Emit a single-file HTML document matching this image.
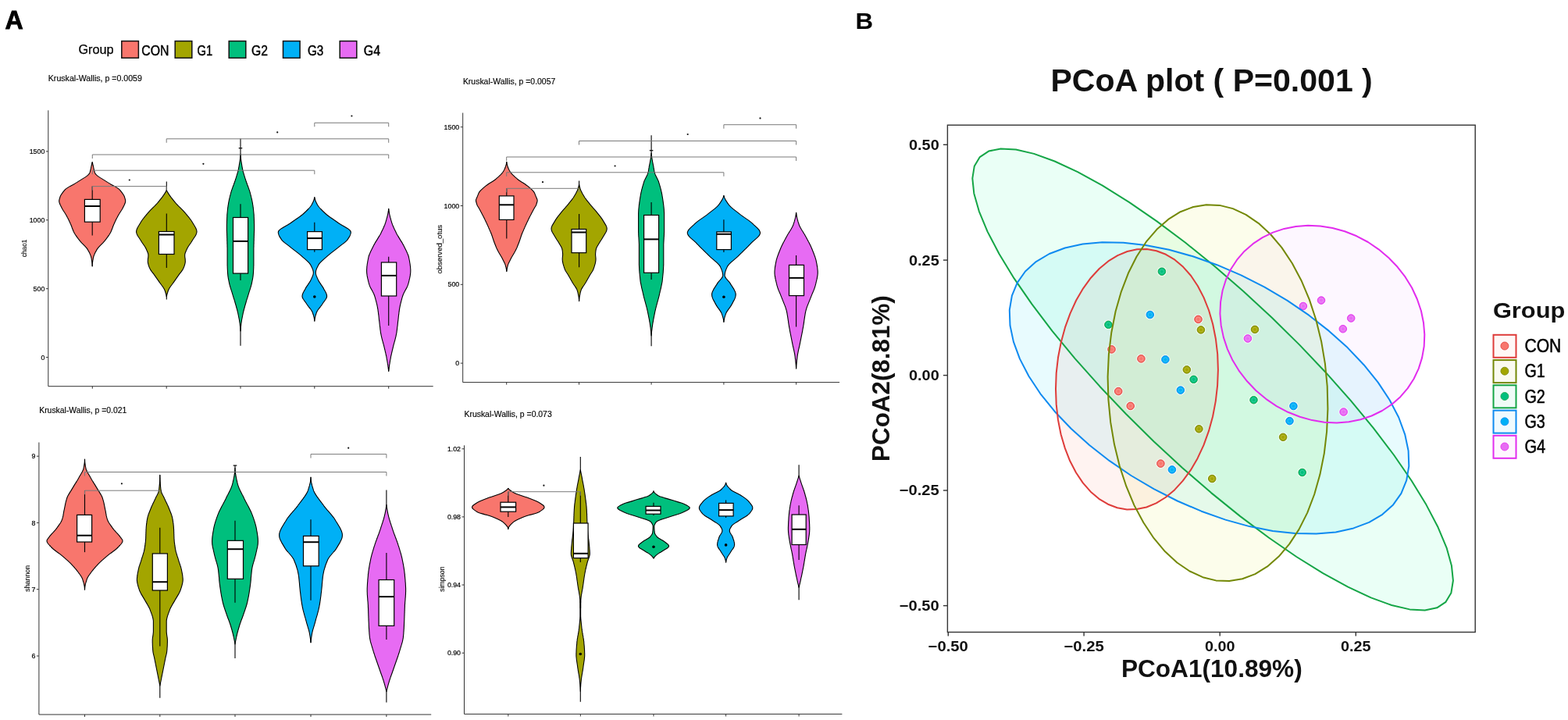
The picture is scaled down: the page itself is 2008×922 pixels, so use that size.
<!DOCTYPE html><html><head><meta charset="utf-8"><title>Alpha diversity and PCoA</title><style>
html,body{margin:0;padding:0;background:#fff;}
body{width:2008px;height:922px;overflow:hidden;}
svg{display:block;}
text{font-family:"Liberation Sans",Arial,sans-serif;fill:#000;}
.vl{stroke:#000;stroke-width:1.1;}
.vo{stroke:#000;stroke-width:1.1;stroke-linejoin:round;}
.wk{stroke:#000;stroke-width:1.1;}
.bx{fill:#fff;stroke:#000;stroke-width:1.2;}
.md{stroke:#000;stroke-width:2;}
.br{fill:none;stroke:#7a7a7a;stroke-width:1;}
.ax{stroke:#333;stroke-width:1;}
.tk{font-size:8.8px;fill:#000;stroke:#000;stroke-width:0.2;}
.yl{font-size:8.6px;fill:#111;stroke:#111;stroke-width:0.15;}
.kw{font-size:10.2px;fill:#000;stroke:#000;stroke-width:0.15;}
.pt{font-size:18.5px;font-weight:bold;fill:#111;}
.at{font-size:31px;font-weight:bold;fill:#111;}
.tt{font-size:41px;font-weight:bold;fill:#111;}
.lg{font-size:28.5px;font-weight:bold;fill:#111;}
.ll{font-size:24.5px;fill:#000;stroke:#000;stroke-width:0.5;}
.gA{font-size:16px;fill:#000;stroke:#000;stroke-width:0.25;}
.lA{font-size:18.7px;fill:#000;stroke:#000;stroke-width:0.45;}
.lab{font-weight:bold;fill:#000;}
</style></head><body>
<svg width="2008" height="922" viewBox="0 0 2008 922">
<rect width="2008" height="922" fill="#fff"/>
<text x="6.6" y="36.9" class="lab" font-size="34" textLength="23.2" lengthAdjust="spacingAndGlyphs" stroke="#000" stroke-width="0.9">A</text>
<text x="1095.6" y="36.7" class="lab" font-size="29.5" textLength="22.6" lengthAdjust="spacingAndGlyphs">B</text>
<text x="100.4" y="69.1" class="gA" textLength="45" lengthAdjust="spacingAndGlyphs">Group</text><rect x="155.8" y="52.6" width="21.6" height="21.6" fill="#F8766D" stroke="#111" stroke-width="1.5"/><text x="181.2" y="70.6" class="lA" textLength="35.2" lengthAdjust="spacingAndGlyphs">CON</text><rect x="224.2" y="52.6" width="21.6" height="21.6" fill="#A3A500" stroke="#111" stroke-width="1.5"/><text x="252.4" y="70.6" class="lA" textLength="19.7" lengthAdjust="spacingAndGlyphs">G1</text><rect x="293.2" y="52.6" width="21.6" height="21.6" fill="#00BF7D" stroke="#111" stroke-width="1.5"/><text x="322.1" y="70.6" class="lA" textLength="21" lengthAdjust="spacingAndGlyphs">G2</text><rect x="362.5" y="52.6" width="21.6" height="21.6" fill="#00B0F6" stroke="#111" stroke-width="1.5"/><text x="393.9" y="70.6" class="lA" textLength="20.3" lengthAdjust="spacingAndGlyphs">G3</text><rect x="435.2" y="52.6" width="21.6" height="21.6" fill="#E76BF3" stroke="#111" stroke-width="1.5"/><text x="465.8" y="70.6" class="lA" textLength="21.3" lengthAdjust="spacingAndGlyphs">G4</text>
<g><line x1="61.8" y1="141.3" x2="61.8" y2="494.7" class="ax"/><line x1="61.8" y1="494.7" x2="554.7" y2="494.7" class="ax"/><line x1="58.8" y1="193.9" x2="61.8" y2="193.9" class="ax"/><text x="57.3" y="197" class="tk" text-anchor="end">1500</text><line x1="58.8" y1="281.8" x2="61.8" y2="281.8" class="ax"/><text x="57.3" y="284.9" class="tk" text-anchor="end">1000</text><line x1="58.8" y1="369.7" x2="61.8" y2="369.7" class="ax"/><text x="57.3" y="372.8" class="tk" text-anchor="end">500</text><line x1="58.8" y1="457.6" x2="61.8" y2="457.6" class="ax"/><text x="57.3" y="460.7" class="tk" text-anchor="end">0</text><line x1="118.3" y1="494.7" x2="118.3" y2="497.7" class="ax"/><line x1="213.2" y1="494.7" x2="213.2" y2="497.7" class="ax"/><line x1="308" y1="494.7" x2="308" y2="497.7" class="ax"/><line x1="402.8" y1="494.7" x2="402.8" y2="497.7" class="ax"/><line x1="497.7" y1="494.7" x2="497.7" y2="497.7" class="ax"/><text transform="translate(33.8,317.9) rotate(-90)" class="yl" text-anchor="middle" textLength="22.6" lengthAdjust="spacingAndGlyphs">chao1</text><text x="61.8" y="104.3" class="kw" textLength="120.1" lengthAdjust="spacingAndGlyphs">Kruskal-Wallis, p =0.0059</text><line x1="118.2" y1="207.5" x2="118.2" y2="341" class="vl"/><path d="M118.2,207.5 L118.4,208.5 L118.7,209.5 L118.9,210.5 L119.1,211.5 L119.4,212.5 L119.6,213.5 L119.8,214.5 L120,215.5 L120.2,216.5 L120.4,217.5 L120.7,218.5 L120.9,219.5 L121.2,220.5 L121.6,221.4 L122.1,222.4 L122.9,223.4 L123.9,224.4 L125.1,225.4 L126.5,226.4 L128,227.4 L129.7,228.4 L131.3,229.4 L132.9,230.4 L134.5,231.4 L136.1,232.4 L137.6,233.4 L139.3,234.4 L141,235.4 L142.8,236.4 L144.7,237.4 L146.5,238.4 L148.2,239.4 L149.8,240.4 L151.3,241.4 L152.6,242.4 L153.6,243.4 L154.4,244.4 L155.2,245.4 L156,246.4 L156.7,247.4 L157.4,248.3 L158,249.3 L158.6,250.3 L159.1,251.3 L159.5,252.3 L159.8,253.3 L160.1,254.3 L160.4,255.3 L160.6,256.3 L160.7,257.3 L160.6,258.3 L160.4,259.3 L160.1,260.3 L159.7,261.3 L159.3,262.3 L158.8,263.3 L158.3,264.3 L157.8,265.3 L157.3,266.3 L156.8,267.3 L156.2,268.3 L155.6,269.3 L154.9,270.3 L154.3,271.3 L153.6,272.3 L153,273.3 L152.4,274.2 L151.8,275.2 L151.2,276.2 L150.7,277.2 L150.2,278.2 L149.6,279.2 L149.1,280.2 L148.6,281.2 L148.1,282.2 L147.7,283.2 L147.2,284.2 L146.7,285.2 L146.3,286.2 L145.8,287.2 L145.4,288.2 L145,289.2 L144.6,290.2 L144.3,291.2 L143.9,292.2 L143.5,293.2 L143.1,294.2 L142.7,295.2 L142.3,296.2 L141.8,297.2 L141.3,298.2 L140.7,299.2 L140.1,300.2 L139.5,301.1 L138.8,302.1 L138.1,303.1 L137.4,304.1 L136.6,305.1 L135.9,306.1 L135.1,307.1 L134.3,308.1 L133.5,309.1 L132.6,310.1 L131.7,311.1 L130.7,312.1 L129.7,313.1 L128.7,314.1 L127.7,315.1 L126.8,316.1 L125.9,317.1 L125.1,318.1 L124.4,319.1 L123.8,320.1 L123.3,321.1 L122.7,322.1 L122.2,323.1 L121.7,324.1 L121.2,325.1 L120.8,326.1 L120.4,327.1 L120,328 L119.8,329 L119.5,330 L119.3,331 L119.2,332 L119,333 L118.8,334 L118.7,335 L118.5,336 L118.4,337 L118.3,338 L118.3,339 L118.2,340 L118.2,341 L118.2,341 L118.2,340 L118.1,339 L118.1,338 L118,337 L117.9,336 L117.7,335 L117.6,334 L117.4,333 L117.2,332 L117.1,331 L116.9,330 L116.6,329 L116.4,328 L116,327.1 L115.6,326.1 L115.2,325.1 L114.7,324.1 L114.2,323.1 L113.7,322.1 L113.1,321.1 L112.6,320.1 L112,319.1 L111.3,318.1 L110.5,317.1 L109.6,316.1 L108.7,315.1 L107.7,314.1 L106.7,313.1 L105.7,312.1 L104.7,311.1 L103.8,310.1 L102.9,309.1 L102.1,308.1 L101.3,307.1 L100.5,306.1 L99.8,305.1 L99,304.1 L98.3,303.1 L97.6,302.1 L96.9,301.1 L96.3,300.2 L95.7,299.2 L95.1,298.2 L94.6,297.2 L94.1,296.2 L93.7,295.2 L93.3,294.2 L92.9,293.2 L92.5,292.2 L92.1,291.2 L91.8,290.2 L91.4,289.2 L91,288.2 L90.6,287.2 L90.1,286.2 L89.7,285.2 L89.2,284.2 L88.7,283.2 L88.3,282.2 L87.8,281.2 L87.3,280.2 L86.8,279.2 L86.2,278.2 L85.7,277.2 L85.2,276.2 L84.6,275.2 L84,274.2 L83.4,273.3 L82.8,272.3 L82.1,271.3 L81.5,270.3 L80.8,269.3 L80.2,268.3 L79.6,267.3 L79.1,266.3 L78.6,265.3 L78.1,264.3 L77.6,263.3 L77.1,262.3 L76.7,261.3 L76.3,260.3 L76,259.3 L75.8,258.3 L75.7,257.3 L75.8,256.3 L76,255.3 L76.3,254.3 L76.6,253.3 L76.9,252.3 L77.3,251.3 L77.8,250.3 L78.4,249.3 L79,248.3 L79.7,247.4 L80.4,246.4 L81.2,245.4 L82,244.4 L82.8,243.4 L83.8,242.4 L85.1,241.4 L86.6,240.4 L88.2,239.4 L89.9,238.4 L91.7,237.4 L93.6,236.4 L95.4,235.4 L97.1,234.4 L98.8,233.4 L100.3,232.4 L101.9,231.4 L103.5,230.4 L105.1,229.4 L106.7,228.4 L108.4,227.4 L109.9,226.4 L111.3,225.4 L112.5,224.4 L113.5,223.4 L114.3,222.4 L114.8,221.4 L115.2,220.5 L115.5,219.5 L115.7,218.5 L116,217.5 L116.2,216.5 L116.4,215.5 L116.6,214.5 L116.8,213.5 L117,212.5 L117.3,211.5 L117.5,210.5 L117.7,209.5 L118,208.5 L118.2,207.5Z" fill="#F8766D" class="vo"/><line x1="118.2" y1="238.6" x2="118.2" y2="255.4" class="wk"/><line x1="118.2" y1="284.2" x2="118.2" y2="301.5" class="wk"/><rect x="108.4" y="255.4" width="19.8" height="28.8" class="bx"/><line x1="108.4" y1="264" x2="128.2" y2="264" class="md"/><line x1="213.3" y1="232.5" x2="213.3" y2="383.5" class="vl"/><path d="M213.3,243.4 L213.8,244.4 L214.3,245.4 L214.8,246.4 L215.4,247.4 L216.1,248.4 L216.7,249.4 L217.4,250.4 L218.1,251.4 L218.8,252.4 L219.6,253.4 L220.4,254.4 L221.2,255.4 L222,256.4 L222.8,257.4 L223.6,258.4 L224.4,259.4 L225.3,260.4 L226.2,261.3 L227.2,262.3 L228.1,263.3 L229.1,264.3 L230.2,265.3 L231.2,266.3 L232.2,267.3 L233.2,268.3 L234.2,269.3 L235.1,270.3 L236,271.3 L236.9,272.3 L237.7,273.3 L238.6,274.3 L239.4,275.3 L240.2,276.3 L241.1,277.3 L241.9,278.3 L242.6,279.3 L243.4,280.3 L244.1,281.3 L244.8,282.3 L245.5,283.3 L246.1,284.3 L246.7,285.3 L247.3,286.3 L247.9,287.3 L248.5,288.3 L249.2,289.3 L249.7,290.3 L250.3,291.3 L250.8,292.3 L251.2,293.3 L251.6,294.3 L251.8,295.2 L252,296.2 L252,297.2 L251.8,298.2 L251.5,299.2 L251.1,300.2 L250.6,301.2 L250.1,302.2 L249.4,303.2 L248.7,304.2 L248,305.2 L247.4,306.2 L246.7,307.2 L246.1,308.2 L245.5,309.2 L244.9,310.2 L244.2,311.2 L243.5,312.2 L242.8,313.2 L242.1,314.2 L241.4,315.2 L240.8,316.2 L240.2,317.2 L239.7,318.2 L239.2,319.2 L238.8,320.2 L238.3,321.2 L237.9,322.2 L237.5,323.2 L237.1,324.2 L236.9,325.2 L236.7,326.2 L236.7,327.2 L236.7,328.2 L236.8,329.1 L236.9,330.1 L237.1,331.1 L237.2,332.1 L237.2,333.1 L237.3,334.1 L237.3,335.1 L237.2,336.1 L237,337.1 L236.8,338.1 L236.5,339.1 L236.2,340.1 L235.9,341.1 L235.5,342.1 L235.1,343.1 L234.6,344.1 L234.1,345.1 L233.4,346.1 L232.7,347.1 L232,348.1 L231.2,349.1 L230.4,350.1 L229.6,351.1 L228.9,352.1 L228.2,353.1 L227.5,354.1 L226.8,355.1 L226.1,356.1 L225.4,357.1 L224.7,358.1 L224,359.1 L223.3,360.1 L222.6,361.1 L221.9,362.1 L221.2,363 L220.5,364 L219.8,365 L219,366 L218.3,367 L217.6,368 L217,369 L216.4,370 L215.9,371 L215.5,372 L215.1,373 L214.8,374 L214.5,375 L214.2,376 L213.9,377 L213.7,378 L213.5,379 L213.3,380 L213.3,380 L213.1,379 L212.9,378 L212.7,377 L212.4,376 L212.1,375 L211.8,374 L211.5,373 L211.1,372 L210.7,371 L210.2,370 L209.6,369 L209,368 L208.3,367 L207.6,366 L206.8,365 L206.1,364 L205.4,363 L204.7,362.1 L204,361.1 L203.3,360.1 L202.6,359.1 L201.9,358.1 L201.2,357.1 L200.5,356.1 L199.8,355.1 L199.1,354.1 L198.4,353.1 L197.7,352.1 L197,351.1 L196.2,350.1 L195.4,349.1 L194.6,348.1 L193.9,347.1 L193.2,346.1 L192.5,345.1 L192,344.1 L191.5,343.1 L191.1,342.1 L190.7,341.1 L190.4,340.1 L190.1,339.1 L189.8,338.1 L189.6,337.1 L189.4,336.1 L189.3,335.1 L189.3,334.1 L189.4,333.1 L189.4,332.1 L189.5,331.1 L189.7,330.1 L189.8,329.1 L189.9,328.2 L189.9,327.2 L189.9,326.2 L189.7,325.2 L189.5,324.2 L189.1,323.2 L188.7,322.2 L188.3,321.2 L187.8,320.2 L187.4,319.2 L186.9,318.2 L186.4,317.2 L185.8,316.2 L185.2,315.2 L184.5,314.2 L183.8,313.2 L183.1,312.2 L182.4,311.2 L181.7,310.2 L181.1,309.2 L180.5,308.2 L179.9,307.2 L179.2,306.2 L178.6,305.2 L177.9,304.2 L177.2,303.2 L176.5,302.2 L176,301.2 L175.5,300.2 L175.1,299.2 L174.8,298.2 L174.6,297.2 L174.6,296.2 L174.8,295.2 L175,294.3 L175.4,293.3 L175.8,292.3 L176.3,291.3 L176.9,290.3 L177.4,289.3 L178.1,288.3 L178.7,287.3 L179.3,286.3 L179.9,285.3 L180.5,284.3 L181.1,283.3 L181.8,282.3 L182.5,281.3 L183.2,280.3 L184,279.3 L184.7,278.3 L185.5,277.3 L186.4,276.3 L187.2,275.3 L188,274.3 L188.9,273.3 L189.7,272.3 L190.6,271.3 L191.5,270.3 L192.4,269.3 L193.4,268.3 L194.4,267.3 L195.4,266.3 L196.4,265.3 L197.5,264.3 L198.5,263.3 L199.4,262.3 L200.4,261.3 L201.3,260.4 L202.2,259.4 L203,258.4 L203.8,257.4 L204.6,256.4 L205.4,255.4 L206.2,254.4 L207,253.4 L207.8,252.4 L208.5,251.4 L209.2,250.4 L209.9,249.4 L210.5,248.4 L211.2,247.4 L211.8,246.4 L212.3,245.4 L212.8,244.4 L213.3,243.4Z" fill="#A3A500" class="vo"/><line x1="213.3" y1="273.6" x2="213.3" y2="296.5" class="wk"/><line x1="213.3" y1="325.5" x2="213.3" y2="343" class="wk"/><rect x="203.4" y="296.5" width="19.6" height="29" class="bx"/><line x1="203.4" y1="300.5" x2="223" y2="300.5" class="md"/><line x1="308" y1="177.6" x2="308" y2="442.7" class="vl"/><path d="M308,197.3 L308.1,198.3 L308.1,199.3 L308.2,200.3 L308.3,201.3 L308.4,202.3 L308.5,203.3 L308.6,204.3 L308.7,205.3 L308.9,206.3 L309,207.3 L309.2,208.3 L309.3,209.3 L309.5,210.3 L309.7,211.3 L309.8,212.3 L310,213.3 L310.2,214.3 L310.4,215.3 L310.5,216.3 L310.8,217.3 L311,218.3 L311.2,219.3 L311.5,220.3 L311.8,221.3 L312.1,222.3 L312.4,223.3 L312.7,224.3 L313,225.3 L313.3,226.3 L313.6,227.3 L313.9,228.3 L314.2,229.3 L314.6,230.3 L314.9,231.3 L315.2,232.3 L315.6,233.3 L315.9,234.3 L316.3,235.2 L316.6,236.2 L317,237.2 L317.4,238.2 L317.8,239.2 L318.1,240.2 L318.5,241.2 L318.8,242.2 L319.2,243.2 L319.5,244.2 L319.8,245.2 L320.1,246.2 L320.4,247.2 L320.6,248.2 L320.9,249.2 L321.2,250.2 L321.4,251.2 L321.7,252.2 L321.9,253.2 L322.2,254.2 L322.4,255.2 L322.6,256.2 L322.8,257.2 L323,258.2 L323.2,259.2 L323.4,260.2 L323.5,261.2 L323.7,262.2 L323.8,263.2 L324,264.2 L324.1,265.2 L324.3,266.2 L324.4,267.2 L324.5,268.2 L324.6,269.2 L324.7,270.2 L324.8,271.2 L324.9,272.2 L325,273.2 L325.1,274.2 L325.2,275.2 L325.2,276.2 L325.2,277.2 L325.3,278.2 L325.3,279.2 L325.4,280.2 L325.4,281.2 L325.4,282.2 L325.5,283.2 L325.5,284.2 L325.5,285.2 L325.5,286.2 L325.6,287.2 L325.6,288.2 L325.6,289.2 L325.6,290.2 L325.6,291.2 L325.6,292.2 L325.6,293.2 L325.6,294.2 L325.6,295.2 L325.5,296.2 L325.5,297.2 L325.5,298.2 L325.4,299.2 L325.4,300.2 L325.4,301.2 L325.3,302.2 L325.3,303.2 L325.3,304.2 L325.2,305.2 L325.2,306.2 L325.2,307.2 L325.2,308.2 L325.1,309.2 L325.1,310.2 L325.1,311.1 L325.1,312.1 L325,313.1 L325,314.1 L325,315.1 L325,316.1 L324.9,317.1 L324.9,318.1 L324.9,319.1 L324.9,320.1 L324.9,321.1 L324.9,322.1 L324.9,323.1 L324.9,324.1 L324.9,325.1 L324.9,326.1 L324.9,327.1 L324.9,328.1 L324.9,329.1 L324.9,330.1 L324.9,331.1 L324.9,332.1 L324.9,333.1 L324.9,334.1 L324.9,335.1 L324.9,336.1 L324.9,337.1 L324.9,338.1 L324.9,339.1 L324.9,340.1 L324.8,341.1 L324.8,342.1 L324.8,343.1 L324.7,344.1 L324.7,345.1 L324.6,346.1 L324.6,347.1 L324.5,348.1 L324.5,349.1 L324.4,350.1 L324.3,351.1 L324.2,352.1 L324.1,353.1 L324,354.1 L323.8,355.1 L323.7,356.1 L323.5,357.1 L323.3,358.1 L323.1,359.1 L322.9,360.1 L322.7,361.1 L322.5,362.1 L322.3,363.1 L322.1,364.1 L321.8,365.1 L321.5,366.1 L321.3,367.1 L320.9,368.1 L320.6,369.1 L320.3,370.1 L320,371.1 L319.7,372.1 L319.3,373.1 L319,374.1 L318.7,375.1 L318.4,376.1 L318.1,377.1 L317.8,378.1 L317.5,379.1 L317.2,380.1 L316.9,381.1 L316.6,382.1 L316.2,383.1 L315.9,384.1 L315.6,385.1 L315.3,386.1 L315.1,387 L314.8,388 L314.5,389 L314.2,390 L313.9,391 L313.6,392 L313.4,393 L313.1,394 L312.8,395 L312.5,396 L312.3,397 L312,398 L311.8,399 L311.5,400 L311.3,401 L311.1,402 L310.9,403 L310.7,404 L310.5,405 L310.3,406 L310.1,407 L309.9,408 L309.7,409 L309.5,410 L309.4,411 L309.2,412 L309.1,413 L308.9,414 L308.8,415 L308.7,416 L308.6,417 L308.5,418 L308.4,419 L308.3,420 L308.2,421 L308.1,422 L308.1,423 L308,424 L308,424 L307.9,423 L307.9,422 L307.8,421 L307.7,420 L307.6,419 L307.5,418 L307.4,417 L307.3,416 L307.2,415 L307.1,414 L306.9,413 L306.8,412 L306.6,411 L306.5,410 L306.3,409 L306.1,408 L305.9,407 L305.7,406 L305.5,405 L305.3,404 L305.1,403 L304.9,402 L304.7,401 L304.5,400 L304.2,399 L304,398 L303.7,397 L303.5,396 L303.2,395 L302.9,394 L302.6,393 L302.4,392 L302.1,391 L301.8,390 L301.5,389 L301.2,388 L300.9,387 L300.7,386.1 L300.4,385.1 L300.1,384.1 L299.8,383.1 L299.4,382.1 L299.1,381.1 L298.8,380.1 L298.5,379.1 L298.2,378.1 L297.9,377.1 L297.6,376.1 L297.3,375.1 L297,374.1 L296.7,373.1 L296.3,372.1 L296,371.1 L295.7,370.1 L295.4,369.1 L295.1,368.1 L294.7,367.1 L294.5,366.1 L294.2,365.1 L293.9,364.1 L293.7,363.1 L293.5,362.1 L293.3,361.1 L293.1,360.1 L292.9,359.1 L292.7,358.1 L292.5,357.1 L292.3,356.1 L292.2,355.1 L292,354.1 L291.9,353.1 L291.8,352.1 L291.7,351.1 L291.6,350.1 L291.5,349.1 L291.5,348.1 L291.4,347.1 L291.4,346.1 L291.3,345.1 L291.3,344.1 L291.2,343.1 L291.2,342.1 L291.2,341.1 L291.1,340.1 L291.1,339.1 L291.1,338.1 L291.1,337.1 L291.1,336.1 L291.1,335.1 L291.1,334.1 L291.1,333.1 L291.1,332.1 L291.1,331.1 L291.1,330.1 L291.1,329.1 L291.1,328.1 L291.1,327.1 L291.1,326.1 L291.1,325.1 L291.1,324.1 L291.1,323.1 L291.1,322.1 L291.1,321.1 L291.1,320.1 L291.1,319.1 L291.1,318.1 L291.1,317.1 L291,316.1 L291,315.1 L291,314.1 L291,313.1 L290.9,312.1 L290.9,311.1 L290.9,310.2 L290.9,309.2 L290.8,308.2 L290.8,307.2 L290.8,306.2 L290.8,305.2 L290.7,304.2 L290.7,303.2 L290.7,302.2 L290.6,301.2 L290.6,300.2 L290.6,299.2 L290.5,298.2 L290.5,297.2 L290.5,296.2 L290.4,295.2 L290.4,294.2 L290.4,293.2 L290.4,292.2 L290.4,291.2 L290.4,290.2 L290.4,289.2 L290.4,288.2 L290.4,287.2 L290.5,286.2 L290.5,285.2 L290.5,284.2 L290.5,283.2 L290.6,282.2 L290.6,281.2 L290.6,280.2 L290.7,279.2 L290.7,278.2 L290.8,277.2 L290.8,276.2 L290.8,275.2 L290.9,274.2 L291,273.2 L291.1,272.2 L291.2,271.2 L291.3,270.2 L291.4,269.2 L291.5,268.2 L291.6,267.2 L291.7,266.2 L291.9,265.2 L292,264.2 L292.2,263.2 L292.3,262.2 L292.5,261.2 L292.6,260.2 L292.8,259.2 L293,258.2 L293.2,257.2 L293.4,256.2 L293.6,255.2 L293.8,254.2 L294.1,253.2 L294.3,252.2 L294.6,251.2 L294.8,250.2 L295.1,249.2 L295.4,248.2 L295.6,247.2 L295.9,246.2 L296.2,245.2 L296.5,244.2 L296.8,243.2 L297.2,242.2 L297.5,241.2 L297.9,240.2 L298.2,239.2 L298.6,238.2 L299,237.2 L299.4,236.2 L299.7,235.2 L300.1,234.3 L300.4,233.3 L300.8,232.3 L301.1,231.3 L301.4,230.3 L301.8,229.3 L302.1,228.3 L302.4,227.3 L302.7,226.3 L303,225.3 L303.3,224.3 L303.6,223.3 L303.9,222.3 L304.2,221.3 L304.5,220.3 L304.8,219.3 L305,218.3 L305.2,217.3 L305.5,216.3 L305.6,215.3 L305.8,214.3 L306,213.3 L306.2,212.3 L306.3,211.3 L306.5,210.3 L306.7,209.3 L306.8,208.3 L307,207.3 L307.1,206.3 L307.3,205.3 L307.4,204.3 L307.5,203.3 L307.6,202.3 L307.7,201.3 L307.8,200.3 L307.9,199.3 L307.9,198.3 L308,197.3Z" fill="#00BF7D" class="vo"/><line x1="308" y1="261.3" x2="308" y2="278.5" class="wk"/><line x1="308" y1="350.1" x2="308" y2="359" class="wk"/><rect x="298.5" y="278.5" width="19.1" height="71.6" class="bx"/><line x1="298.5" y1="308.9" x2="317.6" y2="308.9" class="md"/><line x1="402.8" y1="252.5" x2="402.8" y2="411.3" class="vl"/><path d="M402.8,252.5 L403,253.5 L403.2,254.5 L403.5,255.5 L403.8,256.5 L404.2,257.5 L404.6,258.5 L405.1,259.5 L405.6,260.5 L406.1,261.5 L406.6,262.5 L407.3,263.5 L408,264.5 L408.8,265.5 L409.7,266.5 L410.6,267.5 L411.6,268.5 L412.6,269.5 L413.6,270.5 L414.7,271.5 L415.7,272.5 L416.8,273.5 L417.9,274.5 L419.2,275.5 L420.5,276.5 L421.8,277.5 L423.2,278.5 L424.7,279.5 L426.2,280.5 L427.6,281.5 L429.1,282.5 L430.5,283.5 L431.9,284.5 L433.3,285.5 L434.8,286.5 L436.4,287.5 L438.1,288.5 L439.9,289.5 L441.6,290.5 L443.3,291.5 L444.9,292.4 L446.3,293.4 L447.5,294.4 L448.5,295.4 L449.1,296.4 L449.3,297.4 L449.2,298.4 L449,299.4 L448.7,300.4 L448.3,301.4 L447.8,302.4 L447.3,303.4 L446.7,304.4 L446,305.4 L445.4,306.4 L444.7,307.4 L443.8,308.4 L442.7,309.4 L441.6,310.4 L440.3,311.4 L439,312.4 L437.6,313.4 L436.3,314.4 L435,315.4 L433.8,316.4 L432.6,317.4 L431.3,318.4 L430,319.4 L428.7,320.4 L427.4,321.4 L426.1,322.4 L424.8,323.4 L423.5,324.4 L422.3,325.4 L421.1,326.4 L419.9,327.4 L418.8,328.4 L417.7,329.4 L416.5,330.4 L415.3,331.4 L414.2,332.4 L413.1,333.4 L412,334.4 L411,335.4 L410,336.4 L409.1,337.4 L408.4,338.4 L407.7,339.4 L407.2,340.4 L406.7,341.4 L406.2,342.4 L405.8,343.4 L405.4,344.4 L405,345.4 L404.7,346.4 L404.5,347.4 L404.3,348.4 L404.3,349.4 L404.4,350.4 L404.6,351.4 L404.9,352.4 L405.2,353.4 L405.7,354.4 L406.1,355.4 L406.6,356.4 L407,357.4 L407.5,358.4 L408,359.4 L408.5,360.4 L409.1,361.4 L409.8,362.4 L410.5,363.4 L411.1,364.4 L411.8,365.4 L412.5,366.4 L413.2,367.4 L413.8,368.4 L414.4,369.4 L414.9,370.4 L415.4,371.4 L416,372.3 L416.5,373.3 L417.1,374.3 L417.5,375.3 L418,376.3 L418.3,377.3 L418.5,378.3 L418.6,379.3 L418.5,380.3 L418.2,381.3 L417.7,382.3 L417.1,383.3 L416.4,384.3 L415.7,385.3 L414.9,386.3 L414.2,387.3 L413.5,388.3 L412.9,389.3 L412.2,390.3 L411.4,391.3 L410.7,392.3 L409.9,393.3 L409.1,394.3 L408.3,395.3 L407.6,396.3 L406.9,397.3 L406.3,398.3 L405.8,399.3 L405.3,400.3 L405,401.3 L404.7,402.3 L404.3,403.3 L404,404.3 L403.8,405.3 L403.5,406.3 L403.3,407.3 L403.1,408.3 L402.9,409.3 L402.8,410.3 L402.8,411.3 L402.8,411.3 L402.8,410.3 L402.7,409.3 L402.5,408.3 L402.3,407.3 L402.1,406.3 L401.8,405.3 L401.6,404.3 L401.3,403.3 L400.9,402.3 L400.6,401.3 L400.3,400.3 L399.8,399.3 L399.3,398.3 L398.7,397.3 L398,396.3 L397.3,395.3 L396.5,394.3 L395.7,393.3 L394.9,392.3 L394.2,391.3 L393.4,390.3 L392.7,389.3 L392.1,388.3 L391.4,387.3 L390.7,386.3 L389.9,385.3 L389.2,384.3 L388.5,383.3 L387.9,382.3 L387.4,381.3 L387.1,380.3 L387,379.3 L387.1,378.3 L387.3,377.3 L387.6,376.3 L388.1,375.3 L388.5,374.3 L389.1,373.3 L389.6,372.3 L390.2,371.4 L390.7,370.4 L391.2,369.4 L391.8,368.4 L392.4,367.4 L393.1,366.4 L393.8,365.4 L394.5,364.4 L395.1,363.4 L395.8,362.4 L396.5,361.4 L397.1,360.4 L397.6,359.4 L398.1,358.4 L398.6,357.4 L399,356.4 L399.5,355.4 L399.9,354.4 L400.4,353.4 L400.7,352.4 L401,351.4 L401.2,350.4 L401.3,349.4 L401.3,348.4 L401.1,347.4 L400.9,346.4 L400.6,345.4 L400.2,344.4 L399.8,343.4 L399.4,342.4 L398.9,341.4 L398.4,340.4 L397.9,339.4 L397.2,338.4 L396.5,337.4 L395.6,336.4 L394.6,335.4 L393.6,334.4 L392.5,333.4 L391.4,332.4 L390.3,331.4 L389.1,330.4 L387.9,329.4 L386.8,328.4 L385.7,327.4 L384.5,326.4 L383.3,325.4 L382.1,324.4 L380.8,323.4 L379.5,322.4 L378.2,321.4 L376.9,320.4 L375.6,319.4 L374.3,318.4 L373,317.4 L371.8,316.4 L370.6,315.4 L369.3,314.4 L368,313.4 L366.6,312.4 L365.3,311.4 L364,310.4 L362.9,309.4 L361.8,308.4 L360.9,307.4 L360.2,306.4 L359.6,305.4 L358.9,304.4 L358.3,303.4 L357.8,302.4 L357.3,301.4 L356.9,300.4 L356.6,299.4 L356.4,298.4 L356.3,297.4 L356.5,296.4 L357.1,295.4 L358.1,294.4 L359.3,293.4 L360.7,292.4 L362.3,291.5 L364,290.5 L365.7,289.5 L367.5,288.5 L369.2,287.5 L370.8,286.5 L372.3,285.5 L373.7,284.5 L375.1,283.5 L376.5,282.5 L378,281.5 L379.4,280.5 L380.9,279.5 L382.4,278.5 L383.8,277.5 L385.1,276.5 L386.4,275.5 L387.7,274.5 L388.8,273.5 L389.9,272.5 L390.9,271.5 L392,270.5 L393,269.5 L394,268.5 L395,267.5 L395.9,266.5 L396.8,265.5 L397.6,264.5 L398.3,263.5 L399,262.5 L399.5,261.5 L400,260.5 L400.5,259.5 L401,258.5 L401.4,257.5 L401.8,256.5 L402.1,255.5 L402.4,254.5 L402.6,253.5 L402.8,252.5Z" fill="#00B0F6" class="vo"/><line x1="402.8" y1="284.7" x2="402.8" y2="296.6" class="wk"/><line x1="402.8" y1="319.6" x2="402.8" y2="322.7" class="wk"/><rect x="393.6" y="296.6" width="18.8" height="23" class="bx"/><line x1="393.6" y1="305.1" x2="412.4" y2="305.1" class="md"/><circle cx="402.8" cy="380" r="1.8" fill="#000"/><line x1="497.7" y1="267.3" x2="497.7" y2="475.4" class="vl"/><path d="M497.7,267.3 L497.8,268.3 L497.9,269.3 L498.1,270.3 L498.3,271.3 L498.4,272.3 L498.6,273.3 L498.8,274.3 L499,275.3 L499.3,276.3 L499.5,277.3 L499.7,278.3 L500,279.2 L500.3,280.2 L500.5,281.2 L500.8,282.2 L501.1,283.2 L501.4,284.2 L501.7,285.2 L502.1,286.2 L502.4,287.2 L502.8,288.2 L503.3,289.2 L503.7,290.2 L504.1,291.2 L504.6,292.2 L505,293.2 L505.5,294.2 L506,295.2 L506.5,296.2 L507,297.2 L507.4,298.2 L507.9,299.2 L508.4,300.2 L509,301.2 L509.6,302.1 L510.2,303.1 L510.8,304.1 L511.4,305.1 L512,306.1 L512.6,307.1 L513.2,308.1 L513.9,309.1 L514.5,310.1 L515.1,311.1 L515.6,312.1 L516.2,313.1 L516.7,314.1 L517.2,315.1 L517.7,316.1 L518.2,317.1 L518.7,318.1 L519.2,319.1 L519.7,320.1 L520.2,321.1 L520.7,322.1 L521.1,323.1 L521.6,324.1 L522,325.1 L522.4,326 L522.8,327 L523.1,328 L523.4,329 L523.6,330 L523.8,331 L524,332 L524.2,333 L524.4,334 L524.6,335 L524.7,336 L524.9,337 L525.1,338 L525.2,339 L525.3,340 L525.5,341 L525.6,342 L525.6,343 L525.7,344 L525.8,345 L525.8,346 L525.8,347 L525.8,348 L525.7,348.9 L525.7,349.9 L525.5,350.9 L525.4,351.9 L525.3,352.9 L525.1,353.9 L524.9,354.9 L524.7,355.9 L524.5,356.9 L524.2,357.9 L524,358.9 L523.8,359.9 L523.5,360.9 L523.3,361.9 L523,362.9 L522.7,363.9 L522.4,364.9 L522,365.9 L521.6,366.9 L521.1,367.9 L520.6,368.9 L520.1,369.9 L519.5,370.9 L519,371.8 L518.5,372.8 L518,373.8 L517.4,374.8 L517,375.8 L516.5,376.8 L516.1,377.8 L515.8,378.8 L515.4,379.8 L515.1,380.8 L514.8,381.8 L514.5,382.8 L514.3,383.8 L514,384.8 L513.7,385.8 L513.5,386.8 L513.2,387.8 L513,388.8 L512.7,389.8 L512.5,390.8 L512.3,391.8 L512.1,392.8 L511.9,393.8 L511.8,394.7 L511.6,395.7 L511.4,396.7 L511.3,397.7 L511.2,398.7 L511,399.7 L510.9,400.7 L510.8,401.7 L510.7,402.7 L510.5,403.7 L510.4,404.7 L510.3,405.7 L510.2,406.7 L510.1,407.7 L510,408.7 L509.9,409.7 L509.8,410.7 L509.6,411.7 L509.5,412.7 L509.4,413.7 L509.3,414.7 L509.2,415.7 L509.1,416.7 L509,417.6 L508.8,418.6 L508.7,419.6 L508.6,420.6 L508.5,421.6 L508.4,422.6 L508.2,423.6 L508.1,424.6 L508,425.6 L507.8,426.6 L507.6,427.6 L507.4,428.6 L507.2,429.6 L507,430.6 L506.8,431.6 L506.5,432.6 L506.3,433.6 L506,434.6 L505.8,435.6 L505.5,436.6 L505.2,437.6 L504.9,438.6 L504.7,439.6 L504.4,440.6 L504.1,441.5 L503.9,442.5 L503.6,443.5 L503.4,444.5 L503.2,445.5 L502.9,446.5 L502.7,447.5 L502.4,448.5 L502.2,449.5 L502,450.5 L501.7,451.5 L501.5,452.5 L501.3,453.5 L501.1,454.5 L500.8,455.5 L500.6,456.5 L500.4,457.5 L500.3,458.5 L500.1,459.5 L499.9,460.5 L499.7,461.5 L499.5,462.5 L499.4,463.5 L499.2,464.4 L499.1,465.4 L498.9,466.4 L498.7,467.4 L498.6,468.4 L498.5,469.4 L498.3,470.4 L498.2,471.4 L498.1,472.4 L497.9,473.4 L497.8,474.4 L497.7,475.4 L497.7,475.4 L497.6,474.4 L497.5,473.4 L497.3,472.4 L497.2,471.4 L497.1,470.4 L496.9,469.4 L496.8,468.4 L496.7,467.4 L496.5,466.4 L496.3,465.4 L496.2,464.4 L496,463.5 L495.9,462.5 L495.7,461.5 L495.5,460.5 L495.3,459.5 L495.1,458.5 L495,457.5 L494.8,456.5 L494.6,455.5 L494.3,454.5 L494.1,453.5 L493.9,452.5 L493.7,451.5 L493.4,450.5 L493.2,449.5 L493,448.5 L492.7,447.5 L492.5,446.5 L492.2,445.5 L492,444.5 L491.8,443.5 L491.5,442.5 L491.3,441.5 L491,440.6 L490.7,439.6 L490.5,438.6 L490.2,437.6 L489.9,436.6 L489.6,435.6 L489.4,434.6 L489.1,433.6 L488.9,432.6 L488.6,431.6 L488.4,430.6 L488.2,429.6 L488,428.6 L487.8,427.6 L487.6,426.6 L487.4,425.6 L487.3,424.6 L487.2,423.6 L487,422.6 L486.9,421.6 L486.8,420.6 L486.7,419.6 L486.6,418.6 L486.4,417.6 L486.3,416.7 L486.2,415.7 L486.1,414.7 L486,413.7 L485.9,412.7 L485.8,411.7 L485.6,410.7 L485.5,409.7 L485.4,408.7 L485.3,407.7 L485.2,406.7 L485.1,405.7 L485,404.7 L484.9,403.7 L484.7,402.7 L484.6,401.7 L484.5,400.7 L484.4,399.7 L484.2,398.7 L484.1,397.7 L484,396.7 L483.8,395.7 L483.6,394.7 L483.5,393.8 L483.3,392.8 L483.1,391.8 L482.9,390.8 L482.7,389.8 L482.4,388.8 L482.2,387.8 L481.9,386.8 L481.7,385.8 L481.4,384.8 L481.1,383.8 L480.9,382.8 L480.6,381.8 L480.3,380.8 L480,379.8 L479.6,378.8 L479.3,377.8 L478.9,376.8 L478.4,375.8 L478,374.8 L477.4,373.8 L476.9,372.8 L476.4,371.8 L475.9,370.9 L475.3,369.9 L474.8,368.9 L474.3,367.9 L473.8,366.9 L473.4,365.9 L473,364.9 L472.7,363.9 L472.4,362.9 L472.1,361.9 L471.9,360.9 L471.6,359.9 L471.4,358.9 L471.2,357.9 L470.9,356.9 L470.7,355.9 L470.5,354.9 L470.3,353.9 L470.1,352.9 L470,351.9 L469.9,350.9 L469.7,349.9 L469.7,348.9 L469.6,348 L469.6,347 L469.6,346 L469.6,345 L469.7,344 L469.8,343 L469.8,342 L469.9,341 L470.1,340 L470.2,339 L470.3,338 L470.5,337 L470.7,336 L470.8,335 L471,334 L471.2,333 L471.4,332 L471.6,331 L471.8,330 L472,329 L472.3,328 L472.6,327 L473,326 L473.4,325.1 L473.8,324.1 L474.3,323.1 L474.7,322.1 L475.2,321.1 L475.7,320.1 L476.2,319.1 L476.7,318.1 L477.2,317.1 L477.7,316.1 L478.2,315.1 L478.7,314.1 L479.2,313.1 L479.8,312.1 L480.3,311.1 L480.9,310.1 L481.5,309.1 L482.2,308.1 L482.8,307.1 L483.4,306.1 L484,305.1 L484.6,304.1 L485.2,303.1 L485.8,302.1 L486.4,301.2 L487,300.2 L487.5,299.2 L488,298.2 L488.4,297.2 L488.9,296.2 L489.4,295.2 L489.9,294.2 L490.4,293.2 L490.8,292.2 L491.3,291.2 L491.7,290.2 L492.1,289.2 L492.6,288.2 L493,287.2 L493.3,286.2 L493.7,285.2 L494,284.2 L494.3,283.2 L494.6,282.2 L494.9,281.2 L495.1,280.2 L495.4,279.2 L495.7,278.3 L495.9,277.3 L496.1,276.3 L496.4,275.3 L496.6,274.3 L496.8,273.3 L497,272.3 L497.1,271.3 L497.3,270.3 L497.5,269.3 L497.6,268.3 L497.7,267.3Z" fill="#E76BF3" class="vo"/><line x1="497.7" y1="328.8" x2="497.7" y2="336" class="wk"/><line x1="497.7" y1="379" x2="497.7" y2="417.1" class="wk"/><rect x="488.4" y="336" width="19.3" height="43" class="bx"/><line x1="488.4" y1="352.9" x2="507.7" y2="352.9" class="md"/><path d="M118.3,243.6 V238.6 H213.2 V243.6" class="br"/><path d="M118.3,223.2 V218.2 H402.8 V223.2" class="br"/><path d="M118.3,203 V198 H497.7 V203" class="br"/><path d="M213.2,182.8 V177.8 H497.7 V182.8" class="br"/><path d="M402.8,162.3 V157.3 H497.7 V162.3" class="br"/><circle cx="165.8" cy="230.5" r="1.1" fill="#111"/><circle cx="260.4" cy="209.8" r="1.1" fill="#111"/><line x1="305.7" y1="189.7" x2="310.3" y2="189.7" stroke="#111" stroke-width="1.3"/><circle cx="355.2" cy="169.4" r="1.1" fill="#111"/><circle cx="450.4" cy="148.5" r="1.1" fill="#111"/></g>
<g><line x1="592.7" y1="144.5" x2="592.7" y2="489.6" class="ax"/><line x1="592.7" y1="489.6" x2="1075.1" y2="489.6" class="ax"/><line x1="589.7" y1="162.7" x2="592.7" y2="162.7" class="ax"/><text x="588.2" y="165.8" class="tk" text-anchor="end">1500</text><line x1="589.7" y1="263.5" x2="592.7" y2="263.5" class="ax"/><text x="588.2" y="266.6" class="tk" text-anchor="end">1000</text><line x1="589.7" y1="364.3" x2="592.7" y2="364.3" class="ax"/><text x="588.2" y="367.4" class="tk" text-anchor="end">500</text><line x1="589.7" y1="465.1" x2="592.7" y2="465.1" class="ax"/><text x="588.2" y="468.2" class="tk" text-anchor="end">0</text><line x1="648.7" y1="489.6" x2="648.7" y2="492.6" class="ax"/><line x1="741.5" y1="489.6" x2="741.5" y2="492.6" class="ax"/><line x1="834.1" y1="489.6" x2="834.1" y2="492.6" class="ax"/><line x1="926.9" y1="489.6" x2="926.9" y2="492.6" class="ax"/><line x1="1019.6" y1="489.6" x2="1019.6" y2="492.6" class="ax"/><text transform="translate(566.3,319.2) rotate(-90)" class="yl" text-anchor="middle" textLength="62.7" lengthAdjust="spacingAndGlyphs">observed_otus</text><text x="592.9" y="108.1" class="kw" textLength="118.4" lengthAdjust="spacingAndGlyphs">Kruskal-Wallis, p =0.0057</text><line x1="648.8" y1="207.3" x2="648.8" y2="347.6" class="vl"/><path d="M648.8,207.3 L648.9,208.3 L649.1,209.3 L649.3,210.3 L649.6,211.3 L649.9,212.3 L650.2,213.3 L650.5,214.3 L650.9,215.3 L651.3,216.3 L651.8,217.3 L652.3,218.2 L652.9,219.2 L653.5,220.2 L654.2,221.2 L655,222.2 L655.9,223.2 L656.9,224.2 L658,225.2 L659,226.2 L660.1,227.2 L661.3,228.2 L662.5,229.2 L663.8,230.2 L665.2,231.2 L666.7,232.2 L668.3,233.2 L670,234.2 L671.6,235.2 L673,236.2 L674.3,237.2 L675.6,238.1 L676.8,239.1 L678,240.1 L679.1,241.1 L680.2,242.1 L681.3,243.1 L682.3,244.1 L683.2,245.1 L683.9,246.1 L684.4,247.1 L684.9,248.1 L685.3,249.1 L685.7,250.1 L686.1,251.1 L686.5,252.1 L686.9,253.1 L687.4,254.1 L687.8,255.1 L688.1,256.1 L688.1,257.1 L688,258 L687.7,259 L687.4,260 L687.1,261 L686.8,262 L686.4,263 L685.9,264 L685.2,265 L684.6,266 L684,267 L683.5,268 L682.9,269 L682.4,270 L681.9,271 L681.3,272 L680.8,273 L680.3,274 L679.8,275 L679.2,276 L678.7,277 L678.2,277.9 L677.7,278.9 L677.2,279.9 L676.7,280.9 L676.3,281.9 L675.8,282.9 L675.3,283.9 L674.8,284.9 L674.4,285.9 L673.9,286.9 L673.4,287.9 L673,288.9 L672.5,289.9 L672.1,290.9 L671.7,291.9 L671.2,292.9 L670.8,293.9 L670.4,294.9 L669.9,295.9 L669.5,296.9 L669.1,297.8 L668.7,298.8 L668.3,299.8 L667.9,300.8 L667.6,301.8 L667.2,302.8 L666.9,303.8 L666.6,304.8 L666.2,305.8 L665.9,306.8 L665.6,307.8 L665.2,308.8 L664.9,309.8 L664.5,310.8 L664.1,311.8 L663.7,312.8 L663.3,313.8 L662.9,314.8 L662.5,315.8 L662.1,316.8 L661.7,317.7 L661.2,318.7 L660.7,319.7 L660.2,320.7 L659.7,321.7 L659.1,322.7 L658.6,323.7 L658,324.7 L657.4,325.7 L656.8,326.7 L656.2,327.7 L655.6,328.7 L655,329.7 L654.5,330.7 L654,331.7 L653.5,332.7 L653,333.7 L652.5,334.7 L652,335.7 L651.5,336.7 L651.1,337.6 L650.7,338.6 L650.4,339.6 L650.1,340.6 L649.9,341.6 L649.6,342.6 L649.4,343.6 L649.2,344.6 L649,345.6 L648.9,346.6 L648.8,347.6 L648.8,347.6 L648.7,346.6 L648.6,345.6 L648.4,344.6 L648.2,343.6 L648,342.6 L647.7,341.6 L647.5,340.6 L647.2,339.6 L646.9,338.6 L646.5,337.6 L646.1,336.7 L645.6,335.7 L645.1,334.7 L644.6,333.7 L644.1,332.7 L643.6,331.7 L643.1,330.7 L642.6,329.7 L642,328.7 L641.4,327.7 L640.8,326.7 L640.2,325.7 L639.6,324.7 L639,323.7 L638.5,322.7 L637.9,321.7 L637.4,320.7 L636.9,319.7 L636.4,318.7 L635.9,317.7 L635.5,316.8 L635.1,315.8 L634.7,314.8 L634.3,313.8 L633.9,312.8 L633.5,311.8 L633.1,310.8 L632.7,309.8 L632.4,308.8 L632,307.8 L631.7,306.8 L631.4,305.8 L631,304.8 L630.7,303.8 L630.4,302.8 L630,301.8 L629.7,300.8 L629.3,299.8 L628.9,298.8 L628.5,297.8 L628.1,296.9 L627.7,295.9 L627.2,294.9 L626.8,293.9 L626.4,292.9 L625.9,291.9 L625.5,290.9 L625.1,289.9 L624.6,288.9 L624.2,287.9 L623.7,286.9 L623.2,285.9 L622.8,284.9 L622.3,283.9 L621.8,282.9 L621.3,281.9 L620.9,280.9 L620.4,279.9 L619.9,278.9 L619.4,277.9 L618.9,277 L618.4,276 L617.8,275 L617.3,274 L616.8,273 L616.3,272 L615.7,271 L615.2,270 L614.7,269 L614.1,268 L613.6,267 L613,266 L612.4,265 L611.7,264 L611.2,263 L610.8,262 L610.5,261 L610.2,260 L609.9,259 L609.6,258 L609.5,257.1 L609.5,256.1 L609.8,255.1 L610.2,254.1 L610.7,253.1 L611.1,252.1 L611.5,251.1 L611.9,250.1 L612.3,249.1 L612.7,248.1 L613.2,247.1 L613.7,246.1 L614.4,245.1 L615.3,244.1 L616.3,243.1 L617.4,242.1 L618.5,241.1 L619.6,240.1 L620.8,239.1 L622,238.1 L623.3,237.2 L624.6,236.2 L626,235.2 L627.6,234.2 L629.3,233.2 L630.9,232.2 L632.4,231.2 L633.8,230.2 L635.1,229.2 L636.3,228.2 L637.5,227.2 L638.6,226.2 L639.6,225.2 L640.7,224.2 L641.7,223.2 L642.6,222.2 L643.4,221.2 L644.1,220.2 L644.7,219.2 L645.3,218.2 L645.8,217.3 L646.3,216.3 L646.7,215.3 L647.1,214.3 L647.4,213.3 L647.7,212.3 L648,211.3 L648.3,210.3 L648.5,209.3 L648.7,208.3 L648.8,207.3Z" fill="#F8766D" class="vo"/><line x1="648.8" y1="241.3" x2="648.8" y2="250.9" class="wk"/><line x1="648.8" y1="281.4" x2="648.8" y2="305.4" class="wk"/><rect x="639.3" y="250.9" width="18.7" height="30.5" class="bx"/><line x1="639.3" y1="262.3" x2="658" y2="262.3" class="md"/><line x1="741.6" y1="231.5" x2="741.6" y2="385.6" class="vl"/><path d="M741.6,236 L741.8,237 L742,238 L742.2,239 L742.5,240 L742.8,241 L743.1,242 L743.5,243 L743.9,244 L744.4,245 L744.9,246 L745.4,247 L745.9,248 L746.5,249 L747.1,250 L747.7,251 L748.3,252 L748.9,253 L749.6,254 L750.3,254.9 L751,255.9 L751.8,256.9 L752.6,257.9 L753.4,258.9 L754.2,259.9 L755,260.9 L755.8,261.9 L756.7,262.9 L757.5,263.9 L758.4,264.9 L759.2,265.9 L760.1,266.9 L761,267.9 L761.9,268.9 L762.8,269.9 L763.6,270.9 L764.4,271.9 L765.2,272.9 L766,273.9 L766.8,274.9 L767.6,275.9 L768.4,276.9 L769.2,277.9 L769.9,278.9 L770.6,279.9 L771.3,280.9 L771.9,281.9 L772.5,282.9 L773.1,283.9 L773.7,284.9 L774.3,285.9 L774.9,286.9 L775.5,287.9 L776.1,288.9 L776.5,289.9 L776.9,290.9 L777.1,291.9 L777.2,292.8 L777.1,293.8 L776.9,294.8 L776.6,295.8 L776.2,296.8 L775.7,297.8 L775.1,298.8 L774.5,299.8 L773.9,300.8 L773.3,301.8 L772.7,302.8 L772.1,303.8 L771.5,304.8 L770.9,305.8 L770.3,306.8 L769.6,307.8 L768.9,308.8 L768.3,309.8 L767.7,310.8 L767.1,311.8 L766.5,312.8 L765.9,313.8 L765.3,314.8 L764.7,315.8 L764.2,316.8 L763.7,317.8 L763.4,318.8 L763.2,319.8 L763,320.8 L762.9,321.8 L762.8,322.8 L762.7,323.8 L762.6,324.8 L762.6,325.8 L762.6,326.8 L762.7,327.8 L762.8,328.8 L762.9,329.7 L763,330.7 L763,331.7 L763,332.7 L762.9,333.7 L762.8,334.7 L762.6,335.7 L762.4,336.7 L762.2,337.7 L761.9,338.7 L761.6,339.7 L761.3,340.7 L761,341.7 L760.6,342.7 L760.3,343.7 L759.9,344.7 L759.5,345.7 L759,346.7 L758.4,347.7 L757.7,348.7 L757.1,349.7 L756.4,350.7 L755.8,351.7 L755.2,352.7 L754.6,353.7 L754.1,354.7 L753.5,355.7 L752.9,356.7 L752.4,357.7 L751.8,358.7 L751.2,359.7 L750.7,360.7 L750.1,361.7 L749.5,362.7 L748.8,363.7 L748.2,364.7 L747.5,365.7 L746.8,366.7 L746.2,367.6 L745.6,368.6 L745,369.6 L744.5,370.6 L744.1,371.6 L743.8,372.6 L743.5,373.6 L743.2,374.6 L743,375.6 L742.8,376.6 L742.6,377.6 L742.4,378.6 L742.2,379.6 L742,380.6 L741.9,381.6 L741.8,382.6 L741.7,383.6 L741.6,384.6 L741.6,385.6 L741.6,385.6 L741.6,384.6 L741.5,383.6 L741.4,382.6 L741.3,381.6 L741.2,380.6 L741,379.6 L740.8,378.6 L740.6,377.6 L740.4,376.6 L740.2,375.6 L740,374.6 L739.7,373.6 L739.4,372.6 L739.1,371.6 L738.7,370.6 L738.2,369.6 L737.6,368.6 L737,367.6 L736.4,366.7 L735.7,365.7 L735,364.7 L734.4,363.7 L733.7,362.7 L733.1,361.7 L732.5,360.7 L732,359.7 L731.4,358.7 L730.8,357.7 L730.3,356.7 L729.7,355.7 L729.1,354.7 L728.6,353.7 L728,352.7 L727.4,351.7 L726.8,350.7 L726.1,349.7 L725.5,348.7 L724.8,347.7 L724.2,346.7 L723.7,345.7 L723.3,344.7 L722.9,343.7 L722.6,342.7 L722.2,341.7 L721.9,340.7 L721.6,339.7 L721.3,338.7 L721,337.7 L720.8,336.7 L720.6,335.7 L720.4,334.7 L720.3,333.7 L720.2,332.7 L720.2,331.7 L720.2,330.7 L720.3,329.7 L720.4,328.8 L720.5,327.8 L720.6,326.8 L720.6,325.8 L720.6,324.8 L720.5,323.8 L720.4,322.8 L720.3,321.8 L720.2,320.8 L720,319.8 L719.8,318.8 L719.5,317.8 L719,316.8 L718.5,315.8 L717.9,314.8 L717.3,313.8 L716.7,312.8 L716.1,311.8 L715.5,310.8 L714.9,309.8 L714.3,308.8 L713.6,307.8 L712.9,306.8 L712.3,305.8 L711.7,304.8 L711.1,303.8 L710.5,302.8 L709.9,301.8 L709.3,300.8 L708.7,299.8 L708.1,298.8 L707.5,297.8 L707,296.8 L706.6,295.8 L706.3,294.8 L706.1,293.8 L706,292.8 L706.1,291.9 L706.3,290.9 L706.7,289.9 L707.1,288.9 L707.7,287.9 L708.3,286.9 L708.9,285.9 L709.5,284.9 L710.1,283.9 L710.7,282.9 L711.3,281.9 L711.9,280.9 L712.6,279.9 L713.3,278.9 L714,277.9 L714.8,276.9 L715.6,275.9 L716.4,274.9 L717.2,273.9 L718,272.9 L718.8,271.9 L719.6,270.9 L720.4,269.9 L721.3,268.9 L722.2,267.9 L723.1,266.9 L724,265.9 L724.8,264.9 L725.7,263.9 L726.5,262.9 L727.4,261.9 L728.2,260.9 L729,259.9 L729.8,258.9 L730.6,257.9 L731.4,256.9 L732.2,255.9 L732.9,254.9 L733.6,254 L734.3,253 L734.9,252 L735.5,251 L736.1,250 L736.7,249 L737.3,248 L737.8,247 L738.3,246 L738.8,245 L739.3,244 L739.7,243 L740.1,242 L740.4,241 L740.7,240 L741,239 L741.2,238 L741.4,237 L741.6,236Z" fill="#A3A500" class="vo"/><line x1="741.6" y1="274" x2="741.6" y2="293.5" class="wk"/><line x1="741.6" y1="323.7" x2="741.6" y2="342.3" class="wk"/><rect x="732" y="293.5" width="18.7" height="30.2" class="bx"/><line x1="732" y1="297.5" x2="750.7" y2="297.5" class="md"/><line x1="834.1" y1="173.3" x2="834.1" y2="443.3" class="vl"/><path d="M834.1,196 L834.2,197 L834.3,198 L834.4,199 L834.6,200 L834.7,201 L834.8,202 L835,203 L835.1,204 L835.3,205 L835.5,206 L835.6,207 L835.8,207.9 L836,208.9 L836.2,209.9 L836.4,210.9 L836.6,211.9 L836.8,212.9 L837,213.9 L837.1,214.9 L837.3,215.9 L837.5,216.9 L837.6,217.9 L837.8,218.9 L838,219.9 L838.3,220.9 L838.6,221.9 L838.9,222.9 L839.3,223.9 L839.8,224.9 L840.3,225.9 L840.8,226.9 L841.3,227.9 L841.8,228.9 L842.3,229.9 L842.7,230.9 L843.2,231.8 L843.5,232.8 L843.8,233.8 L844.1,234.8 L844.4,235.8 L844.7,236.8 L845,237.8 L845.3,238.8 L845.6,239.8 L845.8,240.8 L846.1,241.8 L846.4,242.8 L846.6,243.8 L846.8,244.8 L847.1,245.8 L847.3,246.8 L847.5,247.8 L847.7,248.8 L847.9,249.8 L848,250.8 L848.2,251.8 L848.4,252.8 L848.5,253.8 L848.7,254.7 L848.8,255.7 L848.9,256.7 L849.1,257.7 L849.2,258.7 L849.4,259.7 L849.5,260.7 L849.6,261.7 L849.8,262.7 L849.9,263.7 L850,264.7 L850.1,265.7 L850.2,266.7 L850.3,267.7 L850.4,268.7 L850.4,269.7 L850.5,270.7 L850.5,271.7 L850.6,272.7 L850.6,273.7 L850.6,274.7 L850.6,275.7 L850.6,276.7 L850.6,277.7 L850.6,278.6 L850.6,279.6 L850.6,280.6 L850.6,281.6 L850.6,282.6 L850.6,283.6 L850.6,284.6 L850.6,285.6 L850.6,286.6 L850.6,287.6 L850.6,288.6 L850.6,289.6 L850.6,290.6 L850.6,291.6 L850.6,292.6 L850.6,293.6 L850.6,294.6 L850.6,295.6 L850.6,296.6 L850.6,297.6 L850.5,298.6 L850.5,299.6 L850.5,300.6 L850.4,301.5 L850.4,302.5 L850.3,303.5 L850.2,304.5 L850.2,305.5 L850.1,306.5 L850.1,307.5 L850,308.5 L850,309.5 L849.9,310.5 L849.9,311.5 L849.8,312.5 L849.8,313.5 L849.8,314.5 L849.8,315.5 L849.8,316.5 L849.8,317.5 L849.8,318.5 L849.8,319.5 L849.8,320.5 L849.8,321.5 L849.8,322.5 L849.8,323.5 L849.8,324.5 L849.8,325.4 L849.8,326.4 L849.8,327.4 L849.8,328.4 L849.8,329.4 L849.8,330.4 L849.8,331.4 L849.8,332.4 L849.8,333.4 L849.8,334.4 L849.8,335.4 L849.8,336.4 L849.8,337.4 L849.8,338.4 L849.8,339.4 L849.7,340.4 L849.7,341.4 L849.6,342.4 L849.6,343.4 L849.5,344.4 L849.5,345.4 L849.4,346.4 L849.3,347.4 L849.3,348.3 L849.2,349.3 L849.1,350.3 L849,351.3 L848.9,352.3 L848.8,353.3 L848.7,354.3 L848.6,355.3 L848.5,356.3 L848.4,357.3 L848.3,358.3 L848.2,359.3 L848.1,360.3 L847.9,361.3 L847.7,362.3 L847.5,363.3 L847.3,364.3 L847.1,365.3 L846.9,366.3 L846.7,367.3 L846.5,368.3 L846.3,369.3 L846,370.3 L845.8,371.3 L845.6,372.2 L845.3,373.2 L845.1,374.2 L844.9,375.2 L844.6,376.2 L844.4,377.2 L844.2,378.2 L844,379.2 L843.7,380.2 L843.5,381.2 L843.2,382.2 L842.9,383.2 L842.7,384.2 L842.4,385.2 L842.1,386.2 L841.8,387.2 L841.6,388.2 L841.3,389.2 L841,390.2 L840.8,391.2 L840.5,392.2 L840.2,393.2 L840,394.2 L839.7,395.1 L839.5,396.1 L839.3,397.1 L839,398.1 L838.8,399.1 L838.6,400.1 L838.4,401.1 L838.2,402.1 L838,403.1 L837.8,404.1 L837.6,405.1 L837.4,406.1 L837.2,407.1 L837,408.1 L836.8,409.1 L836.6,410.1 L836.5,411.1 L836.3,412.1 L836.1,413.1 L835.9,414.1 L835.8,415.1 L835.6,416.1 L835.5,417.1 L835.4,418.1 L835.2,419 L835.1,420 L835,421 L834.9,422 L834.8,423 L834.6,424 L834.5,425 L834.4,426 L834.4,427 L834.3,428 L834.2,429 L834.1,430 L834.1,430 L834,429 L833.9,428 L833.8,427 L833.8,426 L833.7,425 L833.6,424 L833.4,423 L833.3,422 L833.2,421 L833.1,420 L833,419 L832.8,418.1 L832.7,417.1 L832.6,416.1 L832.4,415.1 L832.3,414.1 L832.1,413.1 L831.9,412.1 L831.7,411.1 L831.6,410.1 L831.4,409.1 L831.2,408.1 L831,407.1 L830.8,406.1 L830.6,405.1 L830.4,404.1 L830.2,403.1 L830,402.1 L829.8,401.1 L829.6,400.1 L829.4,399.1 L829.2,398.1 L828.9,397.1 L828.7,396.1 L828.5,395.1 L828.2,394.2 L828,393.2 L827.7,392.2 L827.4,391.2 L827.2,390.2 L826.9,389.2 L826.6,388.2 L826.4,387.2 L826.1,386.2 L825.8,385.2 L825.5,384.2 L825.3,383.2 L825,382.2 L824.7,381.2 L824.5,380.2 L824.2,379.2 L824,378.2 L823.8,377.2 L823.6,376.2 L823.3,375.2 L823.1,374.2 L822.9,373.2 L822.6,372.2 L822.4,371.3 L822.2,370.3 L821.9,369.3 L821.7,368.3 L821.5,367.3 L821.3,366.3 L821.1,365.3 L820.9,364.3 L820.7,363.3 L820.5,362.3 L820.3,361.3 L820.1,360.3 L820,359.3 L819.9,358.3 L819.8,357.3 L819.7,356.3 L819.6,355.3 L819.5,354.3 L819.4,353.3 L819.3,352.3 L819.2,351.3 L819.1,350.3 L819,349.3 L818.9,348.3 L818.9,347.4 L818.8,346.4 L818.7,345.4 L818.7,344.4 L818.6,343.4 L818.6,342.4 L818.5,341.4 L818.5,340.4 L818.4,339.4 L818.4,338.4 L818.4,337.4 L818.4,336.4 L818.4,335.4 L818.4,334.4 L818.4,333.4 L818.4,332.4 L818.4,331.4 L818.4,330.4 L818.4,329.4 L818.4,328.4 L818.4,327.4 L818.4,326.4 L818.4,325.4 L818.4,324.5 L818.4,323.5 L818.4,322.5 L818.4,321.5 L818.4,320.5 L818.4,319.5 L818.4,318.5 L818.4,317.5 L818.4,316.5 L818.4,315.5 L818.4,314.5 L818.4,313.5 L818.4,312.5 L818.3,311.5 L818.3,310.5 L818.2,309.5 L818.2,308.5 L818.1,307.5 L818.1,306.5 L818,305.5 L818,304.5 L817.9,303.5 L817.8,302.5 L817.8,301.5 L817.7,300.6 L817.7,299.6 L817.7,298.6 L817.6,297.6 L817.6,296.6 L817.6,295.6 L817.6,294.6 L817.6,293.6 L817.6,292.6 L817.6,291.6 L817.6,290.6 L817.6,289.6 L817.6,288.6 L817.6,287.6 L817.6,286.6 L817.6,285.6 L817.6,284.6 L817.6,283.6 L817.6,282.6 L817.6,281.6 L817.6,280.6 L817.6,279.6 L817.6,278.6 L817.6,277.7 L817.6,276.7 L817.6,275.7 L817.6,274.7 L817.6,273.7 L817.6,272.7 L817.7,271.7 L817.7,270.7 L817.8,269.7 L817.8,268.7 L817.9,267.7 L818,266.7 L818.1,265.7 L818.2,264.7 L818.3,263.7 L818.4,262.7 L818.6,261.7 L818.7,260.7 L818.8,259.7 L819,258.7 L819.1,257.7 L819.3,256.7 L819.4,255.7 L819.5,254.7 L819.7,253.8 L819.8,252.8 L820,251.8 L820.2,250.8 L820.3,249.8 L820.5,248.8 L820.7,247.8 L820.9,246.8 L821.1,245.8 L821.4,244.8 L821.6,243.8 L821.8,242.8 L822.1,241.8 L822.4,240.8 L822.6,239.8 L822.9,238.8 L823.2,237.8 L823.5,236.8 L823.8,235.8 L824.1,234.8 L824.4,233.8 L824.7,232.8 L825,231.8 L825.5,230.9 L825.9,229.9 L826.4,228.9 L826.9,227.9 L827.4,226.9 L827.9,225.9 L828.4,224.9 L828.9,223.9 L829.3,222.9 L829.6,221.9 L829.9,220.9 L830.2,219.9 L830.4,218.9 L830.6,217.9 L830.7,216.9 L830.9,215.9 L831.1,214.9 L831.2,213.9 L831.4,212.9 L831.6,211.9 L831.8,210.9 L832,209.9 L832.2,208.9 L832.4,207.9 L832.6,207 L832.7,206 L832.9,205 L833.1,204 L833.2,203 L833.4,202 L833.5,201 L833.6,200 L833.8,199 L833.9,198 L834,197 L834.1,196Z" fill="#00BF7D" class="vo"/><line x1="834.1" y1="259" x2="834.1" y2="275.5" class="wk"/><line x1="834.1" y1="349.3" x2="834.1" y2="358" class="wk"/><rect x="824.6" y="275.5" width="19" height="73.8" class="bx"/><line x1="824.6" y1="306.4" x2="843.6" y2="306.4" class="md"/><line x1="926.9" y1="250.4" x2="926.9" y2="412.4" class="vl"/><path d="M926.9,250.4 L927.2,251.4 L927.5,252.4 L927.9,253.4 L928.4,254.4 L928.9,255.4 L929.4,256.4 L930,257.4 L930.7,258.4 L931.3,259.4 L932,260.4 L932.7,261.4 L933.5,262.4 L934.3,263.4 L935.3,264.4 L936.3,265.4 L937.5,266.4 L938.6,267.4 L939.9,268.4 L941.2,269.4 L942.5,270.4 L943.8,271.4 L945.1,272.4 L946.4,273.4 L947.6,274.4 L948.9,275.4 L950.3,276.4 L951.7,277.4 L953.1,278.4 L954.6,279.4 L956,280.4 L957.5,281.4 L958.9,282.4 L960.2,283.4 L961.5,284.4 L962.7,285.4 L963.8,286.4 L964.8,287.4 L965.9,288.4 L967,289.4 L968.1,290.4 L969.2,291.4 L970.2,292.4 L971.1,293.4 L972,294.4 L972.6,295.4 L973.1,296.4 L973.4,297.4 L973.5,298.4 L973.3,299.4 L972.9,300.4 L972.3,301.4 L971.6,302.4 L970.7,303.4 L969.7,304.4 L968.6,305.4 L967.4,306.4 L966.3,307.4 L965.1,308.4 L964,309.4 L962.9,310.4 L961.9,311.4 L961,312.4 L960,313.4 L959,314.4 L958.1,315.4 L957.1,316.4 L956.1,317.4 L955.1,318.4 L954,319.4 L953,320.4 L952,321.4 L951,322.4 L950,323.4 L948.9,324.4 L947.9,325.4 L946.9,326.4 L945.9,327.4 L944.9,328.4 L943.8,329.4 L942.7,330.4 L941.5,331.4 L940.3,332.4 L939.2,333.4 L938,334.4 L936.8,335.4 L935.7,336.4 L934.7,337.4 L933.7,338.4 L932.8,339.4 L932.1,340.4 L931.4,341.4 L931,342.4 L930.5,343.4 L930.1,344.4 L929.7,345.4 L929.4,346.4 L929,347.4 L928.7,348.4 L928.5,349.4 L928.3,350.4 L928.2,351.4 L928.1,352.4 L928.2,353.4 L928.5,354.4 L929.1,355.4 L929.7,356.4 L930.6,357.4 L931.4,358.4 L932.3,359.4 L933.2,360.4 L934.1,361.4 L934.8,362.4 L935.4,363.4 L936,364.4 L936.7,365.4 L937.3,366.4 L938,367.4 L938.6,368.4 L939.3,369.4 L939.9,370.4 L940.4,371.4 L940.9,372.4 L941.4,373.4 L941.7,374.4 L942,375.4 L942.2,376.4 L942.2,377.4 L942.1,378.4 L942,379.4 L941.7,380.4 L941.4,381.4 L941,382.4 L940.5,383.4 L940,384.4 L939.5,385.4 L938.9,386.4 L938.4,387.4 L937.9,388.4 L937.3,389.4 L936.8,390.4 L936.2,391.4 L935.6,392.4 L934.9,393.4 L934.2,394.4 L933.4,395.4 L932.7,396.4 L932,397.4 L931.3,398.4 L930.7,399.4 L930.1,400.4 L929.7,401.4 L929.3,402.4 L929,403.4 L928.6,404.4 L928.3,405.4 L928,406.4 L927.8,407.4 L927.5,408.4 L927.3,409.4 L927.1,410.4 L927,411.4 L926.9,412.4 L926.9,412.4 L926.8,411.4 L926.7,410.4 L926.5,409.4 L926.3,408.4 L926,407.4 L925.8,406.4 L925.5,405.4 L925.2,404.4 L924.8,403.4 L924.5,402.4 L924.1,401.4 L923.7,400.4 L923.1,399.4 L922.5,398.4 L921.8,397.4 L921.1,396.4 L920.4,395.4 L919.6,394.4 L918.9,393.4 L918.2,392.4 L917.6,391.4 L917,390.4 L916.5,389.4 L915.9,388.4 L915.4,387.4 L914.9,386.4 L914.3,385.4 L913.8,384.4 L913.3,383.4 L912.8,382.4 L912.4,381.4 L912.1,380.4 L911.8,379.4 L911.7,378.4 L911.6,377.4 L911.6,376.4 L911.8,375.4 L912.1,374.4 L912.4,373.4 L912.9,372.4 L913.4,371.4 L913.9,370.4 L914.5,369.4 L915.2,368.4 L915.8,367.4 L916.5,366.4 L917.1,365.4 L917.8,364.4 L918.4,363.4 L919,362.4 L919.7,361.4 L920.6,360.4 L921.5,359.4 L922.4,358.4 L923.2,357.4 L924.1,356.4 L924.7,355.4 L925.3,354.4 L925.6,353.4 L925.7,352.4 L925.6,351.4 L925.5,350.4 L925.3,349.4 L925.1,348.4 L924.8,347.4 L924.4,346.4 L924.1,345.4 L923.7,344.4 L923.3,343.4 L922.8,342.4 L922.4,341.4 L921.7,340.4 L921,339.4 L920.1,338.4 L919.1,337.4 L918.1,336.4 L917,335.4 L915.8,334.4 L914.6,333.4 L913.5,332.4 L912.3,331.4 L911.1,330.4 L910,329.4 L908.9,328.4 L907.9,327.4 L906.9,326.4 L905.9,325.4 L904.9,324.4 L903.8,323.4 L902.8,322.4 L901.8,321.4 L900.8,320.4 L899.8,319.4 L898.7,318.4 L897.7,317.4 L896.7,316.4 L895.7,315.4 L894.8,314.4 L893.8,313.4 L892.8,312.4 L891.9,311.4 L890.9,310.4 L889.8,309.4 L888.7,308.4 L887.5,307.4 L886.4,306.4 L885.2,305.4 L884.1,304.4 L883.1,303.4 L882.2,302.4 L881.5,301.4 L880.9,300.4 L880.5,299.4 L880.3,298.4 L880.4,297.4 L880.7,296.4 L881.2,295.4 L881.8,294.4 L882.7,293.4 L883.6,292.4 L884.6,291.4 L885.7,290.4 L886.8,289.4 L887.9,288.4 L889,287.4 L890,286.4 L891.1,285.4 L892.3,284.4 L893.6,283.4 L894.9,282.4 L896.3,281.4 L897.8,280.4 L899.2,279.4 L900.7,278.4 L902.1,277.4 L903.5,276.4 L904.9,275.4 L906.2,274.4 L907.4,273.4 L908.7,272.4 L910,271.4 L911.3,270.4 L912.6,269.4 L913.9,268.4 L915.2,267.4 L916.3,266.4 L917.5,265.4 L918.5,264.4 L919.5,263.4 L920.3,262.4 L921.1,261.4 L921.8,260.4 L922.5,259.4 L923.1,258.4 L923.8,257.4 L924.4,256.4 L924.9,255.4 L925.4,254.4 L925.9,253.4 L926.3,252.4 L926.6,251.4 L926.9,250.4Z" fill="#00B0F6" class="vo"/><line x1="926.9" y1="281.3" x2="926.9" y2="296.9" class="wk"/><line x1="926.9" y1="319.6" x2="926.9" y2="322.9" class="wk"/><rect x="917.8" y="296.9" width="18.6" height="22.7" class="bx"/><line x1="917.8" y1="299.8" x2="936.4" y2="299.8" class="md"/><circle cx="926.9" cy="380.2" r="1.8" fill="#000"/><line x1="1019.6" y1="272.2" x2="1019.6" y2="472.1" class="vl"/><path d="M1019.6,272.2 L1019.7,273.2 L1019.8,274.2 L1020,275.2 L1020.1,276.2 L1020.3,277.2 L1020.5,278.2 L1020.8,279.2 L1021,280.2 L1021.3,281.2 L1021.6,282.2 L1021.8,283.2 L1022.1,284.2 L1022.5,285.2 L1022.8,286.2 L1023.1,287.2 L1023.5,288.2 L1023.9,289.2 L1024.4,290.2 L1024.9,291.2 L1025.5,292.2 L1026,293.2 L1026.6,294.2 L1027.2,295.2 L1027.9,296.2 L1028.5,297.2 L1029.1,298.2 L1029.7,299.2 L1030.4,300.2 L1030.9,301.2 L1031.5,302.2 L1032,303.2 L1032.6,304.2 L1033.1,305.2 L1033.6,306.2 L1034.2,307.2 L1034.7,308.2 L1035.2,309.2 L1035.8,310.2 L1036.3,311.2 L1036.8,312.2 L1037.3,313.2 L1037.8,314.2 L1038.3,315.2 L1038.7,316.2 L1039.2,317.2 L1039.6,318.2 L1040,319.2 L1040.4,320.2 L1040.8,321.2 L1041.2,322.2 L1041.6,323.2 L1042,324.2 L1042.4,325.2 L1042.7,326.2 L1043.1,327.2 L1043.5,328.2 L1043.8,329.2 L1044.1,330.2 L1044.4,331.2 L1044.7,332.2 L1045,333.2 L1045.2,334.2 L1045.4,335.2 L1045.6,336.2 L1045.8,337.2 L1046,338.2 L1046.2,339.2 L1046.3,340.2 L1046.5,341.2 L1046.7,342.2 L1046.8,343.2 L1046.9,344.2 L1047,345.2 L1047.1,346.2 L1047.2,347.2 L1047.2,348.2 L1047.2,349.2 L1047.2,350.2 L1047.1,351.2 L1047,352.2 L1046.9,353.2 L1046.7,354.2 L1046.5,355.2 L1046.4,356.2 L1046.2,357.2 L1045.9,358.2 L1045.7,359.2 L1045.5,360.2 L1045.2,361.2 L1045,362.2 L1044.8,363.2 L1044.5,364.2 L1044.3,365.2 L1044,366.2 L1043.7,367.2 L1043.4,368.2 L1043,369.2 L1042.7,370.2 L1042.3,371.2 L1041.9,372.1 L1041.5,373.1 L1041.1,374.1 L1040.7,375.1 L1040.2,376.1 L1039.8,377.1 L1039.4,378.1 L1039,379.1 L1038.6,380.1 L1038.2,381.1 L1037.8,382.1 L1037.4,383.1 L1037,384.1 L1036.6,385.1 L1036.2,386.1 L1035.8,387.1 L1035.4,388.1 L1035,389.1 L1034.6,390.1 L1034.2,391.1 L1033.8,392.1 L1033.4,393.1 L1033.1,394.1 L1032.8,395.1 L1032.5,396.1 L1032.2,397.1 L1031.9,398.1 L1031.7,399.1 L1031.5,400.1 L1031.3,401.1 L1031.1,402.1 L1031,403.1 L1030.8,404.1 L1030.6,405.1 L1030.5,406.1 L1030.3,407.1 L1030.2,408.1 L1030,409.1 L1029.9,410.1 L1029.7,411.1 L1029.6,412.1 L1029.5,413.1 L1029.3,414.1 L1029.2,415.1 L1029,416.1 L1028.8,417.1 L1028.7,418.1 L1028.5,419.1 L1028.3,420.1 L1028.1,421.1 L1027.9,422.1 L1027.8,423.1 L1027.6,424.1 L1027.4,425.1 L1027.2,426.1 L1027,427.1 L1026.8,428.1 L1026.6,429.1 L1026.4,430.1 L1026.2,431.1 L1026,432.1 L1025.8,433.1 L1025.6,434.1 L1025.4,435.1 L1025.2,436.1 L1025,437.1 L1024.8,438.1 L1024.6,439.1 L1024.4,440.1 L1024.2,441.1 L1024,442.1 L1023.8,443.1 L1023.5,444.1 L1023.3,445.1 L1023.1,446.1 L1022.8,447.1 L1022.6,448.1 L1022.4,449.1 L1022.2,450.1 L1022,451.1 L1021.8,452.1 L1021.6,453.1 L1021.4,454.1 L1021.3,455.1 L1021.1,456.1 L1021,457.1 L1020.9,458.1 L1020.8,459.1 L1020.6,460.1 L1020.5,461.1 L1020.4,462.1 L1020.3,463.1 L1020.2,464.1 L1020.1,465.1 L1020,466.1 L1019.9,467.1 L1019.8,468.1 L1019.8,469.1 L1019.7,470.1 L1019.6,471.1 L1019.6,472.1 L1019.6,472.1 L1019.6,471.1 L1019.5,470.1 L1019.4,469.1 L1019.4,468.1 L1019.3,467.1 L1019.2,466.1 L1019.1,465.1 L1019,464.1 L1018.9,463.1 L1018.8,462.1 L1018.7,461.1 L1018.6,460.1 L1018.4,459.1 L1018.3,458.1 L1018.2,457.1 L1018.1,456.1 L1017.9,455.1 L1017.8,454.1 L1017.6,453.1 L1017.4,452.1 L1017.2,451.1 L1017,450.1 L1016.8,449.1 L1016.6,448.1 L1016.4,447.1 L1016.1,446.1 L1015.9,445.1 L1015.7,444.1 L1015.4,443.1 L1015.2,442.1 L1015,441.1 L1014.8,440.1 L1014.6,439.1 L1014.4,438.1 L1014.2,437.1 L1014,436.1 L1013.8,435.1 L1013.6,434.1 L1013.4,433.1 L1013.2,432.1 L1013,431.1 L1012.8,430.1 L1012.6,429.1 L1012.4,428.1 L1012.2,427.1 L1012,426.1 L1011.8,425.1 L1011.6,424.1 L1011.4,423.1 L1011.3,422.1 L1011.1,421.1 L1010.9,420.1 L1010.7,419.1 L1010.5,418.1 L1010.4,417.1 L1010.2,416.1 L1010,415.1 L1009.9,414.1 L1009.7,413.1 L1009.6,412.1 L1009.5,411.1 L1009.3,410.1 L1009.2,409.1 L1009,408.1 L1008.9,407.1 L1008.7,406.1 L1008.6,405.1 L1008.4,404.1 L1008.2,403.1 L1008.1,402.1 L1007.9,401.1 L1007.7,400.1 L1007.5,399.1 L1007.3,398.1 L1007,397.1 L1006.7,396.1 L1006.4,395.1 L1006.1,394.1 L1005.8,393.1 L1005.4,392.1 L1005,391.1 L1004.6,390.1 L1004.2,389.1 L1003.8,388.1 L1003.4,387.1 L1003,386.1 L1002.6,385.1 L1002.2,384.1 L1001.8,383.1 L1001.4,382.1 L1001,381.1 L1000.6,380.1 L1000.2,379.1 L999.8,378.1 L999.4,377.1 L999,376.1 L998.5,375.1 L998.1,374.1 L997.7,373.1 L997.3,372.1 L996.9,371.2 L996.5,370.2 L996.2,369.2 L995.8,368.2 L995.5,367.2 L995.2,366.2 L994.9,365.2 L994.7,364.2 L994.4,363.2 L994.2,362.2 L994,361.2 L993.7,360.2 L993.5,359.2 L993.3,358.2 L993,357.2 L992.8,356.2 L992.7,355.2 L992.5,354.2 L992.3,353.2 L992.2,352.2 L992.1,351.2 L992,350.2 L992,349.2 L992,348.2 L992,347.2 L992.1,346.2 L992.2,345.2 L992.3,344.2 L992.4,343.2 L992.5,342.2 L992.7,341.2 L992.9,340.2 L993,339.2 L993.2,338.2 L993.4,337.2 L993.6,336.2 L993.8,335.2 L994,334.2 L994.2,333.2 L994.5,332.2 L994.8,331.2 L995.1,330.2 L995.4,329.2 L995.7,328.2 L996.1,327.2 L996.5,326.2 L996.8,325.2 L997.2,324.2 L997.6,323.2 L998,322.2 L998.4,321.2 L998.8,320.2 L999.2,319.2 L999.6,318.2 L1000,317.2 L1000.5,316.2 L1000.9,315.2 L1001.4,314.2 L1001.9,313.2 L1002.4,312.2 L1002.9,311.2 L1003.4,310.2 L1004,309.2 L1004.5,308.2 L1005,307.2 L1005.6,306.2 L1006.1,305.2 L1006.6,304.2 L1007.2,303.2 L1007.7,302.2 L1008.3,301.2 L1008.8,300.2 L1009.5,299.2 L1010.1,298.2 L1010.7,297.2 L1011.3,296.2 L1012,295.2 L1012.6,294.2 L1013.2,293.2 L1013.7,292.2 L1014.3,291.2 L1014.8,290.2 L1015.3,289.2 L1015.7,288.2 L1016.1,287.2 L1016.4,286.2 L1016.7,285.2 L1017.1,284.2 L1017.4,283.2 L1017.6,282.2 L1017.9,281.2 L1018.2,280.2 L1018.4,279.2 L1018.7,278.2 L1018.9,277.2 L1019.1,276.2 L1019.2,275.2 L1019.4,274.2 L1019.5,273.2 L1019.6,272.2Z" fill="#E76BF3" class="vo"/><line x1="1019.6" y1="327" x2="1019.6" y2="339.4" class="wk"/><line x1="1019.6" y1="378.6" x2="1019.6" y2="418.5" class="wk"/><rect x="1010.5" y="339.4" width="19" height="39.2" class="bx"/><line x1="1010.5" y1="355.9" x2="1029.5" y2="355.9" class="md"/><path d="M648.7,246.3 V241.3 H741.5 V246.3" class="br"/><path d="M648.7,225.8 V220.8 H926.9 V225.8" class="br"/><path d="M648.7,206 V201 H1019.6 V206" class="br"/><path d="M741.5,185.5 V180.5 H1019.6 V185.5" class="br"/><path d="M926.9,164.7 V159.7 H1019.6 V164.7" class="br"/><circle cx="695" cy="233.2" r="1.1" fill="#111"/><circle cx="787.6" cy="212.5" r="1.1" fill="#111"/><line x1="831.8" y1="192.7" x2="836.4" y2="192.7" stroke="#111" stroke-width="1.3"/><circle cx="880.7" cy="172" r="1.1" fill="#111"/><circle cx="973.5" cy="151.4" r="1.1" fill="#111"/></g>
<g><line x1="49.9" y1="566.5" x2="49.9" y2="915" class="ax"/><line x1="49.9" y1="915" x2="552.2" y2="915" class="ax"/><line x1="46.9" y1="584.2" x2="49.9" y2="584.2" class="ax"/><text x="45.4" y="587.3" class="tk" text-anchor="end">9</text><line x1="46.9" y1="669.4" x2="49.9" y2="669.4" class="ax"/><text x="45.4" y="672.5" class="tk" text-anchor="end">8</text><line x1="46.9" y1="754.7" x2="49.9" y2="754.7" class="ax"/><text x="45.4" y="757.8" class="tk" text-anchor="end">7</text><line x1="46.9" y1="840" x2="49.9" y2="840" class="ax"/><text x="45.4" y="843.1" class="tk" text-anchor="end">6</text><line x1="108.5" y1="915" x2="108.5" y2="918" class="ax"/><line x1="204.8" y1="915" x2="204.8" y2="918" class="ax"/><line x1="301" y1="915" x2="301" y2="918" class="ax"/><line x1="398" y1="915" x2="398" y2="918" class="ax"/><line x1="494.9" y1="915" x2="494.9" y2="918" class="ax"/><text transform="translate(37.8,740.8) rotate(-90)" class="yl" text-anchor="middle" textLength="33.8" lengthAdjust="spacingAndGlyphs">shannon</text><text x="50.2" y="529.1" class="kw" textLength="112.1" lengthAdjust="spacingAndGlyphs">Kruskal-Wallis, p =0.021</text><line x1="108.5" y1="588.1" x2="108.5" y2="755.2" class="vl"/><path d="M108.5,588.1 L108.5,589.1 L108.6,590.1 L108.6,591.1 L108.7,592.1 L108.8,593.1 L109,594.1 L109.1,595.1 L109.3,596.1 L109.4,597.1 L109.6,598 L109.8,599 L110,600 L110.3,601 L110.7,602 L111.2,603 L111.6,604 L112.2,605 L112.7,606 L113.3,607 L113.9,608 L114.5,609 L115.1,610 L115.7,611 L116.2,612 L116.8,613 L117.3,614 L117.9,615 L118.5,616 L119.1,616.9 L119.7,617.9 L120.3,618.9 L121,619.9 L121.6,620.9 L122.2,621.9 L122.8,622.9 L123.4,623.9 L124,624.9 L124.6,625.9 L125.2,626.9 L125.8,627.9 L126.4,628.9 L127.1,629.9 L127.7,630.9 L128.3,631.9 L128.9,632.9 L129.5,633.9 L130,634.8 L130.5,635.8 L130.9,636.8 L131.3,637.8 L131.6,638.8 L131.9,639.8 L132.2,640.8 L132.5,641.8 L132.7,642.8 L133,643.8 L133.2,644.8 L133.4,645.8 L133.6,646.8 L133.8,647.8 L134,648.8 L134.2,649.8 L134.4,650.8 L134.6,651.8 L134.8,652.8 L135,653.7 L135.2,654.7 L135.4,655.7 L135.5,656.7 L135.7,657.7 L135.9,658.7 L136,659.7 L136.2,660.7 L136.5,661.7 L136.7,662.7 L137,663.7 L137.3,664.7 L137.7,665.7 L138.1,666.7 L138.6,667.7 L139.1,668.7 L139.7,669.7 L140.4,670.7 L141,671.7 L141.7,672.6 L142.4,673.6 L143.1,674.6 L143.8,675.6 L144.6,676.6 L145.3,677.6 L146.1,678.6 L147,679.6 L147.9,680.6 L148.8,681.6 L149.8,682.6 L150.7,683.6 L151.6,684.6 L152.5,685.6 L153.3,686.6 L154,687.6 L154.8,688.6 L155.5,689.6 L156.2,690.5 L156.8,691.5 L157,692.5 L156.9,693.5 L156.5,694.5 L155.9,695.5 L155.2,696.5 L154.3,697.5 L153.4,698.5 L152.4,699.5 L151.5,700.5 L150.5,701.5 L149.5,702.5 L148.3,703.5 L147,704.5 L145.7,705.5 L144.4,706.5 L143,707.5 L141.7,708.5 L140.3,709.4 L139.1,710.4 L137.9,711.4 L136.7,712.4 L135.5,713.4 L134.4,714.4 L133.2,715.4 L132.1,716.4 L130.9,717.4 L129.8,718.4 L128.8,719.4 L127.7,720.4 L126.7,721.4 L125.7,722.4 L124.8,723.4 L123.9,724.4 L122.9,725.4 L122,726.4 L121.2,727.4 L120.3,728.3 L119.5,729.3 L118.7,730.3 L117.9,731.3 L117.2,732.3 L116.5,733.3 L115.7,734.3 L115,735.3 L114.3,736.3 L113.6,737.3 L113,738.3 L112.4,739.3 L111.9,740.3 L111.4,741.3 L111.1,742.3 L110.8,743.3 L110.5,744.3 L110.2,745.3 L109.9,746.2 L109.6,747.2 L109.4,748.2 L109.2,749.2 L109,750.2 L108.8,751.2 L108.7,752.2 L108.6,753.2 L108.5,754.2 L108.5,755.2 L108.5,755.2 L108.5,754.2 L108.4,753.2 L108.3,752.2 L108.2,751.2 L108,750.2 L107.8,749.2 L107.6,748.2 L107.4,747.2 L107.1,746.2 L106.8,745.3 L106.5,744.3 L106.2,743.3 L105.9,742.3 L105.6,741.3 L105.1,740.3 L104.6,739.3 L104,738.3 L103.4,737.3 L102.7,736.3 L102,735.3 L101.3,734.3 L100.5,733.3 L99.8,732.3 L99.1,731.3 L98.3,730.3 L97.5,729.3 L96.7,728.3 L95.8,727.4 L95,726.4 L94.1,725.4 L93.1,724.4 L92.2,723.4 L91.3,722.4 L90.3,721.4 L89.3,720.4 L88.2,719.4 L87.2,718.4 L86.1,717.4 L84.9,716.4 L83.8,715.4 L82.6,714.4 L81.5,713.4 L80.3,712.4 L79.1,711.4 L77.9,710.4 L76.7,709.4 L75.3,708.5 L74,707.5 L72.6,706.5 L71.3,705.5 L70,704.5 L68.7,703.5 L67.5,702.5 L66.5,701.5 L65.5,700.5 L64.6,699.5 L63.6,698.5 L62.7,697.5 L61.8,696.5 L61.1,695.5 L60.5,694.5 L60.1,693.5 L60,692.5 L60.2,691.5 L60.8,690.5 L61.5,689.6 L62.2,688.6 L63,687.6 L63.7,686.6 L64.5,685.6 L65.4,684.6 L66.3,683.6 L67.2,682.6 L68.2,681.6 L69.1,680.6 L70,679.6 L70.9,678.6 L71.7,677.6 L72.4,676.6 L73.2,675.6 L73.9,674.6 L74.6,673.6 L75.3,672.6 L76,671.7 L76.6,670.7 L77.3,669.7 L77.9,668.7 L78.4,667.7 L78.9,666.7 L79.3,665.7 L79.7,664.7 L80,663.7 L80.3,662.7 L80.5,661.7 L80.8,660.7 L81,659.7 L81.1,658.7 L81.3,657.7 L81.5,656.7 L81.6,655.7 L81.8,654.7 L82,653.7 L82.2,652.8 L82.4,651.8 L82.6,650.8 L82.8,649.8 L83,648.8 L83.2,647.8 L83.4,646.8 L83.6,645.8 L83.8,644.8 L84,643.8 L84.3,642.8 L84.5,641.8 L84.8,640.8 L85.1,639.8 L85.4,638.8 L85.7,637.8 L86.1,636.8 L86.5,635.8 L87,634.8 L87.5,633.9 L88.1,632.9 L88.7,631.9 L89.3,630.9 L89.9,629.9 L90.6,628.9 L91.2,627.9 L91.8,626.9 L92.4,625.9 L93,624.9 L93.6,623.9 L94.2,622.9 L94.8,621.9 L95.4,620.9 L96,619.9 L96.7,618.9 L97.3,617.9 L97.9,616.9 L98.5,616 L99.1,615 L99.7,614 L100.2,613 L100.8,612 L101.3,611 L101.9,610 L102.5,609 L103.1,608 L103.7,607 L104.3,606 L104.8,605 L105.4,604 L105.8,603 L106.3,602 L106.7,601 L107,600 L107.2,599 L107.4,598 L107.6,597.1 L107.7,596.1 L107.9,595.1 L108,594.1 L108.2,593.1 L108.3,592.1 L108.4,591.1 L108.4,590.1 L108.5,589.1 L108.5,588.1Z" fill="#F8766D" class="vo"/><line x1="108.5" y1="628.2" x2="108.5" y2="659.4" class="wk"/><line x1="108.5" y1="694" x2="108.5" y2="707.1" class="wk"/><rect x="98.6" y="659.4" width="19" height="34.6" class="bx"/><line x1="98.6" y1="685.7" x2="117.6" y2="685.7" class="md"/><line x1="204.8" y1="608.2" x2="204.8" y2="893.7" class="vl"/><path d="M204.8,608.2 L204.8,609.2 L204.8,610.2 L204.8,611.2 L204.9,612.2 L204.9,613.2 L204.9,614.2 L205,615.2 L205,616.2 L205.1,617.2 L205.2,618.2 L205.2,619.2 L205.3,620.2 L205.4,621.2 L205.5,622.2 L205.6,623.2 L205.7,624.2 L205.8,625.2 L205.9,626.2 L206,627.2 L206.2,628.2 L206.4,629.2 L206.7,630.2 L207.1,631.2 L207.5,632.2 L208,633.2 L208.5,634.2 L209.1,635.2 L209.6,636.2 L210.1,637.2 L210.5,638.2 L211,639.2 L211.5,640.2 L211.9,641.2 L212.4,642.2 L212.9,643.2 L213.4,644.2 L213.9,645.2 L214.3,646.2 L214.8,647.2 L215.3,648.2 L215.7,649.2 L216.1,650.2 L216.5,651.2 L216.9,652.2 L217.3,653.2 L217.7,654.2 L218.1,655.2 L218.5,656.2 L218.9,657.2 L219.3,658.2 L219.6,659.2 L219.9,660.2 L220.2,661.2 L220.5,662.2 L220.7,663.2 L220.9,664.2 L221.1,665.2 L221.3,666.2 L221.4,667.2 L221.6,668.2 L221.7,669.2 L221.8,670.2 L222,671.2 L222.1,672.2 L222.2,673.2 L222.3,674.2 L222.4,675.2 L222.4,676.2 L222.5,677.2 L222.6,678.2 L222.6,679.2 L222.6,680.2 L222.7,681.2 L222.7,682.2 L222.7,683.2 L222.8,684.2 L222.8,685.2 L222.8,686.2 L222.9,687.2 L222.9,688.2 L222.9,689.2 L223,690.2 L223.1,691.2 L223.1,692.2 L223.2,693.2 L223.3,694.2 L223.4,695.2 L223.6,696.2 L223.7,697.2 L223.8,698.2 L224,699.2 L224.1,700.2 L224.3,701.2 L224.4,702.2 L224.6,703.2 L224.8,704.2 L225,705.2 L225.2,706.2 L225.5,707.2 L225.8,708.2 L226.1,709.2 L226.4,710.2 L226.7,711.2 L227,712.2 L227.4,713.2 L227.7,714.2 L228,715.2 L228.3,716.2 L228.6,717.2 L228.9,718.2 L229.2,719.2 L229.6,720.2 L229.9,721.2 L230.3,722.2 L230.6,723.2 L230.9,724.2 L231.3,725.2 L231.6,726.2 L231.8,727.2 L232.1,728.2 L232.3,729.2 L232.5,730.2 L232.7,731.2 L232.9,732.2 L233.1,733.2 L233.3,734.2 L233.5,735.2 L233.6,736.2 L233.8,737.2 L233.9,738.2 L234,739.2 L234.1,740.2 L234.2,741.2 L234.2,742.2 L234.2,743.2 L234.1,744.1 L234,745.1 L233.8,746.1 L233.6,747.1 L233.4,748.1 L233.1,749.1 L232.9,750.1 L232.6,751.1 L232.3,752.1 L232,753.1 L231.6,754.1 L231.3,755.1 L231,756.1 L230.6,757.1 L230.1,758.1 L229.6,759.1 L229.1,760.1 L228.5,761.1 L227.9,762.1 L227.3,763.1 L226.7,764.1 L226.1,765.1 L225.5,766.1 L224.9,767.1 L224.3,768.1 L223.8,769.1 L223.2,770.1 L222.6,771.1 L222,772.1 L221.4,773.1 L220.8,774.1 L220.3,775.1 L219.7,776.1 L219.2,777.1 L218.6,778.1 L218.2,779.1 L217.7,780.1 L217.3,781.1 L217,782.1 L216.6,783.1 L216.2,784.1 L215.8,785.1 L215.5,786.1 L215.1,787.1 L214.8,788.1 L214.4,789.1 L214.2,790.1 L213.9,791.1 L213.7,792.1 L213.5,793.1 L213.3,794.1 L213.2,795.1 L213.2,796.1 L213.2,797.1 L213.2,798.1 L213.2,799.1 L213.2,800.1 L213.2,801.1 L213.2,802.1 L213.2,803.1 L213.2,804.1 L213.2,805.1 L213.2,806.1 L213.2,807.1 L213.2,808.1 L213.2,809.1 L213.3,810.1 L213.4,811.1 L213.5,812.1 L213.6,813.1 L213.8,814.1 L213.9,815.1 L214.1,816.1 L214.2,817.1 L214.3,818.1 L214.4,819.1 L214.4,820.1 L214.4,821.1 L214.4,822.1 L214.4,823.1 L214.3,824.1 L214.3,825.1 L214.3,826.1 L214.2,827.1 L214.2,828.1 L214.1,829.1 L214,830.1 L214,831.1 L213.9,832.1 L213.8,833.1 L213.7,834.1 L213.6,835.1 L213.4,836.1 L213.2,837.1 L213,838.1 L212.7,839.1 L212.5,840.1 L212.2,841.1 L212,842.1 L211.8,843.1 L211.6,844.1 L211.4,845.1 L211.2,846.1 L211,847.1 L210.8,848.1 L210.6,849.1 L210.4,850.1 L210.2,851.1 L210,852.1 L209.8,853.1 L209.6,854.1 L209.4,855.1 L209.2,856.1 L209,857.1 L208.8,858.1 L208.6,859.1 L208.4,860.1 L208.2,861.1 L208,862.1 L207.8,863.1 L207.6,864.1 L207.4,865.1 L207.2,866.1 L207,867.1 L206.8,868.1 L206.6,869.1 L206.4,870.1 L206.2,871.1 L206,872.1 L205.8,873.1 L205.6,874.1 L205.4,875.1 L205.2,876.1 L205,877.1 L204.8,878.1 L204.8,878.1 L204.6,877.1 L204.4,876.1 L204.2,875.1 L204,874.1 L203.8,873.1 L203.6,872.1 L203.4,871.1 L203.2,870.1 L203,869.1 L202.8,868.1 L202.6,867.1 L202.4,866.1 L202.2,865.1 L202,864.1 L201.8,863.1 L201.6,862.1 L201.4,861.1 L201.2,860.1 L201,859.1 L200.8,858.1 L200.6,857.1 L200.4,856.1 L200.2,855.1 L200,854.1 L199.8,853.1 L199.6,852.1 L199.4,851.1 L199.2,850.1 L199,849.1 L198.8,848.1 L198.6,847.1 L198.4,846.1 L198.2,845.1 L198,844.1 L197.8,843.1 L197.6,842.1 L197.4,841.1 L197.1,840.1 L196.9,839.1 L196.6,838.1 L196.4,837.1 L196.2,836.1 L196,835.1 L195.9,834.1 L195.8,833.1 L195.7,832.1 L195.6,831.1 L195.6,830.1 L195.5,829.1 L195.4,828.1 L195.4,827.1 L195.3,826.1 L195.3,825.1 L195.3,824.1 L195.2,823.1 L195.2,822.1 L195.2,821.1 L195.2,820.1 L195.2,819.1 L195.3,818.1 L195.4,817.1 L195.5,816.1 L195.7,815.1 L195.8,814.1 L196,813.1 L196.1,812.1 L196.2,811.1 L196.3,810.1 L196.4,809.1 L196.4,808.1 L196.4,807.1 L196.4,806.1 L196.4,805.1 L196.4,804.1 L196.4,803.1 L196.4,802.1 L196.4,801.1 L196.4,800.1 L196.4,799.1 L196.4,798.1 L196.4,797.1 L196.4,796.1 L196.4,795.1 L196.3,794.1 L196.1,793.1 L195.9,792.1 L195.7,791.1 L195.4,790.1 L195.2,789.1 L194.8,788.1 L194.5,787.1 L194.1,786.1 L193.8,785.1 L193.4,784.1 L193,783.1 L192.6,782.1 L192.3,781.1 L191.9,780.1 L191.4,779.1 L191,778.1 L190.4,777.1 L189.9,776.1 L189.3,775.1 L188.8,774.1 L188.2,773.1 L187.6,772.1 L187,771.1 L186.4,770.1 L185.8,769.1 L185.3,768.1 L184.7,767.1 L184.1,766.1 L183.5,765.1 L182.9,764.1 L182.3,763.1 L181.7,762.1 L181.1,761.1 L180.5,760.1 L180,759.1 L179.5,758.1 L179,757.1 L178.6,756.1 L178.3,755.1 L178,754.1 L177.6,753.1 L177.3,752.1 L177,751.1 L176.7,750.1 L176.5,749.1 L176.2,748.1 L176,747.1 L175.8,746.1 L175.6,745.1 L175.5,744.1 L175.4,743.2 L175.4,742.2 L175.4,741.2 L175.5,740.2 L175.6,739.2 L175.7,738.2 L175.8,737.2 L176,736.2 L176.1,735.2 L176.3,734.2 L176.5,733.2 L176.7,732.2 L176.9,731.2 L177.1,730.2 L177.3,729.2 L177.5,728.2 L177.8,727.2 L178,726.2 L178.3,725.2 L178.7,724.2 L179,723.2 L179.3,722.2 L179.7,721.2 L180,720.2 L180.4,719.2 L180.7,718.2 L181,717.2 L181.3,716.2 L181.6,715.2 L181.9,714.2 L182.2,713.2 L182.6,712.2 L182.9,711.2 L183.2,710.2 L183.5,709.2 L183.8,708.2 L184.1,707.2 L184.4,706.2 L184.6,705.2 L184.8,704.2 L185,703.2 L185.2,702.2 L185.3,701.2 L185.5,700.2 L185.6,699.2 L185.8,698.2 L185.9,697.2 L186,696.2 L186.2,695.2 L186.3,694.2 L186.4,693.2 L186.5,692.2 L186.5,691.2 L186.6,690.2 L186.7,689.2 L186.7,688.2 L186.7,687.2 L186.8,686.2 L186.8,685.2 L186.8,684.2 L186.9,683.2 L186.9,682.2 L186.9,681.2 L187,680.2 L187,679.2 L187,678.2 L187.1,677.2 L187.2,676.2 L187.2,675.2 L187.3,674.2 L187.4,673.2 L187.5,672.2 L187.6,671.2 L187.8,670.2 L187.9,669.2 L188,668.2 L188.2,667.2 L188.3,666.2 L188.5,665.2 L188.7,664.2 L188.9,663.2 L189.1,662.2 L189.4,661.2 L189.7,660.2 L190,659.2 L190.3,658.2 L190.7,657.2 L191.1,656.2 L191.5,655.2 L191.9,654.2 L192.3,653.2 L192.7,652.2 L193.1,651.2 L193.5,650.2 L193.9,649.2 L194.3,648.2 L194.8,647.2 L195.3,646.2 L195.7,645.2 L196.2,644.2 L196.7,643.2 L197.2,642.2 L197.7,641.2 L198.1,640.2 L198.6,639.2 L199.1,638.2 L199.5,637.2 L200,636.2 L200.5,635.2 L201.1,634.2 L201.6,633.2 L202.1,632.2 L202.5,631.2 L202.9,630.2 L203.2,629.2 L203.4,628.2 L203.6,627.2 L203.7,626.2 L203.8,625.2 L203.9,624.2 L204,623.2 L204.1,622.2 L204.2,621.2 L204.3,620.2 L204.4,619.2 L204.4,618.2 L204.5,617.2 L204.6,616.2 L204.6,615.2 L204.7,614.2 L204.7,613.2 L204.7,612.2 L204.8,611.2 L204.8,610.2 L204.8,609.2 L204.8,608.2Z" fill="#A3A500" class="vo"/><line x1="204.8" y1="675.8" x2="204.8" y2="708.9" class="wk"/><line x1="204.8" y1="756" x2="204.8" y2="827.6" class="wk"/><rect x="195.3" y="708.9" width="19.1" height="47.1" class="bx"/><line x1="195.3" y1="745.2" x2="214.4" y2="745.2" class="md"/><line x1="301" y1="596.1" x2="301" y2="843" class="vl"/><path d="M301,599.2 L301,600.2 L301.1,601.2 L301.1,602.2 L301.2,603.2 L301.3,604.2 L301.4,605.2 L301.6,606.2 L301.7,607.2 L301.9,608.2 L302,609.2 L302.2,610.2 L302.4,611.2 L302.6,612.2 L302.8,613.2 L303,614.2 L303.3,615.2 L303.5,616.2 L303.7,617.2 L303.9,618.2 L304.2,619.2 L304.4,620.2 L304.7,621.2 L305.1,622.2 L305.4,623.2 L305.8,624.2 L306.2,625.2 L306.7,626.2 L307.1,627.2 L307.6,628.2 L308.1,629.2 L308.6,630.2 L309.1,631.2 L309.6,632.2 L310.1,633.2 L310.7,634.2 L311.2,635.2 L311.7,636.2 L312.2,637.2 L312.6,638.2 L313.1,639.2 L313.6,640.2 L314.1,641.2 L314.6,642.2 L315.2,643.2 L315.7,644.2 L316.2,645.2 L316.8,646.2 L317.3,647.2 L317.9,648.2 L318.4,649.2 L318.9,650.2 L319.4,651.2 L319.9,652.2 L320.4,653.2 L320.9,654.2 L321.4,655.2 L321.8,656.1 L322.2,657.1 L322.6,658.1 L323,659.1 L323.4,660.1 L323.7,661.1 L324.1,662.1 L324.5,663.1 L324.8,664.1 L325.1,665.1 L325.5,666.1 L325.8,667.1 L326.1,668.1 L326.4,669.1 L326.7,670.1 L327,671.1 L327.3,672.1 L327.5,673.1 L327.8,674.1 L328,675.1 L328.2,676.1 L328.4,677.1 L328.6,678.1 L328.7,679.1 L328.9,680.1 L329.1,681.1 L329.3,682.1 L329.4,683.1 L329.6,684.1 L329.7,685.1 L329.9,686.1 L330,687.1 L330.1,688.1 L330.2,689.1 L330.3,690.1 L330.3,691.1 L330.4,692.1 L330.4,693.1 L330.4,694.1 L330.3,695.1 L330.3,696.1 L330.2,697.1 L330,698.1 L329.9,699.1 L329.7,700.1 L329.5,701.1 L329.3,702.1 L329,703.1 L328.8,704.1 L328.6,705.1 L328.4,706.1 L328.1,707.1 L327.9,708.1 L327.7,709.1 L327.5,710.1 L327.2,711.1 L327,712.1 L326.7,713.1 L326.4,714.1 L326.2,715.1 L325.9,716.1 L325.6,717.1 L325.3,718.1 L325,719.1 L324.7,720.1 L324.4,721.1 L324.1,722.1 L323.8,723.1 L323.6,724.1 L323.3,725.1 L323.1,726.1 L322.9,727.1 L322.7,728.1 L322.6,729.1 L322.4,730.1 L322.3,731.1 L322.2,732.1 L322.1,733.1 L322,734.1 L321.9,735.1 L321.8,736.1 L321.7,737.1 L321.6,738.1 L321.5,739.1 L321.4,740.1 L321.3,741.1 L321.3,742.1 L321.2,743.1 L321.1,744.1 L321,745.1 L320.9,746.1 L320.8,747.1 L320.6,748.1 L320.5,749.1 L320.4,750.1 L320.3,751.1 L320.1,752.1 L320,753.1 L319.8,754.1 L319.7,755.1 L319.5,756.1 L319.4,757.1 L319.2,758.1 L319.1,759.1 L318.9,760.1 L318.7,761.1 L318.6,762.1 L318.4,763.1 L318.2,764.1 L318,765.1 L317.8,766.1 L317.6,767.1 L317.4,768.1 L317.2,769 L317,770 L316.8,771 L316.5,772 L316.3,773 L316,774 L315.7,775 L315.4,776 L315.1,777 L314.8,778 L314.4,779 L314.1,780 L313.8,781 L313.4,782 L313.1,783 L312.7,784 L312.4,785 L312,786 L311.7,787 L311.4,788 L311,789 L310.6,790 L310.3,791 L309.9,792 L309.5,793 L309.1,794 L308.7,795 L308.4,796 L308,797 L307.7,798 L307.3,799 L307,800 L306.7,801 L306.4,802 L306.1,803 L305.8,804 L305.5,805 L305.2,806 L304.9,807 L304.7,808 L304.4,809 L304.1,810 L303.9,811 L303.6,812 L303.4,813 L303.2,814 L302.9,815 L302.7,816 L302.5,817 L302.3,818 L302.1,819 L301.9,820 L301.7,821 L301.5,822 L301.3,823 L301.2,824 L301,825 L301,825 L300.8,824 L300.7,823 L300.5,822 L300.3,821 L300.1,820 L299.9,819 L299.7,818 L299.5,817 L299.3,816 L299.1,815 L298.8,814 L298.6,813 L298.4,812 L298.1,811 L297.9,810 L297.6,809 L297.3,808 L297.1,807 L296.8,806 L296.5,805 L296.2,804 L295.9,803 L295.6,802 L295.3,801 L295,800 L294.7,799 L294.3,798 L294,797 L293.6,796 L293.3,795 L292.9,794 L292.5,793 L292.1,792 L291.7,791 L291.4,790 L291,789 L290.6,788 L290.3,787 L290,786 L289.6,785 L289.3,784 L288.9,783 L288.6,782 L288.2,781 L287.9,780 L287.6,779 L287.2,778 L286.9,777 L286.6,776 L286.3,775 L286,774 L285.7,773 L285.5,772 L285.2,771 L285,770 L284.8,769 L284.6,768.1 L284.4,767.1 L284.2,766.1 L284,765.1 L283.8,764.1 L283.6,763.1 L283.4,762.1 L283.3,761.1 L283.1,760.1 L282.9,759.1 L282.8,758.1 L282.6,757.1 L282.5,756.1 L282.3,755.1 L282.2,754.1 L282,753.1 L281.9,752.1 L281.7,751.1 L281.6,750.1 L281.5,749.1 L281.4,748.1 L281.2,747.1 L281.1,746.1 L281,745.1 L280.9,744.1 L280.8,743.1 L280.7,742.1 L280.7,741.1 L280.6,740.1 L280.5,739.1 L280.4,738.1 L280.3,737.1 L280.2,736.1 L280.1,735.1 L280,734.1 L279.9,733.1 L279.8,732.1 L279.7,731.1 L279.6,730.1 L279.4,729.1 L279.3,728.1 L279.1,727.1 L278.9,726.1 L278.7,725.1 L278.4,724.1 L278.2,723.1 L277.9,722.1 L277.6,721.1 L277.3,720.1 L277,719.1 L276.7,718.1 L276.4,717.1 L276.1,716.1 L275.8,715.1 L275.6,714.1 L275.3,713.1 L275,712.1 L274.8,711.1 L274.5,710.1 L274.3,709.1 L274.1,708.1 L273.9,707.1 L273.6,706.1 L273.4,705.1 L273.2,704.1 L273,703.1 L272.7,702.1 L272.5,701.1 L272.3,700.1 L272.1,699.1 L272,698.1 L271.8,697.1 L271.7,696.1 L271.7,695.1 L271.6,694.1 L271.6,693.1 L271.6,692.1 L271.7,691.1 L271.7,690.1 L271.8,689.1 L271.9,688.1 L272,687.1 L272.1,686.1 L272.3,685.1 L272.4,684.1 L272.6,683.1 L272.7,682.1 L272.9,681.1 L273.1,680.1 L273.3,679.1 L273.4,678.1 L273.6,677.1 L273.8,676.1 L274,675.1 L274.2,674.1 L274.5,673.1 L274.7,672.1 L275,671.1 L275.3,670.1 L275.6,669.1 L275.9,668.1 L276.2,667.1 L276.5,666.1 L276.9,665.1 L277.2,664.1 L277.5,663.1 L277.9,662.1 L278.3,661.1 L278.6,660.1 L279,659.1 L279.4,658.1 L279.8,657.1 L280.2,656.1 L280.6,655.2 L281.1,654.2 L281.6,653.2 L282.1,652.2 L282.6,651.2 L283.1,650.2 L283.6,649.2 L284.1,648.2 L284.7,647.2 L285.2,646.2 L285.8,645.2 L286.3,644.2 L286.8,643.2 L287.4,642.2 L287.9,641.2 L288.4,640.2 L288.9,639.2 L289.4,638.2 L289.8,637.2 L290.3,636.2 L290.8,635.2 L291.3,634.2 L291.9,633.2 L292.4,632.2 L292.9,631.2 L293.4,630.2 L293.9,629.2 L294.4,628.2 L294.9,627.2 L295.3,626.2 L295.8,625.2 L296.2,624.2 L296.6,623.2 L296.9,622.2 L297.3,621.2 L297.6,620.2 L297.8,619.2 L298.1,618.2 L298.3,617.2 L298.5,616.2 L298.7,615.2 L299,614.2 L299.2,613.2 L299.4,612.2 L299.6,611.2 L299.8,610.2 L300,609.2 L300.1,608.2 L300.3,607.2 L300.4,606.2 L300.6,605.2 L300.7,604.2 L300.8,603.2 L300.9,602.2 L300.9,601.2 L301,600.2 L301,599.2Z" fill="#00BF7D" class="vo"/><line x1="301" y1="666.8" x2="301" y2="692.3" class="wk"/><line x1="301" y1="741.3" x2="301" y2="771.7" class="wk"/><rect x="291.3" y="692.3" width="20.2" height="49" class="bx"/><line x1="291.3" y1="703.2" x2="311.5" y2="703.2" class="md"/><line x1="398" y1="611" x2="398" y2="823" class="vl"/><path d="M398,611 L398,612 L398.1,613 L398.2,614 L398.3,615 L398.4,616 L398.6,617 L398.8,618 L399,619 L399.2,620 L399.5,621 L399.7,621.9 L400,622.9 L400.3,623.9 L400.6,624.9 L400.9,625.9 L401.2,626.9 L401.5,627.9 L401.9,628.9 L402.4,629.9 L402.9,630.9 L403.4,631.9 L404,632.9 L404.6,633.9 L405.3,634.9 L405.9,635.9 L406.7,636.9 L407.4,637.9 L408.1,638.9 L408.9,639.9 L409.6,640.9 L410.4,641.9 L411.1,642.8 L411.9,643.8 L412.6,644.8 L413.4,645.8 L414.1,646.8 L414.8,647.8 L415.6,648.8 L416.4,649.8 L417.2,650.8 L418.1,651.8 L418.9,652.8 L419.8,653.8 L420.7,654.8 L421.6,655.8 L422.4,656.8 L423.3,657.8 L424.1,658.8 L424.9,659.8 L425.7,660.8 L426.5,661.8 L427.3,662.8 L428,663.8 L428.6,664.7 L429.2,665.7 L429.8,666.7 L430.4,667.7 L431.1,668.7 L431.7,669.7 L432.3,670.7 L432.9,671.7 L433.5,672.7 L434.1,673.7 L434.7,674.7 L435.3,675.7 L435.8,676.7 L436.3,677.7 L436.7,678.7 L437.2,679.7 L437.5,680.7 L437.8,681.7 L438.1,682.7 L438.3,683.7 L438.4,684.7 L438.4,685.6 L438.3,686.6 L438.2,687.6 L438,688.6 L437.7,689.6 L437.3,690.6 L436.9,691.6 L436.4,692.6 L435.9,693.6 L435.4,694.6 L434.8,695.6 L434.2,696.6 L433.6,697.6 L433,698.6 L432.4,699.6 L431.8,700.6 L431.2,701.6 L430.6,702.6 L429.9,703.6 L429.2,704.6 L428.4,705.6 L427.5,706.5 L426.7,707.5 L425.8,708.5 L424.9,709.5 L424.1,710.5 L423.2,711.5 L422.4,712.5 L421.7,713.5 L421,714.5 L420.4,715.5 L419.8,716.5 L419.4,717.5 L419,718.5 L418.6,719.5 L418.2,720.5 L417.8,721.5 L417.4,722.5 L417,723.5 L416.7,724.5 L416.4,725.5 L416.1,726.5 L415.8,727.5 L415.5,728.4 L415.2,729.4 L414.9,730.4 L414.7,731.4 L414.5,732.4 L414.3,733.4 L414.1,734.4 L413.9,735.4 L413.7,736.4 L413.6,737.4 L413.4,738.4 L413.3,739.4 L413.2,740.4 L413.1,741.4 L413,742.4 L412.9,743.4 L412.8,744.4 L412.7,745.4 L412.6,746.4 L412.5,747.4 L412.4,748.4 L412.4,749.3 L412.3,750.3 L412.2,751.3 L412.1,752.3 L412,753.3 L411.9,754.3 L411.8,755.3 L411.7,756.3 L411.6,757.3 L411.5,758.3 L411.3,759.3 L411.2,760.3 L411.1,761.3 L411,762.3 L410.9,763.3 L410.7,764.3 L410.6,765.3 L410.5,766.3 L410.3,767.3 L410.2,768.3 L410.1,769.3 L409.9,770.2 L409.8,771.2 L409.6,772.2 L409.5,773.2 L409.3,774.2 L409.1,775.2 L408.9,776.2 L408.8,777.2 L408.5,778.2 L408.3,779.2 L408.1,780.2 L407.9,781.2 L407.6,782.2 L407.3,783.2 L407.1,784.2 L406.8,785.2 L406.5,786.2 L406.3,787.2 L406,788.2 L405.7,789.2 L405.4,790.2 L405.1,791.2 L404.8,792.1 L404.5,793.1 L404.3,794.1 L404,795.1 L403.7,796.1 L403.5,797.1 L403.2,798.1 L402.9,799.1 L402.6,800.1 L402.3,801.1 L402,802.1 L401.7,803.1 L401.4,804.1 L401.1,805.1 L400.8,806.1 L400.5,807.1 L400.3,808.1 L400,809.1 L399.8,810.1 L399.6,811.1 L399.4,812.1 L399.3,813 L399.1,814 L399,815 L398.8,816 L398.7,817 L398.5,818 L398.4,819 L398.3,820 L398.2,821 L398.1,822 L398,823 L398,823 L397.9,822 L397.8,821 L397.7,820 L397.6,819 L397.5,818 L397.3,817 L397.2,816 L397,815 L396.9,814 L396.7,813 L396.6,812.1 L396.4,811.1 L396.2,810.1 L396,809.1 L395.7,808.1 L395.5,807.1 L395.2,806.1 L394.9,805.1 L394.6,804.1 L394.3,803.1 L394,802.1 L393.7,801.1 L393.4,800.1 L393.1,799.1 L392.8,798.1 L392.5,797.1 L392.3,796.1 L392,795.1 L391.7,794.1 L391.5,793.1 L391.2,792.1 L390.9,791.2 L390.6,790.2 L390.3,789.2 L390,788.2 L389.7,787.2 L389.5,786.2 L389.2,785.2 L388.9,784.2 L388.7,783.2 L388.4,782.2 L388.1,781.2 L387.9,780.2 L387.7,779.2 L387.5,778.2 L387.2,777.2 L387.1,776.2 L386.9,775.2 L386.7,774.2 L386.5,773.2 L386.4,772.2 L386.2,771.2 L386.1,770.2 L385.9,769.3 L385.8,768.3 L385.7,767.3 L385.5,766.3 L385.4,765.3 L385.3,764.3 L385.1,763.3 L385,762.3 L384.9,761.3 L384.8,760.3 L384.7,759.3 L384.5,758.3 L384.4,757.3 L384.3,756.3 L384.2,755.3 L384.1,754.3 L384,753.3 L383.9,752.3 L383.8,751.3 L383.7,750.3 L383.6,749.3 L383.6,748.4 L383.5,747.4 L383.4,746.4 L383.3,745.4 L383.2,744.4 L383.1,743.4 L383,742.4 L382.9,741.4 L382.8,740.4 L382.7,739.4 L382.6,738.4 L382.4,737.4 L382.3,736.4 L382.1,735.4 L381.9,734.4 L381.7,733.4 L381.5,732.4 L381.3,731.4 L381.1,730.4 L380.8,729.4 L380.5,728.4 L380.2,727.5 L379.9,726.5 L379.6,725.5 L379.3,724.5 L379,723.5 L378.6,722.5 L378.2,721.5 L377.8,720.5 L377.4,719.5 L377,718.5 L376.6,717.5 L376.2,716.5 L375.6,715.5 L375,714.5 L374.3,713.5 L373.6,712.5 L372.8,711.5 L371.9,710.5 L371.1,709.5 L370.2,708.5 L369.3,707.5 L368.5,706.5 L367.6,705.6 L366.8,704.6 L366.1,703.6 L365.4,702.6 L364.8,701.6 L364.2,700.6 L363.6,699.6 L363,698.6 L362.4,697.6 L361.8,696.6 L361.2,695.6 L360.6,694.6 L360.1,693.6 L359.6,692.6 L359.1,691.6 L358.7,690.6 L358.3,689.6 L358,688.6 L357.8,687.6 L357.7,686.6 L357.6,685.6 L357.6,684.7 L357.7,683.7 L357.9,682.7 L358.2,681.7 L358.5,680.7 L358.8,679.7 L359.3,678.7 L359.7,677.7 L360.2,676.7 L360.7,675.7 L361.3,674.7 L361.9,673.7 L362.5,672.7 L363.1,671.7 L363.7,670.7 L364.3,669.7 L364.9,668.7 L365.6,667.7 L366.2,666.7 L366.8,665.7 L367.4,664.7 L368,663.8 L368.7,662.8 L369.5,661.8 L370.3,660.8 L371.1,659.8 L371.9,658.8 L372.7,657.8 L373.6,656.8 L374.4,655.8 L375.3,654.8 L376.2,653.8 L377.1,652.8 L377.9,651.8 L378.8,650.8 L379.6,649.8 L380.4,648.8 L381.2,647.8 L381.9,646.8 L382.6,645.8 L383.4,644.8 L384.1,643.8 L384.9,642.8 L385.6,641.9 L386.4,640.9 L387.1,639.9 L387.9,638.9 L388.6,637.9 L389.3,636.9 L390.1,635.9 L390.7,634.9 L391.4,633.9 L392,632.9 L392.6,631.9 L393.1,630.9 L393.6,629.9 L394.1,628.9 L394.5,627.9 L394.8,626.9 L395.1,625.9 L395.4,624.9 L395.7,623.9 L396,622.9 L396.3,621.9 L396.5,621 L396.8,620 L397,619 L397.2,618 L397.4,617 L397.6,616 L397.7,615 L397.8,614 L397.9,613 L398,612 L398,611Z" fill="#00B0F6" class="vo"/><line x1="398" y1="665.2" x2="398" y2="686.4" class="wk"/><line x1="398" y1="724.8" x2="398" y2="768.8" class="wk"/><rect x="388.5" y="686.4" width="19.7" height="38.4" class="bx"/><line x1="388.5" y1="694.2" x2="408.2" y2="694.2" class="md"/><line x1="494.9" y1="627.5" x2="494.9" y2="899.5" class="vl"/><path d="M494.9,646.3 L495,647.3 L495.2,648.3 L495.3,649.3 L495.5,650.3 L495.6,651.3 L495.8,652.3 L496,653.3 L496.1,654.3 L496.3,655.3 L496.5,656.3 L496.7,657.3 L496.9,658.3 L497.2,659.3 L497.4,660.3 L497.6,661.3 L497.9,662.3 L498.2,663.3 L498.4,664.3 L498.7,665.3 L499,666.2 L499.3,667.2 L499.6,668.2 L499.9,669.2 L500.3,670.2 L500.6,671.2 L500.9,672.2 L501.2,673.2 L501.6,674.2 L501.9,675.2 L502.2,676.2 L502.5,677.2 L502.9,678.2 L503.2,679.2 L503.6,680.2 L503.9,681.2 L504.3,682.2 L504.6,683.2 L505,684.2 L505.4,685.2 L505.8,686.2 L506.1,687.2 L506.5,688.2 L506.9,689.2 L507.3,690.2 L507.6,691.2 L508,692.2 L508.4,693.2 L508.7,694.2 L509.1,695.2 L509.4,696.2 L509.7,697.2 L510,698.2 L510.4,699.2 L510.7,700.2 L511,701.2 L511.3,702.2 L511.6,703.2 L511.9,704.2 L512.2,705.2 L512.5,706.1 L512.8,707.1 L513.1,708.1 L513.4,709.1 L513.7,710.1 L513.9,711.1 L514.2,712.1 L514.4,713.1 L514.7,714.1 L514.9,715.1 L515.1,716.1 L515.3,717.1 L515.5,718.1 L515.7,719.1 L515.9,720.1 L516.1,721.1 L516.3,722.1 L516.5,723.1 L516.7,724.1 L516.8,725.1 L517,726.1 L517.2,727.1 L517.3,728.1 L517.5,729.1 L517.6,730.1 L517.8,731.1 L517.9,732.1 L518,733.1 L518.1,734.1 L518.3,735.1 L518.4,736.1 L518.4,737.1 L518.5,738.1 L518.6,739.1 L518.7,740.1 L518.8,741.1 L518.9,742.1 L519,743.1 L519,744.1 L519.1,745.1 L519.2,746 L519.3,747 L519.3,748 L519.4,749 L519.4,750 L519.5,751 L519.5,752 L519.6,753 L519.6,754 L519.6,755 L519.6,756 L519.6,757 L519.6,758 L519.5,759 L519.5,760 L519.5,761 L519.4,762 L519.3,763 L519.3,764 L519.2,765 L519.1,766 L519,767 L519,768 L518.9,769 L518.8,770 L518.7,771 L518.6,772 L518.6,773 L518.5,774 L518.4,775 L518.4,776 L518.4,777 L518.3,778 L518.3,779 L518.2,780 L518.2,781 L518.2,782 L518.1,783 L518.1,784 L518.1,785 L518,786 L518,786.9 L518,787.9 L517.9,788.9 L517.9,789.9 L517.9,790.9 L517.8,791.9 L517.8,792.9 L517.8,793.9 L517.7,794.9 L517.7,795.9 L517.6,796.9 L517.6,797.9 L517.5,798.9 L517.5,799.9 L517.5,800.9 L517.4,801.9 L517.4,802.9 L517.3,803.9 L517.3,804.9 L517.2,805.9 L517.1,806.9 L517.1,807.9 L517,808.9 L516.9,809.9 L516.9,810.9 L516.8,811.9 L516.7,812.9 L516.6,813.9 L516.5,814.9 L516.4,815.9 L516.3,816.9 L516.1,817.9 L515.9,818.9 L515.7,819.9 L515.5,820.9 L515.3,821.9 L515,822.9 L514.7,823.9 L514.4,824.9 L514.1,825.9 L513.8,826.8 L513.5,827.8 L513.2,828.8 L512.9,829.8 L512.6,830.8 L512.3,831.8 L512,832.8 L511.7,833.8 L511.4,834.8 L511.1,835.8 L510.8,836.8 L510.4,837.8 L510.1,838.8 L509.8,839.8 L509.5,840.8 L509.1,841.8 L508.8,842.8 L508.4,843.8 L508.1,844.8 L507.7,845.8 L507.4,846.8 L507,847.8 L506.7,848.8 L506.3,849.8 L506,850.8 L505.6,851.8 L505.3,852.8 L504.9,853.8 L504.6,854.8 L504.2,855.8 L503.9,856.8 L503.5,857.8 L503.2,858.8 L502.8,859.8 L502.5,860.8 L502.1,861.8 L501.8,862.8 L501.4,863.8 L501,864.8 L500.7,865.8 L500.3,866.7 L500,867.7 L499.7,868.7 L499.3,869.7 L499,870.7 L498.7,871.7 L498.4,872.7 L498.1,873.7 L497.8,874.7 L497.5,875.7 L497.2,876.7 L496.9,877.7 L496.7,878.7 L496.4,879.7 L496.1,880.7 L495.9,881.7 L495.6,882.7 L495.4,883.7 L495.1,884.7 L494.9,885.7 L494.9,885.7 L494.7,884.7 L494.4,883.7 L494.2,882.7 L493.9,881.7 L493.7,880.7 L493.4,879.7 L493.1,878.7 L492.9,877.7 L492.6,876.7 L492.3,875.7 L492,874.7 L491.7,873.7 L491.4,872.7 L491.1,871.7 L490.8,870.7 L490.5,869.7 L490.1,868.7 L489.8,867.7 L489.5,866.7 L489.1,865.8 L488.8,864.8 L488.4,863.8 L488,862.8 L487.7,861.8 L487.3,860.8 L487,859.8 L486.6,858.8 L486.3,857.8 L485.9,856.8 L485.6,855.8 L485.2,854.8 L484.9,853.8 L484.5,852.8 L484.2,851.8 L483.8,850.8 L483.5,849.8 L483.1,848.8 L482.8,847.8 L482.4,846.8 L482.1,845.8 L481.7,844.8 L481.4,843.8 L481,842.8 L480.7,841.8 L480.3,840.8 L480,839.8 L479.7,838.8 L479.4,837.8 L479,836.8 L478.7,835.8 L478.4,834.8 L478.1,833.8 L477.8,832.8 L477.5,831.8 L477.2,830.8 L476.9,829.8 L476.6,828.8 L476.3,827.8 L476,826.8 L475.7,825.9 L475.4,824.9 L475.1,823.9 L474.8,822.9 L474.5,821.9 L474.3,820.9 L474.1,819.9 L473.9,818.9 L473.7,817.9 L473.5,816.9 L473.4,815.9 L473.3,814.9 L473.2,813.9 L473.1,812.9 L473,811.9 L472.9,810.9 L472.9,809.9 L472.8,808.9 L472.7,807.9 L472.7,806.9 L472.6,805.9 L472.5,804.9 L472.5,803.9 L472.4,802.9 L472.4,801.9 L472.3,800.9 L472.3,799.9 L472.3,798.9 L472.2,797.9 L472.2,796.9 L472.1,795.9 L472.1,794.9 L472,793.9 L472,792.9 L472,791.9 L471.9,790.9 L471.9,789.9 L471.9,788.9 L471.8,787.9 L471.8,786.9 L471.8,786 L471.7,785 L471.7,784 L471.7,783 L471.6,782 L471.6,781 L471.6,780 L471.5,779 L471.5,778 L471.4,777 L471.4,776 L471.4,775 L471.3,774 L471.2,773 L471.2,772 L471.1,771 L471,770 L470.9,769 L470.8,768 L470.8,767 L470.7,766 L470.6,765 L470.5,764 L470.5,763 L470.4,762 L470.3,761 L470.3,760 L470.3,759 L470.2,758 L470.2,757 L470.2,756 L470.2,755 L470.2,754 L470.2,753 L470.3,752 L470.3,751 L470.4,750 L470.4,749 L470.5,748 L470.5,747 L470.6,746 L470.7,745.1 L470.8,744.1 L470.8,743.1 L470.9,742.1 L471,741.1 L471.1,740.1 L471.2,739.1 L471.3,738.1 L471.4,737.1 L471.4,736.1 L471.5,735.1 L471.7,734.1 L471.8,733.1 L471.9,732.1 L472,731.1 L472.2,730.1 L472.3,729.1 L472.5,728.1 L472.6,727.1 L472.8,726.1 L473,725.1 L473.1,724.1 L473.3,723.1 L473.5,722.1 L473.7,721.1 L473.9,720.1 L474.1,719.1 L474.3,718.1 L474.5,717.1 L474.7,716.1 L474.9,715.1 L475.1,714.1 L475.4,713.1 L475.6,712.1 L475.9,711.1 L476.1,710.1 L476.4,709.1 L476.7,708.1 L477,707.1 L477.3,706.1 L477.6,705.2 L477.9,704.2 L478.2,703.2 L478.5,702.2 L478.8,701.2 L479.1,700.2 L479.4,699.2 L479.8,698.2 L480.1,697.2 L480.4,696.2 L480.7,695.2 L481.1,694.2 L481.4,693.2 L481.8,692.2 L482.2,691.2 L482.5,690.2 L482.9,689.2 L483.3,688.2 L483.7,687.2 L484,686.2 L484.4,685.2 L484.8,684.2 L485.2,683.2 L485.5,682.2 L485.9,681.2 L486.2,680.2 L486.6,679.2 L486.9,678.2 L487.3,677.2 L487.6,676.2 L487.9,675.2 L488.2,674.2 L488.6,673.2 L488.9,672.2 L489.2,671.2 L489.5,670.2 L489.9,669.2 L490.2,668.2 L490.5,667.2 L490.8,666.2 L491.1,665.3 L491.4,664.3 L491.6,663.3 L491.9,662.3 L492.2,661.3 L492.4,660.3 L492.6,659.3 L492.9,658.3 L493.1,657.3 L493.3,656.3 L493.5,655.3 L493.7,654.3 L493.8,653.3 L494,652.3 L494.2,651.3 L494.3,650.3 L494.5,649.3 L494.6,648.3 L494.8,647.3 L494.9,646.3Z" fill="#E76BF3" class="vo"/><line x1="494.9" y1="708" x2="494.9" y2="742.5" class="wk"/><line x1="494.9" y1="801.4" x2="494.9" y2="819" class="wk"/><rect x="485.1" y="742.5" width="19.6" height="58.9" class="bx"/><line x1="485.1" y1="764.1" x2="504.7" y2="764.1" class="md"/><path d="M108.5,633.2 V628.2 H204.8 V633.2" class="br"/><path d="M108.5,609.5 V604.5 H494.9 V609.5" class="br"/><path d="M398,586.6 V581.6 H494.9 V586.6" class="br"/><circle cx="155.9" cy="619.3" r="1.1" fill="#111"/><line x1="298.7" y1="596.1" x2="303.3" y2="596.1" stroke="#111" stroke-width="1.3"/><circle cx="446.2" cy="573.7" r="1.1" fill="#111"/></g>
<g><line x1="594.5" y1="570.3" x2="594.5" y2="914.4" class="ax"/><line x1="594.5" y1="914.4" x2="1078.4" y2="914.4" class="ax"/><line x1="591.5" y1="574.8" x2="594.5" y2="574.8" class="ax"/><text x="590" y="577.9" class="tk" text-anchor="end">1.02</text><line x1="591.5" y1="661.9" x2="594.5" y2="661.9" class="ax"/><text x="590" y="665" class="tk" text-anchor="end">0.98</text><line x1="591.5" y1="749" x2="594.5" y2="749" class="ax"/><text x="590" y="752.1" class="tk" text-anchor="end">0.94</text><line x1="591.5" y1="836.2" x2="594.5" y2="836.2" class="ax"/><text x="590" y="839.3" class="tk" text-anchor="end">0.90</text><line x1="650.8" y1="914.4" x2="650.8" y2="917.4" class="ax"/><line x1="743.3" y1="914.4" x2="743.3" y2="917.4" class="ax"/><line x1="837" y1="914.4" x2="837" y2="917.4" class="ax"/><line x1="929.6" y1="914.4" x2="929.6" y2="917.4" class="ax"/><line x1="1023.1" y1="914.4" x2="1023.1" y2="917.4" class="ax"/><text transform="translate(568.6,741.6) rotate(-90)" class="yl" text-anchor="middle" textLength="32.1" lengthAdjust="spacingAndGlyphs">simpson</text><text x="594.5" y="533.6" class="kw" textLength="112.2" lengthAdjust="spacingAndGlyphs">Kruskal-Wallis, p =0.073</text><line x1="650.8" y1="625.3" x2="650.8" y2="677.6" class="vl"/><path d="M650.8,625.3 L651.6,626.3 L652.6,627.3 L653.9,628.3 L655.3,629.2 L656.9,630.2 L658.7,631.2 L660.9,632.2 L663.6,633.2 L666.5,634.2 L669.4,635.2 L672.3,636.2 L675,637.1 L677.5,638.1 L680.1,639.1 L682.6,640.1 L685.1,641.1 L687.4,642.1 L689.4,643.1 L691.1,644 L692.6,645 L694.1,646 L695.5,647 L696.5,648 L697,649 L697,650 L696.5,651 L695.6,651.9 L694.4,652.9 L693,653.9 L691.5,654.9 L689.7,655.9 L687.2,656.9 L684,657.9 L680.6,658.9 L677.1,659.8 L673.9,660.8 L671.1,661.8 L668.7,662.8 L666.4,663.8 L664.2,664.8 L662.1,665.8 L660.2,666.7 L658.6,667.7 L657.4,668.7 L656.3,669.7 L655.2,670.7 L654.2,671.7 L653.3,672.7 L652.5,673.7 L651.8,674.6 L651.3,675.6 L650.9,676.6 L650.8,677.6 L650.8,677.6 L650.7,676.6 L650.3,675.6 L649.8,674.6 L649.1,673.7 L648.3,672.7 L647.4,671.7 L646.4,670.7 L645.3,669.7 L644.2,668.7 L643,667.7 L641.4,666.7 L639.5,665.8 L637.4,664.8 L635.2,663.8 L632.9,662.8 L630.5,661.8 L627.7,660.8 L624.5,659.8 L621,658.9 L617.6,657.9 L614.4,656.9 L611.9,655.9 L610.1,654.9 L608.6,653.9 L607.2,652.9 L606,651.9 L605.1,651 L604.6,650 L604.6,649 L605.1,648 L606.1,647 L607.5,646 L609,645 L610.5,644 L612.2,643.1 L614.2,642.1 L616.5,641.1 L619,640.1 L621.5,639.1 L624.1,638.1 L626.6,637.1 L629.3,636.2 L632.2,635.2 L635.1,634.2 L638,633.2 L640.7,632.2 L642.9,631.2 L644.7,630.2 L646.3,629.2 L647.7,628.3 L649,627.3 L650,626.3 L650.8,625.3Z" fill="#F8766D" class="vo"/><line x1="650.8" y1="629.7" x2="650.8" y2="643.2" class="wk"/><line x1="650.8" y1="655.2" x2="650.8" y2="661.9" class="wk"/><rect x="641" y="643.2" width="19.6" height="12" class="bx"/><line x1="641" y1="649.4" x2="660.6" y2="649.4" class="md"/><line x1="743.3" y1="585.1" x2="743.3" y2="898.7" class="vl"/><path d="M743.3,601.6 L743.5,602.6 L743.7,603.6 L743.9,604.6 L744.1,605.6 L744.3,606.6 L744.5,607.6 L744.7,608.6 L744.9,609.6 L745.1,610.6 L745.3,611.6 L745.5,612.6 L745.6,613.6 L745.8,614.6 L746,615.6 L746.2,616.6 L746.4,617.6 L746.6,618.6 L746.8,619.6 L747,620.6 L747.2,621.6 L747.4,622.6 L747.5,623.6 L747.7,624.6 L747.9,625.6 L748.1,626.6 L748.2,627.6 L748.4,628.6 L748.5,629.6 L748.7,630.6 L748.8,631.6 L749,632.6 L749.1,633.6 L749.3,634.6 L749.4,635.6 L749.5,636.6 L749.7,637.6 L749.8,638.6 L749.9,639.6 L750.1,640.6 L750.2,641.6 L750.3,642.6 L750.4,643.6 L750.6,644.6 L750.7,645.6 L750.8,646.6 L750.9,647.6 L751,648.6 L751.1,649.5 L751.1,650.5 L751.2,651.5 L751.3,652.5 L751.3,653.5 L751.4,654.5 L751.4,655.5 L751.5,656.5 L751.5,657.5 L751.6,658.5 L751.6,659.5 L751.6,660.5 L751.7,661.5 L751.7,662.5 L751.7,663.5 L751.8,664.5 L751.8,665.5 L751.8,666.5 L751.9,667.5 L751.9,668.5 L751.9,669.5 L752,670.5 L752,671.5 L752.1,672.5 L752.1,673.5 L752.2,674.5 L752.2,675.5 L752.3,676.5 L752.4,677.5 L752.4,678.5 L752.5,679.5 L752.6,680.5 L752.7,681.5 L752.8,682.5 L752.9,683.5 L753,684.5 L753.2,685.5 L753.3,686.5 L753.4,687.5 L753.5,688.5 L753.6,689.5 L753.8,690.5 L753.9,691.5 L754,692.5 L754.1,693.5 L754.2,694.5 L754.3,695.5 L754.4,696.5 L754.5,697.5 L754.6,698.5 L754.7,699.5 L754.8,700.5 L754.9,701.5 L754.9,702.5 L755,703.5 L755.1,704.5 L755.2,705.5 L755.2,706.5 L755.3,707.5 L755.3,708.5 L755.3,709.5 L755.2,710.5 L755,711.5 L754.7,712.5 L754.4,713.5 L754.1,714.5 L753.7,715.5 L753.3,716.5 L753,717.5 L752.6,718.5 L752.3,719.5 L752.1,720.5 L751.8,721.5 L751.6,722.5 L751.3,723.5 L751.1,724.5 L750.8,725.5 L750.6,726.5 L750.4,727.5 L750.1,728.5 L749.9,729.5 L749.7,730.5 L749.5,731.5 L749.3,732.5 L749.1,733.5 L748.9,734.5 L748.7,735.5 L748.6,736.5 L748.4,737.5 L748.2,738.5 L748.1,739.5 L747.9,740.5 L747.8,741.5 L747.7,742.5 L747.5,743.5 L747.4,744.4 L747.2,745.4 L747.1,746.4 L747,747.4 L746.8,748.4 L746.7,749.4 L746.5,750.4 L746.4,751.4 L746.2,752.4 L746.1,753.4 L745.9,754.4 L745.7,755.4 L745.5,756.4 L745.3,757.4 L745.1,758.4 L745,759.4 L744.8,760.4 L744.6,761.4 L744.5,762.4 L744.3,763.4 L744.2,764.4 L744.1,765.4 L744,766.4 L743.9,767.4 L743.8,768.4 L743.8,769.4 L743.8,770.4 L743.8,771.4 L743.7,772.4 L743.7,773.4 L743.7,774.4 L743.7,775.4 L743.7,776.4 L743.7,777.4 L743.7,778.4 L743.6,779.4 L743.6,780.4 L743.6,781.4 L743.6,782.4 L743.6,783.4 L743.6,784.4 L743.6,785.4 L743.6,786.4 L743.6,787.4 L743.6,788.4 L743.6,789.4 L743.7,790.4 L743.7,791.4 L743.8,792.4 L743.9,793.4 L744,794.4 L744.1,795.4 L744.2,796.4 L744.3,797.4 L744.4,798.4 L744.5,799.4 L744.6,800.4 L744.7,801.4 L744.8,802.4 L744.9,803.4 L745,804.4 L745.2,805.4 L745.3,806.4 L745.4,807.4 L745.6,808.4 L745.7,809.4 L745.9,810.4 L746.1,811.4 L746.2,812.4 L746.4,813.4 L746.6,814.4 L746.8,815.4 L746.9,816.4 L747.1,817.4 L747.3,818.4 L747.4,819.4 L747.5,820.4 L747.7,821.4 L747.8,822.4 L747.8,823.4 L747.9,824.4 L748,825.4 L748.1,826.4 L748.2,827.4 L748.3,828.4 L748.3,829.4 L748.4,830.4 L748.5,831.4 L748.5,832.4 L748.6,833.4 L748.6,834.4 L748.6,835.4 L748.7,836.4 L748.7,837.4 L748.7,838.3 L748.7,839.3 L748.7,840.3 L748.6,841.3 L748.5,842.3 L748.4,843.3 L748.3,844.3 L748.2,845.3 L748,846.3 L747.9,847.3 L747.7,848.3 L747.6,849.3 L747.4,850.3 L747.3,851.3 L747.1,852.3 L747,853.3 L746.9,854.3 L746.7,855.3 L746.6,856.3 L746.4,857.3 L746.3,858.3 L746.1,859.3 L745.9,860.3 L745.8,861.3 L745.6,862.3 L745.4,863.3 L745.2,864.3 L745.1,865.3 L744.9,866.3 L744.8,867.3 L744.6,868.3 L744.5,869.3 L744.4,870.3 L744.3,871.3 L744.2,872.3 L744.1,873.3 L744,874.3 L743.9,875.3 L743.8,876.3 L743.7,877.3 L743.7,878.3 L743.6,879.3 L743.5,880.3 L743.5,881.3 L743.4,882.3 L743.4,883.3 L743.3,884.3 L743.3,885.3 L743.3,885.3 L743.3,884.3 L743.2,883.3 L743.2,882.3 L743.1,881.3 L743.1,880.3 L743,879.3 L742.9,878.3 L742.9,877.3 L742.8,876.3 L742.7,875.3 L742.6,874.3 L742.5,873.3 L742.4,872.3 L742.3,871.3 L742.2,870.3 L742.1,869.3 L742,868.3 L741.8,867.3 L741.7,866.3 L741.5,865.3 L741.4,864.3 L741.2,863.3 L741,862.3 L740.8,861.3 L740.7,860.3 L740.5,859.3 L740.3,858.3 L740.2,857.3 L740,856.3 L739.9,855.3 L739.7,854.3 L739.6,853.3 L739.5,852.3 L739.3,851.3 L739.2,850.3 L739,849.3 L738.9,848.3 L738.7,847.3 L738.6,846.3 L738.4,845.3 L738.3,844.3 L738.2,843.3 L738.1,842.3 L738,841.3 L737.9,840.3 L737.9,839.3 L737.9,838.3 L737.9,837.4 L737.9,836.4 L738,835.4 L738,834.4 L738,833.4 L738.1,832.4 L738.1,831.4 L738.2,830.4 L738.3,829.4 L738.3,828.4 L738.4,827.4 L738.5,826.4 L738.6,825.4 L738.7,824.4 L738.8,823.4 L738.8,822.4 L738.9,821.4 L739.1,820.4 L739.2,819.4 L739.3,818.4 L739.5,817.4 L739.7,816.4 L739.8,815.4 L740,814.4 L740.2,813.4 L740.4,812.4 L740.5,811.4 L740.7,810.4 L740.9,809.4 L741,808.4 L741.2,807.4 L741.3,806.4 L741.4,805.4 L741.6,804.4 L741.7,803.4 L741.8,802.4 L741.9,801.4 L742,800.4 L742.1,799.4 L742.2,798.4 L742.3,797.4 L742.4,796.4 L742.5,795.4 L742.6,794.4 L742.7,793.4 L742.8,792.4 L742.9,791.4 L742.9,790.4 L743,789.4 L743,788.4 L743,787.4 L743,786.4 L743,785.4 L743,784.4 L743,783.4 L743,782.4 L743,781.4 L743,780.4 L743,779.4 L742.9,778.4 L742.9,777.4 L742.9,776.4 L742.9,775.4 L742.9,774.4 L742.9,773.4 L742.9,772.4 L742.8,771.4 L742.8,770.4 L742.8,769.4 L742.8,768.4 L742.7,767.4 L742.6,766.4 L742.5,765.4 L742.4,764.4 L742.3,763.4 L742.1,762.4 L742,761.4 L741.8,760.4 L741.6,759.4 L741.5,758.4 L741.3,757.4 L741.1,756.4 L740.9,755.4 L740.7,754.4 L740.5,753.4 L740.4,752.4 L740.2,751.4 L740.1,750.4 L739.9,749.4 L739.8,748.4 L739.6,747.4 L739.5,746.4 L739.4,745.4 L739.2,744.4 L739.1,743.5 L738.9,742.5 L738.8,741.5 L738.7,740.5 L738.5,739.5 L738.4,738.5 L738.2,737.5 L738,736.5 L737.9,735.5 L737.7,734.5 L737.5,733.5 L737.3,732.5 L737.1,731.5 L736.9,730.5 L736.7,729.5 L736.5,728.5 L736.2,727.5 L736,726.5 L735.8,725.5 L735.5,724.5 L735.3,723.5 L735,722.5 L734.8,721.5 L734.5,720.5 L734.3,719.5 L734,718.5 L733.6,717.5 L733.3,716.5 L732.9,715.5 L732.5,714.5 L732.2,713.5 L731.9,712.5 L731.6,711.5 L731.4,710.5 L731.3,709.5 L731.3,708.5 L731.3,707.5 L731.4,706.5 L731.4,705.5 L731.5,704.5 L731.6,703.5 L731.7,702.5 L731.7,701.5 L731.8,700.5 L731.9,699.5 L732,698.5 L732.1,697.5 L732.2,696.5 L732.3,695.5 L732.4,694.5 L732.5,693.5 L732.6,692.5 L732.7,691.5 L732.8,690.5 L733,689.5 L733.1,688.5 L733.2,687.5 L733.3,686.5 L733.4,685.5 L733.6,684.5 L733.7,683.5 L733.8,682.5 L733.9,681.5 L734,680.5 L734.1,679.5 L734.2,678.5 L734.2,677.5 L734.3,676.5 L734.4,675.5 L734.4,674.5 L734.5,673.5 L734.5,672.5 L734.6,671.5 L734.6,670.5 L734.7,669.5 L734.7,668.5 L734.7,667.5 L734.8,666.5 L734.8,665.5 L734.8,664.5 L734.9,663.5 L734.9,662.5 L734.9,661.5 L735,660.5 L735,659.5 L735,658.5 L735.1,657.5 L735.1,656.5 L735.2,655.5 L735.2,654.5 L735.3,653.5 L735.3,652.5 L735.4,651.5 L735.5,650.5 L735.5,649.5 L735.6,648.6 L735.7,647.6 L735.8,646.6 L735.9,645.6 L736,644.6 L736.2,643.6 L736.3,642.6 L736.4,641.6 L736.5,640.6 L736.7,639.6 L736.8,638.6 L736.9,637.6 L737.1,636.6 L737.2,635.6 L737.3,634.6 L737.5,633.6 L737.6,632.6 L737.8,631.6 L737.9,630.6 L738.1,629.6 L738.2,628.6 L738.4,627.6 L738.5,626.6 L738.7,625.6 L738.9,624.6 L739.1,623.6 L739.2,622.6 L739.4,621.6 L739.6,620.6 L739.8,619.6 L740,618.6 L740.2,617.6 L740.4,616.6 L740.6,615.6 L740.8,614.6 L741,613.6 L741.1,612.6 L741.3,611.6 L741.5,610.6 L741.7,609.6 L741.9,608.6 L742.1,607.6 L742.3,606.6 L742.5,605.6 L742.7,604.6 L742.9,603.6 L743.1,602.6 L743.3,601.6Z" fill="#A3A500" class="vo"/><line x1="743.3" y1="629.7" x2="743.3" y2="670" class="wk"/><line x1="743.3" y1="714.6" x2="743.3" y2="720" class="wk"/><rect x="734.4" y="670" width="18.7" height="44.6" class="bx"/><line x1="734.4" y1="708.8" x2="753.1" y2="708.8" class="md"/><circle cx="743.3" cy="837.5" r="1.8" fill="#000"/><line x1="837" y1="628.7" x2="837" y2="715.1" class="vl"/><path d="M837,628.7 L837.2,629.7 L837.9,630.7 L838.9,631.7 L840.1,632.7 L841.5,633.7 L843,634.7 L845,635.7 L847.7,636.6 L850.9,637.6 L854.4,638.6 L857.8,639.6 L861,640.6 L864.2,641.6 L867.6,642.6 L870.9,643.6 L873.9,644.6 L876.3,645.6 L878.3,646.6 L880.3,647.6 L881.9,648.6 L883,649.6 L883.3,650.5 L882.7,651.5 L881.5,652.5 L879.8,653.5 L877.8,654.5 L875.7,655.5 L873.6,656.5 L871.1,657.5 L868.2,658.5 L864.9,659.5 L861.6,660.5 L858.5,661.5 L855.5,662.5 L852.4,663.5 L849.2,664.5 L846.1,665.4 L843.5,666.4 L841.6,667.4 L840.5,668.4 L839.7,669.4 L839,670.4 L838.5,671.4 L838.1,672.4 L837.8,673.4 L837.8,674.4 L837.8,675.4 L837.8,676.4 L837.9,677.4 L837.9,678.4 L838,679.3 L838.1,680.3 L838.2,681.3 L838.3,682.3 L838.6,683.3 L839.1,684.3 L839.8,685.3 L840.5,686.3 L841.4,687.3 L842.3,688.3 L843.7,689.3 L845.4,690.3 L847.1,691.3 L848.9,692.3 L850.4,693.3 L851.7,694.2 L853,695.2 L854.3,696.2 L855.4,697.2 L856.2,698.2 L856.6,699.2 L856.3,700.2 L855.4,701.2 L854,702.2 L852.3,703.2 L850.6,704.2 L849,705.2 L847.5,706.2 L845.9,707.2 L844.3,708.1 L842.8,709.1 L841.4,710.1 L840.2,711.1 L839.2,712.1 L838.3,713.1 L837.6,714.1 L837,715.1 L837,715.1 L836.4,714.1 L835.7,713.1 L834.8,712.1 L833.8,711.1 L832.6,710.1 L831.2,709.1 L829.7,708.1 L828.1,707.2 L826.5,706.2 L825,705.2 L823.4,704.2 L821.7,703.2 L820,702.2 L818.6,701.2 L817.7,700.2 L817.4,699.2 L817.8,698.2 L818.6,697.2 L819.7,696.2 L821,695.2 L822.3,694.2 L823.6,693.3 L825.1,692.3 L826.9,691.3 L828.6,690.3 L830.3,689.3 L831.7,688.3 L832.6,687.3 L833.5,686.3 L834.2,685.3 L834.9,684.3 L835.4,683.3 L835.7,682.3 L835.8,681.3 L835.9,680.3 L836,679.3 L836.1,678.4 L836.1,677.4 L836.2,676.4 L836.2,675.4 L836.2,674.4 L836.2,673.4 L835.9,672.4 L835.5,671.4 L835,670.4 L834.3,669.4 L833.5,668.4 L832.4,667.4 L830.5,666.4 L827.9,665.4 L824.8,664.5 L821.6,663.5 L818.5,662.5 L815.5,661.5 L812.4,660.5 L809.1,659.5 L805.8,658.5 L802.9,657.5 L800.4,656.5 L798.3,655.5 L796.2,654.5 L794.2,653.5 L792.5,652.5 L791.3,651.5 L790.7,650.5 L791,649.6 L792.1,648.6 L793.7,647.6 L795.7,646.6 L797.7,645.6 L800.1,644.6 L803.1,643.6 L806.4,642.6 L809.8,641.6 L813,640.6 L816.2,639.6 L819.6,638.6 L823.1,637.6 L826.3,636.6 L829,635.7 L831,634.7 L832.5,633.7 L833.9,632.7 L835.1,631.7 L836.1,630.7 L836.8,629.7 L837,628.7Z" fill="#00BF7D" class="vo"/><line x1="837" y1="643.7" x2="837" y2="648.4" class="wk"/><line x1="837" y1="658.2" x2="837" y2="660" class="wk"/><rect x="827.1" y="648.4" width="18.9" height="9.8" class="bx"/><line x1="827.1" y1="653.5" x2="846" y2="653.5" class="md"/><circle cx="837" cy="700.2" r="1.8" fill="#000"/><line x1="929.6" y1="618.1" x2="929.6" y2="720.2" class="vl"/><path d="M929.6,618.1 L929.8,619.1 L930.2,620.1 L930.7,621.1 L931.3,622.1 L932.1,623.1 L932.9,624 L933.8,625 L934.7,626 L935.7,627 L937,628 L938.6,629 L940.5,630 L942.5,631 L944.5,632 L946.4,633 L948.2,634 L949.7,635 L951.2,635.9 L952.6,636.9 L954,637.9 L955.3,638.9 L956.5,639.9 L957.6,640.9 L958.6,641.9 L959.4,642.9 L960.2,643.9 L961.1,644.9 L961.8,645.9 L962.5,646.8 L963.1,647.8 L963.5,648.8 L963.8,649.8 L963.8,650.8 L963.6,651.8 L963.2,652.8 L962.6,653.8 L961.9,654.8 L961.2,655.8 L960.3,656.8 L959.5,657.8 L958.6,658.7 L957.4,659.7 L956,660.7 L954.4,661.7 L952.7,662.7 L951,663.7 L949.3,664.7 L947.8,665.7 L946.3,666.7 L944.8,667.7 L943.2,668.7 L941.7,669.6 L940.2,670.6 L938.9,671.6 L937.7,672.6 L936.9,673.6 L936.3,674.6 L935.7,675.6 L935.2,676.6 L934.7,677.6 L934.4,678.6 L934.3,679.6 L934.4,680.5 L934.7,681.5 L935.2,682.5 L935.8,683.5 L936.4,684.5 L937.1,685.5 L937.7,686.5 L938.1,687.5 L938.5,688.5 L938.8,689.5 L939.1,690.5 L939.5,691.5 L939.8,692.4 L940,693.4 L940.3,694.4 L940.4,695.4 L940.6,696.4 L940.6,697.4 L940.5,698.4 L940.3,699.4 L939.9,700.4 L939.4,701.4 L938.8,702.4 L938.1,703.3 L937.4,704.3 L936.7,705.3 L936.1,706.3 L935.5,707.3 L934.9,708.3 L934.2,709.3 L933.6,710.3 L932.9,711.3 L932.2,712.3 L931.6,713.3 L931.1,714.3 L930.8,715.2 L930.4,716.2 L930.2,717.2 L929.9,718.2 L929.7,719.2 L929.6,720.2 L929.6,720.2 L929.5,719.2 L929.3,718.2 L929,717.2 L928.8,716.2 L928.4,715.2 L928.1,714.3 L927.6,713.3 L927,712.3 L926.3,711.3 L925.6,710.3 L925,709.3 L924.3,708.3 L923.7,707.3 L923.1,706.3 L922.5,705.3 L921.8,704.3 L921.1,703.3 L920.4,702.4 L919.8,701.4 L919.3,700.4 L918.9,699.4 L918.7,698.4 L918.6,697.4 L918.6,696.4 L918.8,695.4 L918.9,694.4 L919.2,693.4 L919.4,692.4 L919.7,691.5 L920.1,690.5 L920.4,689.5 L920.7,688.5 L921.1,687.5 L921.5,686.5 L922.1,685.5 L922.8,684.5 L923.4,683.5 L924,682.5 L924.5,681.5 L924.8,680.5 L924.9,679.6 L924.8,678.6 L924.5,677.6 L924,676.6 L923.5,675.6 L922.9,674.6 L922.3,673.6 L921.5,672.6 L920.3,671.6 L919,670.6 L917.5,669.6 L916,668.7 L914.4,667.7 L912.9,666.7 L911.4,665.7 L909.9,664.7 L908.2,663.7 L906.5,662.7 L904.8,661.7 L903.2,660.7 L901.8,659.7 L900.6,658.7 L899.7,657.8 L898.9,656.8 L898,655.8 L897.3,654.8 L896.6,653.8 L896,652.8 L895.6,651.8 L895.4,650.8 L895.4,649.8 L895.7,648.8 L896.1,647.8 L896.7,646.8 L897.4,645.9 L898.1,644.9 L899,643.9 L899.8,642.9 L900.6,641.9 L901.6,640.9 L902.7,639.9 L903.9,638.9 L905.2,637.9 L906.6,636.9 L908,635.9 L909.5,635 L911,634 L912.8,633 L914.7,632 L916.7,631 L918.7,630 L920.6,629 L922.2,628 L923.5,627 L924.5,626 L925.4,625 L926.3,624 L927.1,623.1 L927.9,622.1 L928.5,621.1 L929,620.1 L929.4,619.1 L929.6,618.1Z" fill="#00B0F6" class="vo"/><line x1="929.6" y1="640.5" x2="929.6" y2="644.4" class="wk"/><line x1="929.6" y1="660.9" x2="929.6" y2="663" class="wk"/><rect x="920.6" y="644.4" width="18.5" height="16.5" class="bx"/><line x1="920.6" y1="653.1" x2="939.1" y2="653.1" class="md"/><circle cx="929.6" cy="697.9" r="1.8" fill="#000"/><line x1="1023.1" y1="595.3" x2="1023.1" y2="768.2" class="vl"/><path d="M1023.1,609.1 L1023.4,610.1 L1023.7,611.1 L1024,612.1 L1024.3,613.1 L1024.6,614.1 L1025,615.1 L1025.3,616.1 L1025.6,617.1 L1025.9,618.1 L1026.3,619.1 L1026.6,620.1 L1026.9,621.1 L1027.3,622 L1027.6,623 L1028,624 L1028.3,625 L1028.7,626 L1029,627 L1029.4,628 L1029.7,629 L1030,630 L1030.3,631 L1030.6,632 L1030.9,633 L1031.1,634 L1031.4,635 L1031.7,636 L1032,637 L1032.2,638 L1032.5,639 L1032.7,640 L1033,641 L1033.2,642 L1033.4,643 L1033.6,644 L1033.8,645 L1034,645.9 L1034.2,646.9 L1034.4,647.9 L1034.5,648.9 L1034.7,649.9 L1034.8,650.9 L1035,651.9 L1035.1,652.9 L1035.3,653.9 L1035.4,654.9 L1035.5,655.9 L1035.6,656.9 L1035.7,657.9 L1035.8,658.9 L1035.9,659.9 L1036,660.9 L1036.1,661.9 L1036.2,662.9 L1036.2,663.9 L1036.3,664.9 L1036.3,665.9 L1036.4,666.9 L1036.5,667.9 L1036.5,668.9 L1036.6,669.8 L1036.6,670.8 L1036.7,671.8 L1036.7,672.8 L1036.7,673.8 L1036.8,674.8 L1036.8,675.8 L1036.8,676.8 L1036.8,677.8 L1036.8,678.8 L1036.7,679.8 L1036.7,680.8 L1036.6,681.8 L1036.5,682.8 L1036.4,683.8 L1036.3,684.8 L1036.1,685.8 L1036,686.8 L1035.8,687.8 L1035.7,688.8 L1035.5,689.8 L1035.3,690.8 L1035.2,691.8 L1035,692.8 L1034.9,693.7 L1034.7,694.7 L1034.5,695.7 L1034.3,696.7 L1034.1,697.7 L1033.9,698.7 L1033.7,699.7 L1033.5,700.7 L1033.3,701.7 L1033.1,702.7 L1032.9,703.7 L1032.6,704.7 L1032.4,705.7 L1032.2,706.7 L1032,707.7 L1031.8,708.7 L1031.6,709.7 L1031.4,710.7 L1031.3,711.7 L1031.1,712.7 L1030.9,713.7 L1030.8,714.7 L1030.6,715.7 L1030.4,716.6 L1030.3,717.6 L1030.1,718.6 L1029.9,719.6 L1029.8,720.6 L1029.6,721.6 L1029.4,722.6 L1029.3,723.6 L1029.1,724.6 L1028.9,725.6 L1028.7,726.6 L1028.5,727.6 L1028.3,728.6 L1028.1,729.6 L1027.9,730.6 L1027.7,731.6 L1027.5,732.6 L1027.3,733.6 L1027.1,734.6 L1026.9,735.6 L1026.7,736.6 L1026.5,737.6 L1026.3,738.6 L1026,739.6 L1025.8,740.5 L1025.6,741.5 L1025.4,742.5 L1025.2,743.5 L1025,744.5 L1024.7,745.5 L1024.5,746.5 L1024.3,747.5 L1024,748.5 L1023.8,749.5 L1023.6,750.5 L1023.3,751.5 L1023.1,752.5 L1023.1,752.5 L1022.9,751.5 L1022.6,750.5 L1022.4,749.5 L1022.2,748.5 L1021.9,747.5 L1021.7,746.5 L1021.5,745.5 L1021.2,744.5 L1021,743.5 L1020.8,742.5 L1020.6,741.5 L1020.4,740.5 L1020.2,739.6 L1019.9,738.6 L1019.7,737.6 L1019.5,736.6 L1019.3,735.6 L1019.1,734.6 L1018.9,733.6 L1018.7,732.6 L1018.5,731.6 L1018.3,730.6 L1018.1,729.6 L1017.9,728.6 L1017.7,727.6 L1017.5,726.6 L1017.3,725.6 L1017.1,724.6 L1016.9,723.6 L1016.8,722.6 L1016.6,721.6 L1016.4,720.6 L1016.3,719.6 L1016.1,718.6 L1015.9,717.6 L1015.8,716.6 L1015.6,715.7 L1015.4,714.7 L1015.3,713.7 L1015.1,712.7 L1014.9,711.7 L1014.8,710.7 L1014.6,709.7 L1014.4,708.7 L1014.2,707.7 L1014,706.7 L1013.8,705.7 L1013.6,704.7 L1013.3,703.7 L1013.1,702.7 L1012.9,701.7 L1012.7,700.7 L1012.5,699.7 L1012.3,698.7 L1012.1,697.7 L1011.9,696.7 L1011.7,695.7 L1011.5,694.7 L1011.3,693.7 L1011.2,692.8 L1011,691.8 L1010.9,690.8 L1010.7,689.8 L1010.5,688.8 L1010.4,687.8 L1010.2,686.8 L1010.1,685.8 L1009.9,684.8 L1009.8,683.8 L1009.7,682.8 L1009.6,681.8 L1009.5,680.8 L1009.5,679.8 L1009.4,678.8 L1009.4,677.8 L1009.4,676.8 L1009.4,675.8 L1009.4,674.8 L1009.5,673.8 L1009.5,672.8 L1009.5,671.8 L1009.6,670.8 L1009.6,669.8 L1009.7,668.9 L1009.7,667.9 L1009.8,666.9 L1009.9,665.9 L1009.9,664.9 L1010,663.9 L1010,662.9 L1010.1,661.9 L1010.2,660.9 L1010.3,659.9 L1010.4,658.9 L1010.5,657.9 L1010.6,656.9 L1010.7,655.9 L1010.8,654.9 L1010.9,653.9 L1011.1,652.9 L1011.2,651.9 L1011.4,650.9 L1011.5,649.9 L1011.7,648.9 L1011.8,647.9 L1012,646.9 L1012.2,645.9 L1012.4,645 L1012.6,644 L1012.8,643 L1013,642 L1013.2,641 L1013.5,640 L1013.7,639 L1014,638 L1014.2,637 L1014.5,636 L1014.8,635 L1015.1,634 L1015.3,633 L1015.6,632 L1015.9,631 L1016.2,630 L1016.5,629 L1016.8,628 L1017.2,627 L1017.5,626 L1017.9,625 L1018.2,624 L1018.6,623 L1018.9,622 L1019.3,621.1 L1019.6,620.1 L1019.9,619.1 L1020.3,618.1 L1020.6,617.1 L1020.9,616.1 L1021.2,615.1 L1021.6,614.1 L1021.9,613.1 L1022.2,612.1 L1022.5,611.1 L1022.8,610.1 L1023.1,609.1Z" fill="#E76BF3" class="vo"/><line x1="1023.1" y1="647.2" x2="1023.1" y2="659" class="wk"/><line x1="1023.1" y1="697.5" x2="1023.1" y2="717.1" class="wk"/><rect x="1014.1" y="659" width="18.1" height="38.5" class="bx"/><line x1="1014.1" y1="677.8" x2="1032.2" y2="677.8" class="md"/><path d="M650.8,634.7 V629.7 H743.3 V634.7" class="br"/><circle cx="696.4" cy="621.7" r="1.1" fill="#111"/></g>
<g><g style="isolation:isolate"><path d="M1254.8,201.1 L1266.1,193.6 L1281.6,190.4 L1301,191.5 L1324.1,196.9 L1350.6,206.5 L1380,220.2 L1411.9,237.7 L1445.9,258.9 L1481.5,283.4 L1518.1,310.8 L1555.2,340.8 L1592.3,372.9 L1628.8,406.7 L1664.2,441.6 L1698,477.2 L1729.7,512.9 L1758.8,548.1 L1784.9,582.5 L1807.6,615.5 L1826.6,646.6 L1841.6,675.3 L1852.5,701.3 L1858.9,724.2 L1860.9,743.5 L1858.4,759.2 L1851.5,770.8 L1840.2,778.3 L1824.7,781.5 L1805.3,780.4 L1782.1,775 L1755.7,765.4 L1726.3,751.7 L1694.3,734.2 L1660.3,713 L1624.8,688.5 L1588.2,661.1 L1551.1,631.1 L1514,599 L1477.5,565.2 L1442.1,530.3 L1408.3,494.7 L1376.6,459.1 L1347.5,423.8 L1321.4,389.4 L1298.6,356.4 L1279.6,325.3 L1264.6,296.6 L1253.8,270.6 L1247.3,247.7 L1245.3,228.4 L1247.8,212.7Z" fill="#EAFFF6" stroke="none" style="mix-blend-mode:multiply"/><path d="M1302.7,362.1 L1313,347.5 L1326.8,335.1 L1343.8,325 L1363.8,317.5 L1386.5,312.5 L1411.5,310.3 L1438.6,310.8 L1467.2,314 L1497,319.8 L1527.6,328.3 L1558.5,339.2 L1589.3,352.4 L1619.4,367.7 L1648.6,384.9 L1676.2,403.7 L1702,423.9 L1725.6,445.1 L1746.6,467.2 L1764.7,489.6 L1779.6,512.2 L1791.2,534.5 L1799.2,556.3 L1803.6,577.2 L1804.3,596.9 L1801.2,615.2 L1794.4,631.8 L1784.1,646.4 L1770.3,658.8 L1753.3,668.9 L1733.3,676.4 L1710.6,681.4 L1685.6,683.6 L1658.5,683.1 L1629.9,679.9 L1600,674.1 L1569.4,665.6 L1538.6,654.7 L1507.8,641.5 L1477.6,626.2 L1448.5,609 L1420.9,590.2 L1395.1,570 L1371.5,548.7 L1350.5,526.7 L1332.4,504.3 L1317.5,481.7 L1305.9,459.4 L1297.9,437.6 L1293.5,416.7 L1292.8,397 L1295.9,378.7Z" fill="#E8FBFE" stroke="none" style="mix-blend-mode:multiply"/><path d="M1468.7,319 L1481,321.2 L1493,325.8 L1504.5,332.7 L1515.2,341.8 L1525.1,353 L1533.9,366.2 L1541.6,381.1 L1548.1,397.5 L1553.2,415.2 L1556.9,434 L1559.2,453.5 L1559.9,473.5 L1559.1,493.6 L1556.8,513.6 L1553.1,533.3 L1547.9,552.2 L1541.4,570.2 L1533.6,586.9 L1524.7,602.2 L1514.8,615.7 L1504.1,627.4 L1492.6,637 L1480.6,644.4 L1468.2,649.5 L1455.7,652.1 L1443.2,652.4 L1430.8,650.2 L1418.9,645.7 L1407.4,638.8 L1396.7,629.7 L1386.8,618.4 L1378,605.3 L1370.2,590.3 L1363.8,573.9 L1358.6,556.2 L1354.9,537.4 L1352.7,517.9 L1352,498 L1352.7,477.8 L1355,457.8 L1358.8,438.2 L1364,419.2 L1370.5,401.3 L1378.2,384.5 L1387.1,369.3 L1397,355.7 L1407.8,344 L1419.3,334.4 L1431.3,327.1 L1443.6,322 L1456.2,319.3Z" fill="#FFF3F1" stroke="none" style="mix-blend-mode:multiply"/><path d="M1544.8,262.2 L1561.8,262.9 L1578.8,267.1 L1595.5,274.8 L1611.6,285.8 L1627,300 L1641.5,317.1 L1654.7,337 L1666.5,359.2 L1676.8,383.6 L1685.4,409.7 L1692.1,437.2 L1696.9,465.6 L1699.7,494.6 L1700.4,523.7 L1699.1,552.5 L1695.8,580.6 L1690.4,607.6 L1683.2,633 L1674.2,656.6 L1663.5,677.9 L1651.2,696.6 L1637.7,712.6 L1623,725.4 L1607.3,735.1 L1591,741.3 L1574.2,744.1 L1557.2,743.4 L1540.3,739.2 L1523.6,731.5 L1507.4,720.5 L1492,706.3 L1477.6,689.2 L1464.4,669.3 L1452.5,647.1 L1442.3,622.7 L1433.7,596.6 L1427,569.1 L1422.2,540.7 L1419.4,511.7 L1418.6,482.6 L1419.9,453.8 L1423.3,425.7 L1428.6,398.7 L1435.9,373.3 L1444.9,349.8 L1455.6,328.5 L1467.8,309.7 L1481.4,293.8 L1496.1,280.9 L1511.7,271.2 L1528.1,265Z" fill="#FCFDEB" stroke="none" style="mix-blend-mode:multiply"/><path d="M1584.1,332.7 L1593.6,321.7 L1604.6,312.2 L1616.8,304.1 L1630.2,297.6 L1644.5,292.9 L1659.5,289.9 L1675,288.7 L1690.7,289.4 L1706.5,292 L1722.1,296.3 L1737.3,302.3 L1751.9,310 L1765.6,319.3 L1778.2,329.9 L1789.6,341.8 L1799.6,354.7 L1808.1,368.5 L1814.8,383 L1819.9,398 L1823,413.2 L1824.3,428.4 L1823.7,443.5 L1821.1,458.1 L1816.7,472.1 L1810.5,485.3 L1802.6,497.4 L1793.1,508.4 L1782.2,517.9 L1769.9,526 L1756.5,532.5 L1742.3,537.2 L1727.3,540.2 L1711.8,541.4 L1696,540.7 L1680.2,538.1 L1664.6,533.8 L1649.4,527.8 L1634.8,520.1 L1621.2,510.8 L1608.5,500.2 L1597.1,488.3 L1587.1,475.4 L1578.6,461.6 L1571.9,447.1 L1566.9,432.1 L1563.7,416.9 L1562.4,401.7 L1563.1,386.6 L1565.6,372 L1570,358 L1576.2,344.8Z" fill="#FDF7FF" stroke="none" style="mix-blend-mode:multiply"/></g><circle cx="1487.9" cy="347.7" r="6.3" fill="#fff" fill-opacity="0.7"/><circle cx="1487.9" cy="347.7" r="4.8" fill="#00BF7D" stroke="#15A546" stroke-width="1" stroke-opacity="0.9"/><circle cx="1487.9" cy="347.7" r="2.6" fill="none" stroke="#fff" stroke-opacity="0.25" stroke-width="0.8"/><circle cx="1472.8" cy="403" r="6.3" fill="#fff" fill-opacity="0.7"/><circle cx="1472.8" cy="403" r="4.8" fill="#00B0F6" stroke="#0E8AF0" stroke-width="1" stroke-opacity="0.9"/><circle cx="1472.8" cy="403" r="2.6" fill="none" stroke="#fff" stroke-opacity="0.25" stroke-width="0.8"/><circle cx="1419.4" cy="415.8" r="6.3" fill="#fff" fill-opacity="0.7"/><circle cx="1419.4" cy="415.8" r="4.8" fill="#00BF7D" stroke="#15A546" stroke-width="1" stroke-opacity="0.9"/><circle cx="1419.4" cy="415.8" r="2.6" fill="none" stroke="#fff" stroke-opacity="0.25" stroke-width="0.8"/><circle cx="1534.5" cy="408.9" r="6.3" fill="#fff" fill-opacity="0.7"/><circle cx="1534.5" cy="408.9" r="4.8" fill="#F8766D" stroke="#DE3C3A" stroke-width="1" stroke-opacity="0.9"/><circle cx="1534.5" cy="408.9" r="2.6" fill="none" stroke="#fff" stroke-opacity="0.25" stroke-width="0.8"/><circle cx="1537.9" cy="422.4" r="6.3" fill="#fff" fill-opacity="0.7"/><circle cx="1537.9" cy="422.4" r="4.8" fill="#A3A500" stroke="#738806" stroke-width="1" stroke-opacity="0.9"/><circle cx="1537.9" cy="422.4" r="2.6" fill="none" stroke="#fff" stroke-opacity="0.25" stroke-width="0.8"/><circle cx="1423.5" cy="447.4" r="6.3" fill="#fff" fill-opacity="0.7"/><circle cx="1423.5" cy="447.4" r="4.8" fill="#F8766D" stroke="#DE3C3A" stroke-width="1" stroke-opacity="0.9"/><circle cx="1423.5" cy="447.4" r="2.6" fill="none" stroke="#fff" stroke-opacity="0.25" stroke-width="0.8"/><circle cx="1461.4" cy="459.4" r="6.3" fill="#fff" fill-opacity="0.7"/><circle cx="1461.4" cy="459.4" r="4.8" fill="#F8766D" stroke="#DE3C3A" stroke-width="1" stroke-opacity="0.9"/><circle cx="1461.4" cy="459.4" r="2.6" fill="none" stroke="#fff" stroke-opacity="0.25" stroke-width="0.8"/><circle cx="1492.4" cy="460.4" r="6.3" fill="#fff" fill-opacity="0.7"/><circle cx="1492.4" cy="460.4" r="4.8" fill="#00B0F6" stroke="#0E8AF0" stroke-width="1" stroke-opacity="0.9"/><circle cx="1492.4" cy="460.4" r="2.6" fill="none" stroke="#fff" stroke-opacity="0.25" stroke-width="0.8"/><circle cx="1519.8" cy="473.4" r="6.3" fill="#fff" fill-opacity="0.7"/><circle cx="1519.8" cy="473.4" r="4.8" fill="#A3A500" stroke="#738806" stroke-width="1" stroke-opacity="0.9"/><circle cx="1519.8" cy="473.4" r="2.6" fill="none" stroke="#fff" stroke-opacity="0.25" stroke-width="0.8"/><circle cx="1528.6" cy="485.8" r="6.3" fill="#fff" fill-opacity="0.7"/><circle cx="1528.6" cy="485.8" r="4.8" fill="#00BF7D" stroke="#15A546" stroke-width="1" stroke-opacity="0.9"/><circle cx="1528.6" cy="485.8" r="2.6" fill="none" stroke="#fff" stroke-opacity="0.25" stroke-width="0.8"/><circle cx="1511.8" cy="499.6" r="6.3" fill="#fff" fill-opacity="0.7"/><circle cx="1511.8" cy="499.6" r="4.8" fill="#00B0F6" stroke="#0E8AF0" stroke-width="1" stroke-opacity="0.9"/><circle cx="1511.8" cy="499.6" r="2.6" fill="none" stroke="#fff" stroke-opacity="0.25" stroke-width="0.8"/><circle cx="1432.2" cy="501.1" r="6.3" fill="#fff" fill-opacity="0.7"/><circle cx="1432.2" cy="501.1" r="4.8" fill="#F8766D" stroke="#DE3C3A" stroke-width="1" stroke-opacity="0.9"/><circle cx="1432.2" cy="501.1" r="2.6" fill="none" stroke="#fff" stroke-opacity="0.25" stroke-width="0.8"/><circle cx="1447.7" cy="519.9" r="6.3" fill="#fff" fill-opacity="0.7"/><circle cx="1447.7" cy="519.9" r="4.8" fill="#F8766D" stroke="#DE3C3A" stroke-width="1" stroke-opacity="0.9"/><circle cx="1447.7" cy="519.9" r="2.6" fill="none" stroke="#fff" stroke-opacity="0.25" stroke-width="0.8"/><circle cx="1535.4" cy="549.3" r="6.3" fill="#fff" fill-opacity="0.7"/><circle cx="1535.4" cy="549.3" r="4.8" fill="#A3A500" stroke="#738806" stroke-width="1" stroke-opacity="0.9"/><circle cx="1535.4" cy="549.3" r="2.6" fill="none" stroke="#fff" stroke-opacity="0.25" stroke-width="0.8"/><circle cx="1486.4" cy="593.6" r="6.3" fill="#fff" fill-opacity="0.7"/><circle cx="1486.4" cy="593.6" r="4.8" fill="#F8766D" stroke="#DE3C3A" stroke-width="1" stroke-opacity="0.9"/><circle cx="1486.4" cy="593.6" r="2.6" fill="none" stroke="#fff" stroke-opacity="0.25" stroke-width="0.8"/><circle cx="1500.9" cy="601.4" r="6.3" fill="#fff" fill-opacity="0.7"/><circle cx="1500.9" cy="601.4" r="4.8" fill="#00B0F6" stroke="#0E8AF0" stroke-width="1" stroke-opacity="0.9"/><circle cx="1500.9" cy="601.4" r="2.6" fill="none" stroke="#fff" stroke-opacity="0.25" stroke-width="0.8"/><circle cx="1552.2" cy="613" r="6.3" fill="#fff" fill-opacity="0.7"/><circle cx="1552.2" cy="613" r="4.8" fill="#A3A500" stroke="#738806" stroke-width="1" stroke-opacity="0.9"/><circle cx="1552.2" cy="613" r="2.6" fill="none" stroke="#fff" stroke-opacity="0.25" stroke-width="0.8"/><circle cx="1597.9" cy="433.5" r="6.3" fill="#fff" fill-opacity="0.7"/><circle cx="1597.9" cy="433.5" r="4.8" fill="#E76BF3" stroke="#E22DEE" stroke-width="1" stroke-opacity="0.9"/><circle cx="1597.9" cy="433.5" r="2.6" fill="none" stroke="#fff" stroke-opacity="0.25" stroke-width="0.8"/><circle cx="1607" cy="421.9" r="6.3" fill="#fff" fill-opacity="0.7"/><circle cx="1607" cy="421.9" r="4.8" fill="#A3A500" stroke="#738806" stroke-width="1" stroke-opacity="0.9"/><circle cx="1607" cy="421.9" r="2.6" fill="none" stroke="#fff" stroke-opacity="0.25" stroke-width="0.8"/><circle cx="1605.5" cy="512.2" r="6.3" fill="#fff" fill-opacity="0.7"/><circle cx="1605.5" cy="512.2" r="4.8" fill="#00BF7D" stroke="#15A546" stroke-width="1" stroke-opacity="0.9"/><circle cx="1605.5" cy="512.2" r="2.6" fill="none" stroke="#fff" stroke-opacity="0.25" stroke-width="0.8"/><circle cx="1656.4" cy="520" r="6.3" fill="#fff" fill-opacity="0.7"/><circle cx="1656.4" cy="520" r="4.8" fill="#00B0F6" stroke="#0E8AF0" stroke-width="1" stroke-opacity="0.9"/><circle cx="1656.4" cy="520" r="2.6" fill="none" stroke="#fff" stroke-opacity="0.25" stroke-width="0.8"/><circle cx="1651.5" cy="539.1" r="6.3" fill="#fff" fill-opacity="0.7"/><circle cx="1651.5" cy="539.1" r="4.8" fill="#00B0F6" stroke="#0E8AF0" stroke-width="1" stroke-opacity="0.9"/><circle cx="1651.5" cy="539.1" r="2.6" fill="none" stroke="#fff" stroke-opacity="0.25" stroke-width="0.8"/><circle cx="1643.1" cy="559.8" r="6.3" fill="#fff" fill-opacity="0.7"/><circle cx="1643.1" cy="559.8" r="4.8" fill="#A3A500" stroke="#738806" stroke-width="1" stroke-opacity="0.9"/><circle cx="1643.1" cy="559.8" r="2.6" fill="none" stroke="#fff" stroke-opacity="0.25" stroke-width="0.8"/><circle cx="1667.7" cy="605" r="6.3" fill="#fff" fill-opacity="0.7"/><circle cx="1667.7" cy="605" r="4.8" fill="#00BF7D" stroke="#15A546" stroke-width="1" stroke-opacity="0.9"/><circle cx="1667.7" cy="605" r="2.6" fill="none" stroke="#fff" stroke-opacity="0.25" stroke-width="0.8"/><circle cx="1668.9" cy="392" r="6.3" fill="#fff" fill-opacity="0.7"/><circle cx="1668.9" cy="392" r="4.8" fill="#E76BF3" stroke="#E22DEE" stroke-width="1" stroke-opacity="0.9"/><circle cx="1668.9" cy="392" r="2.6" fill="none" stroke="#fff" stroke-opacity="0.25" stroke-width="0.8"/><circle cx="1692" cy="384.6" r="6.3" fill="#fff" fill-opacity="0.7"/><circle cx="1692" cy="384.6" r="4.8" fill="#E76BF3" stroke="#E22DEE" stroke-width="1" stroke-opacity="0.9"/><circle cx="1692" cy="384.6" r="2.6" fill="none" stroke="#fff" stroke-opacity="0.25" stroke-width="0.8"/><circle cx="1730.2" cy="407.5" r="6.3" fill="#fff" fill-opacity="0.7"/><circle cx="1730.2" cy="407.5" r="4.8" fill="#E76BF3" stroke="#E22DEE" stroke-width="1" stroke-opacity="0.9"/><circle cx="1730.2" cy="407.5" r="2.6" fill="none" stroke="#fff" stroke-opacity="0.25" stroke-width="0.8"/><circle cx="1719.8" cy="421.2" r="6.3" fill="#fff" fill-opacity="0.7"/><circle cx="1719.8" cy="421.2" r="4.8" fill="#E76BF3" stroke="#E22DEE" stroke-width="1" stroke-opacity="0.9"/><circle cx="1719.8" cy="421.2" r="2.6" fill="none" stroke="#fff" stroke-opacity="0.25" stroke-width="0.8"/><circle cx="1720.6" cy="527.5" r="6.3" fill="#fff" fill-opacity="0.7"/><circle cx="1720.6" cy="527.5" r="4.8" fill="#E76BF3" stroke="#E22DEE" stroke-width="1" stroke-opacity="0.9"/><circle cx="1720.6" cy="527.5" r="2.6" fill="none" stroke="#fff" stroke-opacity="0.25" stroke-width="0.8"/><path d="M1254.8,201.1 L1266.1,193.6 L1281.6,190.4 L1301,191.5 L1324.1,196.9 L1350.6,206.5 L1380,220.2 L1411.9,237.7 L1445.9,258.9 L1481.5,283.4 L1518.1,310.8 L1555.2,340.8 L1592.3,372.9 L1628.8,406.7 L1664.2,441.6 L1698,477.2 L1729.7,512.9 L1758.8,548.1 L1784.9,582.5 L1807.6,615.5 L1826.6,646.6 L1841.6,675.3 L1852.5,701.3 L1858.9,724.2 L1860.9,743.5 L1858.4,759.2 L1851.5,770.8 L1840.2,778.3 L1824.7,781.5 L1805.3,780.4 L1782.1,775 L1755.7,765.4 L1726.3,751.7 L1694.3,734.2 L1660.3,713 L1624.8,688.5 L1588.2,661.1 L1551.1,631.1 L1514,599 L1477.5,565.2 L1442.1,530.3 L1408.3,494.7 L1376.6,459.1 L1347.5,423.8 L1321.4,389.4 L1298.6,356.4 L1279.6,325.3 L1264.6,296.6 L1253.8,270.6 L1247.3,247.7 L1245.3,228.4 L1247.8,212.7Z" fill="none" stroke="#15A546" stroke-width="2" stroke-linejoin="round"/><path d="M1302.7,362.1 L1313,347.5 L1326.8,335.1 L1343.8,325 L1363.8,317.5 L1386.5,312.5 L1411.5,310.3 L1438.6,310.8 L1467.2,314 L1497,319.8 L1527.6,328.3 L1558.5,339.2 L1589.3,352.4 L1619.4,367.7 L1648.6,384.9 L1676.2,403.7 L1702,423.9 L1725.6,445.1 L1746.6,467.2 L1764.7,489.6 L1779.6,512.2 L1791.2,534.5 L1799.2,556.3 L1803.6,577.2 L1804.3,596.9 L1801.2,615.2 L1794.4,631.8 L1784.1,646.4 L1770.3,658.8 L1753.3,668.9 L1733.3,676.4 L1710.6,681.4 L1685.6,683.6 L1658.5,683.1 L1629.9,679.9 L1600,674.1 L1569.4,665.6 L1538.6,654.7 L1507.8,641.5 L1477.6,626.2 L1448.5,609 L1420.9,590.2 L1395.1,570 L1371.5,548.7 L1350.5,526.7 L1332.4,504.3 L1317.5,481.7 L1305.9,459.4 L1297.9,437.6 L1293.5,416.7 L1292.8,397 L1295.9,378.7Z" fill="none" stroke="#0E8AF0" stroke-width="2" stroke-linejoin="round"/><path d="M1468.7,319 L1481,321.2 L1493,325.8 L1504.5,332.7 L1515.2,341.8 L1525.1,353 L1533.9,366.2 L1541.6,381.1 L1548.1,397.5 L1553.2,415.2 L1556.9,434 L1559.2,453.5 L1559.9,473.5 L1559.1,493.6 L1556.8,513.6 L1553.1,533.3 L1547.9,552.2 L1541.4,570.2 L1533.6,586.9 L1524.7,602.2 L1514.8,615.7 L1504.1,627.4 L1492.6,637 L1480.6,644.4 L1468.2,649.5 L1455.7,652.1 L1443.2,652.4 L1430.8,650.2 L1418.9,645.7 L1407.4,638.8 L1396.7,629.7 L1386.8,618.4 L1378,605.3 L1370.2,590.3 L1363.8,573.9 L1358.6,556.2 L1354.9,537.4 L1352.7,517.9 L1352,498 L1352.7,477.8 L1355,457.8 L1358.8,438.2 L1364,419.2 L1370.5,401.3 L1378.2,384.5 L1387.1,369.3 L1397,355.7 L1407.8,344 L1419.3,334.4 L1431.3,327.1 L1443.6,322 L1456.2,319.3Z" fill="none" stroke="#DE3C3A" stroke-width="2" stroke-linejoin="round"/><path d="M1544.8,262.2 L1561.8,262.9 L1578.8,267.1 L1595.5,274.8 L1611.6,285.8 L1627,300 L1641.5,317.1 L1654.7,337 L1666.5,359.2 L1676.8,383.6 L1685.4,409.7 L1692.1,437.2 L1696.9,465.6 L1699.7,494.6 L1700.4,523.7 L1699.1,552.5 L1695.8,580.6 L1690.4,607.6 L1683.2,633 L1674.2,656.6 L1663.5,677.9 L1651.2,696.6 L1637.7,712.6 L1623,725.4 L1607.3,735.1 L1591,741.3 L1574.2,744.1 L1557.2,743.4 L1540.3,739.2 L1523.6,731.5 L1507.4,720.5 L1492,706.3 L1477.6,689.2 L1464.4,669.3 L1452.5,647.1 L1442.3,622.7 L1433.7,596.6 L1427,569.1 L1422.2,540.7 L1419.4,511.7 L1418.6,482.6 L1419.9,453.8 L1423.3,425.7 L1428.6,398.7 L1435.9,373.3 L1444.9,349.8 L1455.6,328.5 L1467.8,309.7 L1481.4,293.8 L1496.1,280.9 L1511.7,271.2 L1528.1,265Z" fill="none" stroke="#738806" stroke-width="2" stroke-linejoin="round"/><path d="M1584.1,332.7 L1593.6,321.7 L1604.6,312.2 L1616.8,304.1 L1630.2,297.6 L1644.5,292.9 L1659.5,289.9 L1675,288.7 L1690.7,289.4 L1706.5,292 L1722.1,296.3 L1737.3,302.3 L1751.9,310 L1765.6,319.3 L1778.2,329.9 L1789.6,341.8 L1799.6,354.7 L1808.1,368.5 L1814.8,383 L1819.9,398 L1823,413.2 L1824.3,428.4 L1823.7,443.5 L1821.1,458.1 L1816.7,472.1 L1810.5,485.3 L1802.6,497.4 L1793.1,508.4 L1782.2,517.9 L1769.9,526 L1756.5,532.5 L1742.3,537.2 L1727.3,540.2 L1711.8,541.4 L1696,540.7 L1680.2,538.1 L1664.6,533.8 L1649.4,527.8 L1634.8,520.1 L1621.2,510.8 L1608.5,500.2 L1597.1,488.3 L1587.1,475.4 L1578.6,461.6 L1571.9,447.1 L1566.9,432.1 L1563.7,416.9 L1562.4,401.7 L1563.1,386.6 L1565.6,372 L1570,358 L1576.2,344.8Z" fill="none" stroke="#E22DEE" stroke-width="2" stroke-linejoin="round"/><rect x="1213.4" y="160.2" width="675.8" height="649.3" fill="none" stroke="#333" stroke-width="1.4"/><line x1="1207.9" y1="185.3" x2="1213.4" y2="185.3" stroke="#333" stroke-width="1.4"/><text x="1164" y="191.7" class="pt" textLength="38.7" lengthAdjust="spacingAndGlyphs">0.50</text><line x1="1207.9" y1="333.1" x2="1213.4" y2="333.1" stroke="#333" stroke-width="1.4"/><text x="1164" y="339.5" class="pt" textLength="38.7" lengthAdjust="spacingAndGlyphs">0.25</text><line x1="1207.9" y1="480.6" x2="1213.4" y2="480.6" stroke="#333" stroke-width="1.4"/><text x="1164" y="487" class="pt" textLength="38.7" lengthAdjust="spacingAndGlyphs">0.00</text><line x1="1207.9" y1="628" x2="1213.4" y2="628" stroke="#333" stroke-width="1.4"/><text x="1151.7" y="634.4" class="pt" textLength="51" lengthAdjust="spacingAndGlyphs">−0.25</text><line x1="1207.9" y1="775.6" x2="1213.4" y2="775.6" stroke="#333" stroke-width="1.4"/><text x="1151.7" y="782" class="pt" textLength="51" lengthAdjust="spacingAndGlyphs">−0.50</text><line x1="1214.3" y1="809.5" x2="1214.3" y2="814.5" stroke="#333" stroke-width="1.4"/><text x="1188.6" y="834.4" class="pt" textLength="51.3" lengthAdjust="spacingAndGlyphs">−0.50</text><line x1="1388.1" y1="809.5" x2="1388.1" y2="814.5" stroke="#333" stroke-width="1.4"/><text x="1362.4" y="834.4" class="pt" textLength="51.3" lengthAdjust="spacingAndGlyphs">−0.25</text><line x1="1562.2" y1="809.5" x2="1562.2" y2="814.5" stroke="#333" stroke-width="1.4"/><text x="1543" y="834.4" class="pt" textLength="38.5" lengthAdjust="spacingAndGlyphs">0.00</text><line x1="1736.3" y1="809.5" x2="1736.3" y2="814.5" stroke="#333" stroke-width="1.4"/><text x="1717" y="834.4" class="pt" textLength="38.5" lengthAdjust="spacingAndGlyphs">0.25</text><text x="1551.8" y="866.7" class="at" text-anchor="middle" textLength="231.8" lengthAdjust="spacingAndGlyphs">PCoA1(10.89%)</text><text transform="translate(1139.4,484.6) rotate(-90)" class="at" text-anchor="middle" textLength="212.7" lengthAdjust="spacingAndGlyphs">PCoA2(8.81%)</text><text x="1551.6" y="117.2" class="tt" text-anchor="middle" textLength="412.4" lengthAdjust="spacingAndGlyphs">PCoA plot ( P=0.001 )</text><text x="1911.9" y="407.4" class="lg" textLength="92.4" lengthAdjust="spacingAndGlyphs">Group</text><rect x="1912.5" y="428.8" width="29" height="29" fill="#F8766D" fill-opacity="0.06" stroke="#DE3C3A" stroke-width="2"/><circle cx="1926.9" cy="443" r="5" fill="#F8766D" stroke="#DE3C3A" stroke-width="0.8"/><text x="1952.4" y="451.1" class="ll" textLength="46.9" lengthAdjust="spacingAndGlyphs">CON</text><rect x="1912.5" y="461.1" width="29" height="29" fill="#A3A500" fill-opacity="0.06" stroke="#738806" stroke-width="2"/><circle cx="1926.9" cy="475.2" r="5" fill="#A3A500" stroke="#738806" stroke-width="0.8"/><text x="1952.4" y="483.4" class="ll" textLength="26.2" lengthAdjust="spacingAndGlyphs">G1</text><rect x="1912.5" y="493.3" width="29" height="29" fill="#00BF7D" fill-opacity="0.06" stroke="#15A546" stroke-width="2"/><circle cx="1926.9" cy="507.5" r="5" fill="#00BF7D" stroke="#15A546" stroke-width="0.8"/><text x="1952.4" y="515.6" class="ll" textLength="26.5" lengthAdjust="spacingAndGlyphs">G2</text><rect x="1912.5" y="525.6" width="29" height="29" fill="#00B0F6" fill-opacity="0.06" stroke="#0E8AF0" stroke-width="2"/><circle cx="1926.9" cy="539.8" r="5" fill="#00B0F6" stroke="#0E8AF0" stroke-width="0.8"/><text x="1952.4" y="547.9" class="ll" textLength="26.3" lengthAdjust="spacingAndGlyphs">G3</text><rect x="1912.5" y="557.8" width="29" height="29" fill="#E76BF3" fill-opacity="0.06" stroke="#E22DEE" stroke-width="2"/><circle cx="1926.9" cy="572" r="5" fill="#E76BF3" stroke="#E22DEE" stroke-width="0.8"/><text x="1952.4" y="580.1" class="ll" textLength="26.8" lengthAdjust="spacingAndGlyphs">G4</text></g>
</svg></body></html>
